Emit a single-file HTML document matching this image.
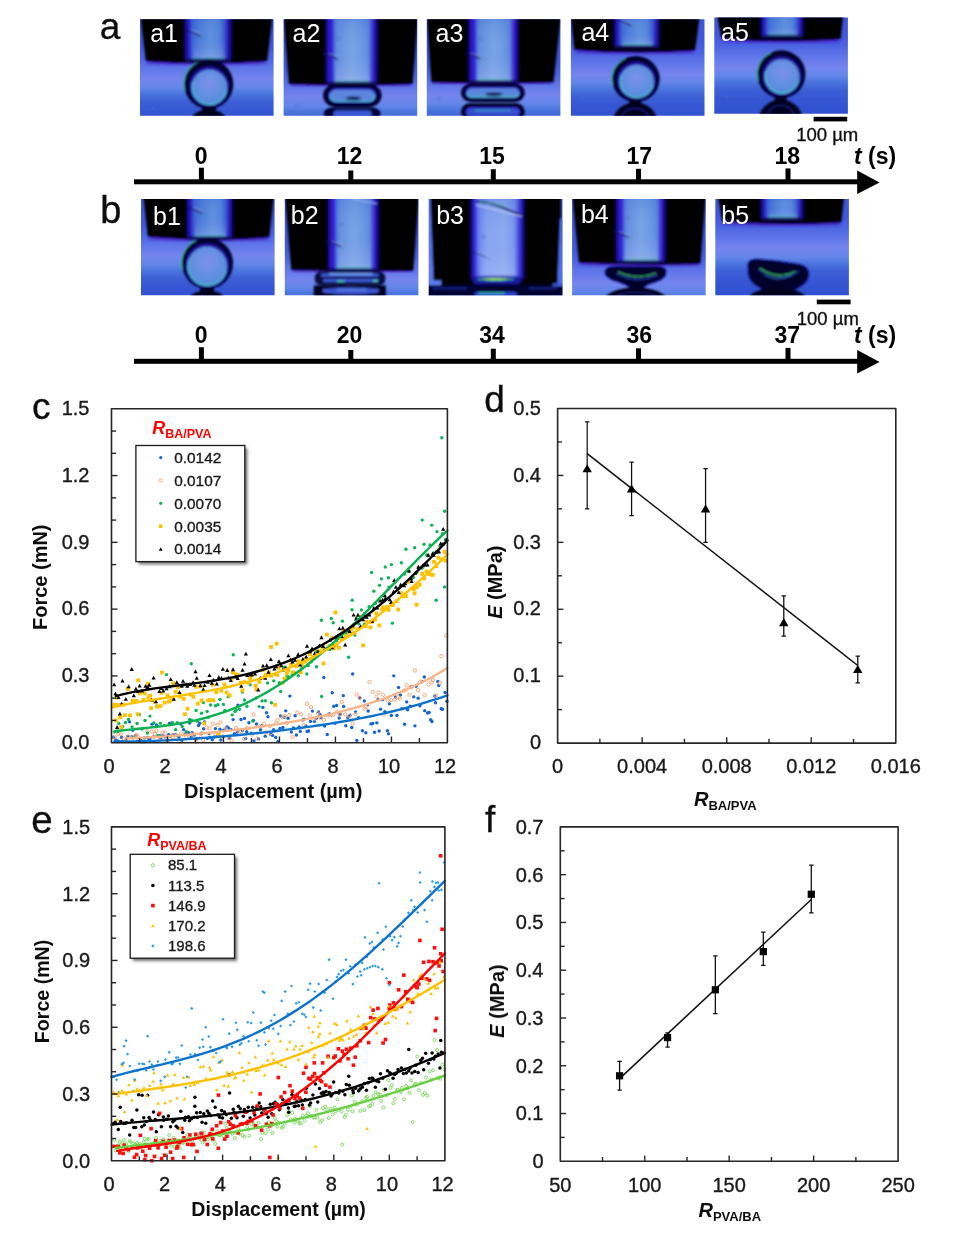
<!DOCTYPE html>
<html><head><meta charset="utf-8"><title>figure</title>
<style>html,body{margin:0;padding:0;background:#fff;}svg{display:block;}text{font-family:"Liberation Sans", sans-serif;}</style></head><body>
<svg width="955" height="1233" viewBox="0 0 955 1233">
<defs><filter id="shadow" x="-20%" y="-20%" width="140%" height="140%"><feGaussianBlur stdDeviation="1.6"/></filter><filter id="soft" x="0" y="0" width="100%" height="100%" filterUnits="userSpaceOnUse"><feGaussianBlur stdDeviation="0.42"/></filter></defs>
<rect width="955" height="1233" fill="#fff"/>
<g filter="url(#soft)">
<text x="99.8" y="38.8" font-size="37" text-anchor="start" font-weight="normal" font-style="normal" fill="#111"  stroke="#111" stroke-width="0.35">a</text>
<text x="100.2" y="222.7" font-size="38" text-anchor="start" font-weight="normal" font-style="normal" fill="#111"  stroke="#111" stroke-width="0.35">b</text>
<text x="32" y="418.5" font-size="37" text-anchor="start" font-weight="normal" font-style="normal" fill="#111"  stroke="#111" stroke-width="0.35">c</text>
<text x="484.2" y="412" font-size="37" text-anchor="start" font-weight="normal" font-style="normal" fill="#111"  stroke="#111" stroke-width="0.35">d</text>
<text x="31.3" y="832.6" font-size="38.5" text-anchor="start" font-weight="normal" font-style="normal" fill="#111"  stroke="#111" stroke-width="0.35">e</text>
<text x="485" y="831.5" font-size="37" text-anchor="start" font-weight="normal" font-style="normal" fill="#111"  stroke="#111" stroke-width="0.35">f</text>
<defs><filter id="b1" x="-10%" y="-10%" width="120%" height="120%"><feGaussianBlur stdDeviation="0.9"/></filter><filter id="b2" x="-20%" y="-20%" width="140%" height="140%"><feGaussianBlur stdDeviation="1.6"/></filter><filter id="b3" x="-30%" y="-30%" width="160%" height="160%"><feGaussianBlur stdDeviation="3"/></filter><linearGradient id="col" x1="0" y1="0" x2="1" y2="0"><stop offset="0" stop-color="#000"/><stop offset="0.035" stop-color="#0a0550"/><stop offset="0.08" stop-color="#2a14c4"/><stop offset="0.15" stop-color="#3626d4"/><stop offset="0.19" stop-color="#4c70dc"/><stop offset="0.24" stop-color="#6490de"/><stop offset="0.50" stop-color="#78a4e6"/><stop offset="0.66" stop-color="#6e9ce4"/><stop offset="0.80" stop-color="#5e8cde"/><stop offset="0.855" stop-color="#4a4cd6"/><stop offset="0.91" stop-color="#3016c6"/><stop offset="0.965" stop-color="#0c0658"/><stop offset="1" stop-color="#000"/></linearGradient><linearGradient id="colD" x1="0" y1="0" x2="1" y2="0"><stop offset="0" stop-color="#000"/><stop offset="0.04" stop-color="#0a0550"/><stop offset="0.08" stop-color="#2412b8"/><stop offset="0.13" stop-color="#2c28c8"/><stop offset="0.18" stop-color="#3c60d4"/><stop offset="0.30" stop-color="#4a7ad8"/><stop offset="0.55" stop-color="#5e90e0"/><stop offset="0.72" stop-color="#5486dc"/><stop offset="0.82" stop-color="#3c5cd2"/><stop offset="0.90" stop-color="#2a16bc"/><stop offset="0.96" stop-color="#0c0658"/><stop offset="1" stop-color="#000"/></linearGradient><linearGradient id="colB" x1="0" y1="0" x2="1" y2="0"><stop offset="0" stop-color="#000"/><stop offset="0.04" stop-color="#140a80"/><stop offset="0.10" stop-color="#3a2ae0"/><stop offset="0.17" stop-color="#6a84ee"/><stop offset="0.30" stop-color="#86a4f0"/><stop offset="0.62" stop-color="#8eacf2"/><stop offset="0.80" stop-color="#7a98ee"/><stop offset="0.88" stop-color="#4a48e2"/><stop offset="0.95" stop-color="#1a10a0"/><stop offset="1" stop-color="#000"/></linearGradient><linearGradient id="colV" x1="0" y1="0" x2="0" y2="1"><stop offset="0" stop-color="#2050c0" stop-opacity="0.22"/><stop offset="0.5" stop-color="#8090e0" stop-opacity="0"/><stop offset="1" stop-color="#c8d0ff" stop-opacity="0.3"/></linearGradient><radialGradient id="beadin" cx="0.5" cy="0.42" r="0.58" fx="0.5" fy="0.36"><stop offset="0" stop-color="#7c90ea"/><stop offset="0.45" stop-color="#6a90e4"/><stop offset="0.80" stop-color="#5a8ede"/><stop offset="1" stop-color="#4a8cdc"/></radialGradient></defs>
<defs><linearGradient id="bg1" gradientUnits="userSpaceOnUse" x1="0" y1="0" x2="0" y2="120"><stop offset="0" stop-color="#3f56dc"/><stop offset="0.23" stop-color="#4258dc"/><stop offset="0.32" stop-color="#4c64e2"/><stop offset="0.42" stop-color="#6278ea"/><stop offset="0.5" stop-color="#7484ee"/><stop offset="0.57" stop-color="#6486ea"/><stop offset="0.62" stop-color="#4a76de"/><stop offset="0.69" stop-color="#3c5ed6"/><stop offset="0.79" stop-color="#3454d2"/><stop offset="1" stop-color="#2e4cce"/></linearGradient></defs><clipPath id="pc1"><rect x="0" y="0" width="133.6" height="96.4"/></clipPath><g transform="translate(140,19.3)"><g clip-path="url(#pc1)"><rect x="-4" y="-4" width="141.6" height="104.4" fill="url(#bg1)"/><g filter="url(#b1)"><path d="M7.3,42.2 Q66.5,47 125.7,42.2" fill="none" stroke="#4212c0" stroke-width="3.4" filter="url(#b2)"/><path d="M0.5,-3 L5.8,41.6 Q66.5,46.4 127.2,41.6 L132.6,-3 Z" fill="#000"/><rect x="43" y="-2" width="50" height="42.5" fill="url(#colD)"/><rect x="53" y="-2" width="31.5" height="42.5" fill="url(#colV)"/><rect x="53" y="38.1" width="31" height="1.8" fill="#3cc4aa" opacity="0.8" filter="url(#b1)"/><rect x="45" y="39.6" width="46" height="3.2" fill="#0c0860" filter="url(#b1)"/><path d="M46,11.2 q7,1 14,5.2" stroke="#14146a" stroke-width="1.6" fill="none" opacity="0.85" stroke-linecap="round"/><path d="M51,11 q5,1 10,4" stroke="#b0c8f6" stroke-width="0.9" fill="none" opacity="0.6"/><circle cx="63" cy="18.2" r="0.9" fill="#2a9aa0" opacity="0.7"/><ellipse cx="68.75" cy="64.9" rx="24.6" ry="24.6" fill="#04042c"/><path d="M44.27,71.05 A24.6,24.6 0 0 1 57.68,43.01" fill="none" stroke="#34d08a" stroke-width="0.9" opacity="0.9"/><ellipse cx="69.17" cy="67.3" rx="19.79" ry="19.99" fill="#2a16b4" filter="url(#b1)"/><ellipse cx="69.45" cy="68.1" rx="17.59" ry="17.59" fill="url(#beadin)"/><path d="M53.48,62.32 A16.99,16.99 0 1 0 86.1,71.5" fill="none" stroke="#4cd8c4" stroke-width="1.2" opacity="0.85"/><ellipse cx="69.45" cy="68.1" rx="16.99" ry="16.99" fill="none" stroke="#58b8d8" stroke-width="0.7" opacity="0.5"/><ellipse cx="68.8" cy="100.12" rx="17" ry="9.92" fill="#02021a"/><rect x="61.8" y="87.2" width="14" height="6" fill="#02021a"/><circle cx="12.8" cy="89" r="1.1" fill="#6ab0d8" stroke="#3a48c0" stroke-width="0.7" opacity="0.75"/></g></g></g><text x="150.2" y="41.6" font-size="25" fill="#fff" font-family="&quot;Liberation Sans&quot;, sans-serif">a1</text>
<defs><linearGradient id="bg2" gradientUnits="userSpaceOnUse" x1="0" y1="18" x2="0" y2="138"><stop offset="0" stop-color="#3f56dc"/><stop offset="0.23" stop-color="#4258dc"/><stop offset="0.32" stop-color="#4c64e2"/><stop offset="0.42" stop-color="#6278ea"/><stop offset="0.5" stop-color="#7484ee"/><stop offset="0.57" stop-color="#6486ea"/><stop offset="0.62" stop-color="#4a76de"/><stop offset="0.69" stop-color="#3c5ed6"/><stop offset="0.79" stop-color="#3454d2"/><stop offset="1" stop-color="#2e4cce"/></linearGradient></defs><clipPath id="pc2"><rect x="0" y="0" width="133.6" height="96.4"/></clipPath><g transform="translate(283.6,19.3)"><g clip-path="url(#pc2)"><rect x="-4" y="-4" width="141.6" height="104.4" fill="url(#bg2)"/><g filter="url(#b1)"><path d="M6.8,65.4 Q67.15,67.4 127.5,65.4" fill="none" stroke="#4212c0" stroke-width="3.4" filter="url(#b2)"/><path d="M0,-3 L5.3,64.8 Q67.15,66.8 129,64.8 L134.4,-3 Z" fill="#000"/><rect x="40.5" y="-2" width="55" height="65.5" fill="url(#col)"/><rect x="51.5" y="-2" width="34.65" height="65.5" fill="url(#colV)"/><rect x="51.5" y="61.1" width="34.1" height="1.8" fill="#3cc4aa" opacity="0.8" filter="url(#b1)"/><rect x="42.7" y="62.6" width="50.6" height="3.2" fill="#0c0860" filter="url(#b1)"/><path d="M40,34.5 q7,1 14,5.2" stroke="#14146a" stroke-width="1.6" fill="none" opacity="0.85" stroke-linecap="round"/><path d="M45,34.3 q5,1 10,4" stroke="#b0c8f6" stroke-width="0.9" fill="none" opacity="0.6"/><circle cx="57" cy="41.5" r="0.9" fill="#2a9aa0" opacity="0.7"/><circle cx="55" cy="19.5" r="1.5" fill="#6ab0d8" stroke="#3a48c0" stroke-width="0.7" opacity="0.75"/><rect x="39.5" y="64.8" width="58.5" height="22.8" rx="11.97" ry="11.4" fill="#05052e"/><rect x="44.5" y="68.8" width="48.5" height="14.8" rx="8.4" ry="7.4" fill="#2a1cb8"/><rect x="46" y="70.33" width="45.5" height="12.07" rx="6.85" ry="6.2" fill="#5a86de"/><path d="M46.6,76.2 Q46.6,81.9 52.85,81.9 L84.65,81.9 Q90.9,81.9 90.9,76.2" fill="none" stroke="#4ad0b8" stroke-width="1.1" opacity="0.9"/><ellipse cx="69.75" cy="79.1" rx="7.61" ry="1.6" fill="#06062a" filter="url(#b1)"/><rect x="40" y="88.3" width="57" height="12" rx="9" fill="#06063a"/><rect x="50" y="91.2" width="38" height="8" rx="3" fill="#3a58d4"/><circle cx="13.5" cy="86.5" r="1.1" fill="#6ab0d8" stroke="#3a48c0" stroke-width="0.7" opacity="0.75"/></g></g></g><text x="292.6" y="41.6" font-size="25" fill="#fff" font-family="&quot;Liberation Sans&quot;, sans-serif">a2</text>
<defs><linearGradient id="bg3" gradientUnits="userSpaceOnUse" x1="0" y1="16" x2="0" y2="136"><stop offset="0" stop-color="#3f56dc"/><stop offset="0.23" stop-color="#4258dc"/><stop offset="0.32" stop-color="#4c64e2"/><stop offset="0.42" stop-color="#6278ea"/><stop offset="0.5" stop-color="#7484ee"/><stop offset="0.57" stop-color="#6486ea"/><stop offset="0.62" stop-color="#4a76de"/><stop offset="0.69" stop-color="#3c5ed6"/><stop offset="0.79" stop-color="#3454d2"/><stop offset="1" stop-color="#2e4cce"/></linearGradient></defs><clipPath id="pc3"><rect x="0" y="0" width="133.6" height="96.4"/></clipPath><g transform="translate(426.8,19.3)"><g clip-path="url(#pc3)"><rect x="-4" y="-4" width="141.6" height="104.4" fill="url(#bg3)"/><g filter="url(#b1)"><path d="M6.1,63.6 Q65.7,65.2 125.3,63.6" fill="none" stroke="#4212c0" stroke-width="3.4" filter="url(#b2)"/><path d="M0,-3 L4.6,63 Q65.7,64.6 126.8,63 L134,-3 Z" fill="#000"/><rect x="40" y="-2" width="53" height="64" fill="url(#col)"/><rect x="50.6" y="-2" width="33.39" height="64" fill="url(#colV)"/><rect x="50.6" y="59.6" width="32.86" height="1.8" fill="#3cc4aa" opacity="0.8" filter="url(#b1)"/><rect x="42.12" y="61.1" width="48.76" height="3.2" fill="#0c0860" filter="url(#b1)"/><path d="M39,34 q7,1 14,5.2" stroke="#14146a" stroke-width="1.6" fill="none" opacity="0.85" stroke-linecap="round"/><path d="M44,33.8 q5,1 10,4" stroke="#b0c8f6" stroke-width="0.9" fill="none" opacity="0.6"/><circle cx="56" cy="41" r="0.9" fill="#2a9aa0" opacity="0.7"/><circle cx="54" cy="19" r="1.5" fill="#6ab0d8" stroke="#3a48c0" stroke-width="0.7" opacity="0.75"/><rect x="34.2" y="64.2" width="63.8" height="18.4" rx="9.66" ry="9.2" fill="#05052e"/><rect x="38.4" y="67.56" width="55.4" height="11.68" rx="6.68" ry="5.84" fill="#2a1cb8"/><rect x="39.9" y="69.05" width="52.4" height="8.99" rx="5.21" ry="4.64" fill="#5a86de"/><path d="M40.5,73.4 Q40.5,77.54 45.11,77.54 L87.09,77.54 Q91.7,77.54 91.7,73.4" fill="none" stroke="#4ad0b8" stroke-width="1.1" opacity="0.9"/><ellipse cx="67.1" cy="74.9" rx="8.29" ry="1.6" fill="#06062a" filter="url(#b1)"/><rect x="34.2" y="84" width="63.8" height="17" rx="8.93" ry="8.5" fill="#03031e"/><rect x="38.4" y="87.36" width="55.4" height="10.28" rx="5.98" ry="5.14" fill="#2a1cb8"/><rect x="39.9" y="88.84" width="52.4" height="7.6" rx="4.51" ry="3.94" fill="#3650d0"/><rect x="48" y="90.5" width="36" height="1.4" fill="#3ab0b0" opacity="0.8"/><circle cx="12" cy="79" r="1.1" fill="#6ab0d8" stroke="#3a48c0" stroke-width="0.7" opacity="0.75"/></g></g></g><text x="435.6" y="41.6" font-size="25" fill="#fff" font-family="&quot;Liberation Sans&quot;, sans-serif">a3</text>
<defs><linearGradient id="bg4" gradientUnits="userSpaceOnUse" x1="0" y1="-5" x2="0" y2="115"><stop offset="0" stop-color="#3f56dc"/><stop offset="0.23" stop-color="#4258dc"/><stop offset="0.32" stop-color="#4c64e2"/><stop offset="0.42" stop-color="#6278ea"/><stop offset="0.5" stop-color="#7484ee"/><stop offset="0.57" stop-color="#6486ea"/><stop offset="0.62" stop-color="#4a76de"/><stop offset="0.69" stop-color="#3c5ed6"/><stop offset="0.79" stop-color="#3454d2"/><stop offset="1" stop-color="#2e4cce"/></linearGradient></defs><clipPath id="pc4"><rect x="0" y="0" width="133.6" height="96.4"/></clipPath><g transform="translate(570.9,19.3)"><g clip-path="url(#pc4)"><rect x="-4" y="-4" width="141.6" height="104.4" fill="url(#bg4)"/><g filter="url(#b1)"><path d="M5,31 Q63.85,35.9 122.7,31.6" fill="none" stroke="#4212c0" stroke-width="3.4" filter="url(#b2)"/><path d="M0,-3 L3.5,30.4 Q63.85,35.3 124.2,31 L128.8,-3 Z" fill="#000"/><rect x="41.5" y="-2" width="48.5" height="29" fill="url(#colD)"/><rect x="51.2" y="-2" width="30.55" height="29" fill="url(#colV)"/><rect x="51.2" y="24.6" width="30.07" height="1.8" fill="#3cc4aa" opacity="0.8" filter="url(#b1)"/><rect x="43.44" y="26.1" width="44.62" height="3.2" fill="#0c0860" filter="url(#b1)"/><path d="M46,1 q7,1 14,5.2" stroke="#14146a" stroke-width="1.6" fill="none" opacity="0.85" stroke-linecap="round"/><path d="M51,0.8 q5,1 10,4" stroke="#b0c8f6" stroke-width="0.9" fill="none" opacity="0.6"/><circle cx="63" cy="8" r="0.9" fill="#2a9aa0" opacity="0.7"/><ellipse cx="65" cy="59.7" rx="23.8" ry="22.9" fill="#04042c"/><path d="M41.32,65.42 A23.8,22.9 0 0 1 54.29,39.32" fill="none" stroke="#34d08a" stroke-width="0.9" opacity="0.9"/><ellipse cx="65.48" cy="61.5" rx="19.22" ry="18.77" fill="#2a16b4" filter="url(#b1)"/><ellipse cx="65.8" cy="62.1" rx="17.02" ry="16.37" fill="url(#beadin)"/><path d="M50.37,56.73 A16.42,15.8 0 1 0 81.89,65.26" fill="none" stroke="#4cd8c4" stroke-width="1.2" opacity="0.85"/><ellipse cx="65.8" cy="62.1" rx="16.42" ry="15.8" fill="none" stroke="#58b8d8" stroke-width="0.7" opacity="0.5"/><ellipse cx="64.2" cy="104.44" rx="22.5" ry="21.44" fill="#02021a"/><rect x="58.2" y="80" width="12" height="6" fill="#02021a"/><ellipse cx="64.2" cy="98" rx="13" ry="9" fill="none" stroke="#1c2c9c" stroke-width="1.4" opacity="0.7"/><circle cx="10.5" cy="79" r="1.1" fill="#6ab0d8" stroke="#3a48c0" stroke-width="0.7" opacity="0.75"/></g></g></g><text x="581.4" y="41" font-size="25" fill="#fff" font-family="&quot;Liberation Sans&quot;, sans-serif">a4</text>
<defs><linearGradient id="bg5" gradientUnits="userSpaceOnUse" x1="0" y1="-10" x2="0" y2="110"><stop offset="0" stop-color="#3f56dc"/><stop offset="0.23" stop-color="#4258dc"/><stop offset="0.32" stop-color="#4c64e2"/><stop offset="0.42" stop-color="#6278ea"/><stop offset="0.5" stop-color="#7484ee"/><stop offset="0.57" stop-color="#6486ea"/><stop offset="0.62" stop-color="#4a76de"/><stop offset="0.69" stop-color="#3c5ed6"/><stop offset="0.79" stop-color="#3454d2"/><stop offset="1" stop-color="#2e4cce"/></linearGradient></defs><clipPath id="pc5"><rect x="0" y="0" width="133.6" height="96.4"/></clipPath><g transform="translate(714.3,17.4)"><g clip-path="url(#pc5)"><rect x="-4" y="-4" width="141.6" height="104.4" fill="url(#bg5)"/><g filter="url(#b1)"><path d="M8.6,21.6 Q66.7,26.45 124.8,22.3" fill="none" stroke="#4212c0" stroke-width="3.4" filter="url(#b2)"/><path d="M2.6,-3 L7.1,21 Q66.7,25.85 126.3,21.7 L129,-3 Z" fill="#000"/><rect x="45" y="-2" width="45.5" height="20.6" fill="url(#colD)"/><rect x="54.1" y="-2" width="28.66" height="20.6" fill="url(#colV)"/><rect x="54.1" y="16.2" width="28.21" height="1.8" fill="#3cc4aa" opacity="0.8" filter="url(#b1)"/><rect x="46.82" y="17.7" width="41.86" height="3.2" fill="#0c0860" filter="url(#b1)"/><ellipse cx="67.1" cy="56.9" rx="24" ry="24" fill="#04042c"/><path d="M43.22,62.9 A24,24 0 0 1 56.3,35.54" fill="none" stroke="#34d08a" stroke-width="0.9" opacity="0.9"/><ellipse cx="67.46" cy="58.7" rx="19.36" ry="19.56" fill="#2a16b4" filter="url(#b1)"/><ellipse cx="67.7" cy="59.3" rx="17.16" ry="17.16" fill="url(#beadin)"/><path d="M52.13,53.67 A16.56,16.56 0 1 0 83.93,62.61" fill="none" stroke="#4cd8c4" stroke-width="1.2" opacity="0.85"/><ellipse cx="67.7" cy="59.3" rx="16.56" ry="16.56" fill="none" stroke="#58b8d8" stroke-width="0.7" opacity="0.5"/><ellipse cx="66.4" cy="105.04" rx="22.5" ry="23.04" fill="#02021a"/><rect x="60.4" y="79" width="12" height="6" fill="#02021a"/><ellipse cx="66.4" cy="98" rx="13" ry="10" fill="none" stroke="#1c2c9c" stroke-width="1.4" opacity="0.7"/><circle cx="12.5" cy="79.5" r="1.1" fill="#6ab0d8" stroke="#3a48c0" stroke-width="0.7" opacity="0.75"/></g></g></g><text x="721" y="41" font-size="25" fill="#fff" font-family="&quot;Liberation Sans&quot;, sans-serif">a5</text>
<defs><linearGradient id="bg6" gradientUnits="userSpaceOnUse" x1="0" y1="-3" x2="0" y2="117"><stop offset="0" stop-color="#3f56dc"/><stop offset="0.23" stop-color="#4258dc"/><stop offset="0.32" stop-color="#4c64e2"/><stop offset="0.42" stop-color="#6278ea"/><stop offset="0.5" stop-color="#7484ee"/><stop offset="0.57" stop-color="#6486ea"/><stop offset="0.62" stop-color="#4a76de"/><stop offset="0.69" stop-color="#3c5ed6"/><stop offset="0.79" stop-color="#3454d2"/><stop offset="1" stop-color="#2e4cce"/></linearGradient></defs><clipPath id="pc6"><rect x="0" y="0" width="133.6" height="96.4"/></clipPath><g transform="translate(141,198.9)"><g clip-path="url(#pc6)"><rect x="-4" y="-4" width="141.6" height="104.4" fill="url(#bg6)"/><g filter="url(#b1)"><path d="M8.3,38.3 Q67.55,43.75 126.8,39" fill="none" stroke="#4212c0" stroke-width="3.4" filter="url(#b2)"/><path d="M2.3,-3 L6.8,37.7 Q67.55,43.15 128.3,38.4 L132.9,-3 Z" fill="#000"/><rect x="44" y="-2" width="49.5" height="40.5" fill="url(#colD)"/><rect x="53.9" y="-2" width="31.18" height="40.5" fill="url(#colV)"/><rect x="53.9" y="36.1" width="30.69" height="1.8" fill="#3cc4aa" opacity="0.8" filter="url(#b1)"/><rect x="45.98" y="37.6" width="45.54" height="3.2" fill="#0c0860" filter="url(#b1)"/><path d="M47,9 q7,1 14,5.2" stroke="#14146a" stroke-width="1.6" fill="none" opacity="0.85" stroke-linecap="round"/><path d="M52,8.8 q5,1 10,4" stroke="#b0c8f6" stroke-width="0.9" fill="none" opacity="0.6"/><circle cx="64" cy="16" r="0.9" fill="#2a9aa0" opacity="0.7"/><ellipse cx="66.5" cy="64.4" rx="25.6" ry="25.6" fill="#04042c"/><path d="M41.03,70.8 A25.6,25.6 0 0 1 54.98,41.62" fill="none" stroke="#34d08a" stroke-width="0.9" opacity="0.9"/><ellipse cx="66.32" cy="66.65" rx="21.8" ry="22" fill="#2a16b4" filter="url(#b1)"/><ellipse cx="66.2" cy="67.4" rx="19.6" ry="19.6" fill="url(#beadin)"/><path d="M48.34,60.94 A19,19 0 1 0 84.82,71.2" fill="none" stroke="#4cd8c4" stroke-width="1.2" opacity="0.85"/><ellipse cx="66.2" cy="67.4" rx="19" ry="19" fill="none" stroke="#58b8d8" stroke-width="0.7" opacity="0.5"/><ellipse cx="66" cy="99.28" rx="17" ry="7.68" fill="#02021a"/><rect x="59" y="88.6" width="14" height="6" fill="#02021a"/></g></g></g><text x="153" y="225.2" font-size="25" fill="#fff" font-family="&quot;Liberation Sans&quot;, sans-serif">b1</text>
<defs><linearGradient id="bg7" gradientUnits="userSpaceOnUse" x1="0" y1="20" x2="0" y2="140"><stop offset="0" stop-color="#3f56dc"/><stop offset="0.23" stop-color="#4258dc"/><stop offset="0.32" stop-color="#4c64e2"/><stop offset="0.42" stop-color="#6278ea"/><stop offset="0.5" stop-color="#7484ee"/><stop offset="0.57" stop-color="#6486ea"/><stop offset="0.62" stop-color="#4a76de"/><stop offset="0.69" stop-color="#3c5ed6"/><stop offset="0.79" stop-color="#3454d2"/><stop offset="1" stop-color="#2e4cce"/></linearGradient></defs><clipPath id="pc7"><rect x="0" y="0" width="133.6" height="96.4"/></clipPath><g transform="translate(284.8,198.9)"><g clip-path="url(#pc7)"><rect x="-4" y="-4" width="141.6" height="104.4" fill="url(#bg7)"/><g filter="url(#b1)"><path d="M7.9,71.6 Q67.5,73.2 127.1,72.4" fill="none" stroke="#4212c0" stroke-width="3.4" filter="url(#b2)"/><path d="M0.3,-3 L6.4,71 Q67.5,72.6 128.6,71.8 L134,-3 Z" fill="#000"/><rect x="41.5" y="-2" width="54" height="72.5" fill="url(#col)"/><rect x="52.3" y="-2" width="34.02" height="72.5" fill="url(#colV)"/><rect x="52.3" y="68.1" width="33.48" height="1.8" fill="#3cc4aa" opacity="0.8" filter="url(#b1)"/><rect x="43.66" y="69.6" width="49.68" height="3.2" fill="#0c0860" filter="url(#b1)"/><path d="M42,42.5 q7,1 14,5.2" stroke="#14146a" stroke-width="1.6" fill="none" opacity="0.85" stroke-linecap="round"/><path d="M47,42.3 q5,1 10,4" stroke="#b0c8f6" stroke-width="0.9" fill="none" opacity="0.6"/><circle cx="59" cy="49.5" r="0.9" fill="#2a9aa0" opacity="0.7"/><circle cx="56.5" cy="26" r="1.5" fill="#6ab0d8" stroke="#3a48c0" stroke-width="0.7" opacity="0.75"/><path d="M68,0 L92,5" stroke="#a0b8f2" stroke-width="1.3" opacity="0.8"/><rect x="30" y="72.6" width="70.5" height="13.8" rx="6" fill="#08083c"/><rect x="36" y="74.5" width="58" height="3.4" rx="1.7" fill="#3a58d8"/><rect x="44" y="74.2" width="44" height="2.2" rx="1" fill="#6a96e4"/><rect x="38" y="80.2" width="56" height="3.0" rx="1.5" fill="#3a58d6"/><rect x="52" y="81.6" width="8" height="1.6" rx="0.8" fill="#4ad0b0"/><rect x="88" y="81.2" width="5" height="1.6" rx="0.8" fill="#4ad0b0"/><path d="M29,86.5 h72 v12 h-72 z" fill="#04041e"/><path d="M38,90 Q66,87 94,90 L94,93.5 Q66,97.5 38,93.5 Z" fill="#3a54d4"/><rect x="52" y="90" width="30" height="2" fill="#5a84e0" opacity="0.8"/></g></g></g><text x="290.8" y="223.9" font-size="25" fill="#fff" font-family="&quot;Liberation Sans&quot;, sans-serif">b2</text>
<defs><linearGradient id="bg8" gradientUnits="userSpaceOnUse" x1="0" y1="10" x2="0" y2="130"><stop offset="0" stop-color="#3f56dc"/><stop offset="0.23" stop-color="#4258dc"/><stop offset="0.32" stop-color="#4c64e2"/><stop offset="0.42" stop-color="#6278ea"/><stop offset="0.5" stop-color="#7484ee"/><stop offset="0.57" stop-color="#6486ea"/><stop offset="0.62" stop-color="#4a76de"/><stop offset="0.69" stop-color="#3c5ed6"/><stop offset="0.79" stop-color="#3454d2"/><stop offset="1" stop-color="#2e4cce"/></linearGradient></defs><clipPath id="pc8"><rect x="0" y="0" width="133.6" height="96.4"/></clipPath><g transform="translate(428.8,198.9)"><g clip-path="url(#pc8)"><rect x="-4" y="-4" width="141.6" height="104.4" fill="url(#bg8)"/><g filter="url(#b1)"><rect x="1.5" y="-3" width="130.6" height="90" fill="#000"/><path d="M-1,-3 L1.2,-3 L4.8,84 L-1,84 Z" fill="#5a7af0"/><path d="M131.5,20 L134.5,20 L134.5,88 L128.5,88 Z" fill="#5070ec"/><rect x="-2" y="86" width="140" height="14" fill="#040430"/><rect x="0" y="81.5" width="12.5" height="4.8" fill="#5a7cf0"/><rect x="124" y="84.5" width="12" height="3" fill="#3a5ce0"/><rect x="4" y="88.5" width="34" height="2" fill="#1c2ca0" opacity="0.8"/><rect x="100" y="88.5" width="28" height="2" fill="#1c2ca0" opacity="0.7"/><rect x="40.5" y="-2" width="56" height="82" fill="url(#colB)"/><rect x="51.7" y="-2" width="35.28" height="82" fill="url(#colV)"/><rect x="51.7" y="77.6" width="34.72" height="1.8" fill="#3cc4aa" opacity="0.8" filter="url(#b1)"/><rect x="42.74" y="79.1" width="51.52" height="3.2" fill="#0c0860" filter="url(#b1)"/><path d="M48,2.5 Q60,3 72,8 T92,16" stroke="#0c1060" stroke-width="2" fill="none" opacity="0.9"/><path d="M50,3.5 Q62,4 76,7.5" stroke="#3cc070" stroke-width="0.9" fill="none" opacity="0.9"/><path d="M47,6 L93,17.5" stroke="#c8d6fa" stroke-width="1.3" opacity="0.8"/><path d="M43,53 q7,1 14,5.2" stroke="#14146a" stroke-width="1.6" fill="none" opacity="0.4" stroke-linecap="round"/><path d="M48,52.8 q5,1 10,4" stroke="#b0c8f6" stroke-width="0.9" fill="none" opacity="0.6"/><circle cx="60" cy="60" r="0.9" fill="#2a9aa0" opacity="0.7"/><circle cx="55" cy="37.5" r="1.5" fill="#6ab0d8" stroke="#3a48c0" stroke-width="0.7" opacity="0.75"/><rect x="44" y="77.5" width="48" height="8" rx="4" fill="#1c18a8" filter="url(#b1)"/><path d="M49,80.2 Q66,77.8 85,80.2 Q66,82.6 49,80.2 Z" fill="#9ade40"/><path d="M49,80.6 Q66,83.2 85,80.6" stroke="#30c8a0" stroke-width="0.9" fill="none"/><rect x="46" y="92.8" width="42" height="6" rx="2" fill="#2a40c8"/><rect x="50" y="93.5" width="26" height="1.6" fill="#38b8a0"/></g></g></g><text x="436.2" y="223.9" font-size="25" fill="#fff" font-family="&quot;Liberation Sans&quot;, sans-serif">b3</text>
<defs><linearGradient id="bg9" gradientUnits="userSpaceOnUse" x1="0" y1="24" x2="0" y2="144"><stop offset="0" stop-color="#3f56dc"/><stop offset="0.23" stop-color="#4258dc"/><stop offset="0.32" stop-color="#4c64e2"/><stop offset="0.42" stop-color="#6278ea"/><stop offset="0.5" stop-color="#7484ee"/><stop offset="0.57" stop-color="#6486ea"/><stop offset="0.62" stop-color="#4a76de"/><stop offset="0.69" stop-color="#3c5ed6"/><stop offset="0.79" stop-color="#3454d2"/><stop offset="1" stop-color="#2e4cce"/></linearGradient></defs><clipPath id="pc9"><rect x="0" y="0" width="133.6" height="96.4"/></clipPath><g transform="translate(572.1,198.9)"><g clip-path="url(#pc9)"><rect x="-4" y="-4" width="141.6" height="104.4" fill="url(#bg9)"/><g filter="url(#b1)"><path d="M8.3,64.1 Q67.55,67.5 126.8,65.3" fill="none" stroke="#4212c0" stroke-width="3.4" filter="url(#b2)"/><path d="M0.3,-3 L6.8,63.5 Q67.55,66.9 128.3,64.7 L133.6,-3 Z" fill="#000"/><rect x="42" y="-2" width="53" height="64.5" fill="url(#col)"/><rect x="52.6" y="-2" width="33.39" height="64.5" fill="url(#colV)"/><rect x="52.6" y="60.1" width="32.86" height="1.8" fill="#3cc4aa" opacity="0.8" filter="url(#b1)"/><rect x="44.12" y="61.6" width="48.76" height="3.2" fill="#0c0860" filter="url(#b1)"/><path d="M42,33 q7,1 14,5.2" stroke="#14146a" stroke-width="1.6" fill="none" opacity="0.85" stroke-linecap="round"/><path d="M47,32.8 q5,1 10,4" stroke="#b0c8f6" stroke-width="0.9" fill="none" opacity="0.6"/><circle cx="59" cy="40" r="0.9" fill="#2a9aa0" opacity="0.7"/><circle cx="56" cy="19" r="1.5" fill="#6ab0d8" stroke="#3a48c0" stroke-width="0.7" opacity="0.75"/><path d="M33,72.5 Q33.5,67.6 44,67.6 L84,67.6 Q94.5,67.6 94,73.5 Q93.5,80 83,83 Q75,85 71,89 L71,92 L58,92 L58,89 Q54,85 45,82.5 Q32.5,79 33,72.5 Z" fill="#04042a" stroke="#14148a" stroke-width="1"/><path d="M46.3,73.0 Q66,82.0 83.5,74.4" stroke="#3cc070" stroke-width="1.1" fill="none" stroke-linecap="round"/><path d="M44,74.8 Q66,86 86,75.8" stroke="#2a48d0" stroke-width="1.2" fill="none" opacity="0.8"/><ellipse cx="63.5" cy="101.08" rx="31" ry="12.48" fill="#02021a"/><ellipse cx="64" cy="98.5" rx="20" ry="5" fill="none" stroke="#1c2c9c" stroke-width="1.2" opacity="0.7"/></g></g></g><text x="580.9" y="222.7" font-size="25" fill="#fff" font-family="&quot;Liberation Sans&quot;, sans-serif">b4</text>
<defs><linearGradient id="bg10" gradientUnits="userSpaceOnUse" x1="0" y1="-10" x2="0" y2="110"><stop offset="0" stop-color="#3f56dc"/><stop offset="0.23" stop-color="#4258dc"/><stop offset="0.32" stop-color="#4c64e2"/><stop offset="0.42" stop-color="#6278ea"/><stop offset="0.5" stop-color="#7484ee"/><stop offset="0.57" stop-color="#6486ea"/><stop offset="0.62" stop-color="#4a76de"/><stop offset="0.69" stop-color="#3c5ed6"/><stop offset="0.79" stop-color="#3454d2"/><stop offset="1" stop-color="#2e4cce"/></linearGradient></defs><clipPath id="pc10"><rect x="0" y="0" width="133.6" height="96.4"/></clipPath><g transform="translate(715.3,198.9)"><g clip-path="url(#pc10)"><rect x="-4" y="-4" width="141.6" height="104.4" fill="url(#bg10)"/><g filter="url(#b1)"><path d="M8.3,22.9 Q66.4,27.75 124.5,24" fill="none" stroke="#4212c0" stroke-width="3.4" filter="url(#b2)"/><path d="M2.6,-3 L6.8,22.3 Q66.4,27.15 126,23.4 L129,-3 Z" fill="#000"/><rect x="44" y="-2" width="45.5" height="21.6" fill="url(#colD)"/><rect x="53.1" y="-2" width="28.66" height="21.6" fill="url(#colV)"/><rect x="53.1" y="17.2" width="28.21" height="1.8" fill="#3cc4aa" opacity="0.8" filter="url(#b1)"/><rect x="45.82" y="18.7" width="41.86" height="3.2" fill="#0c0860" filter="url(#b1)"/><path d="M32.5,66 Q33.5,60.2 42,60.4 Q62,61.8 84,65.5 Q94,67.5 93.4,76 Q92.4,84 84,88 L78,92 L48,92 L44,88 Q35,84.5 33.2,75 Z" fill="#04042a" stroke="#14148a" stroke-width="1"/><path d="M44.8,69.5 Q62,81.5 79.7,72.6" stroke="#3cc470" stroke-width="1.2" fill="none" stroke-linecap="round"/><path d="M50,75.5 Q63,83 76,76" stroke="#2a9890" stroke-width="1.8" fill="none" opacity="0.6" stroke-linecap="round"/><path d="M42,70 Q62,88 84,72" stroke="#2a44d0" stroke-width="1.2" fill="none" opacity="0.7"/><ellipse cx="62" cy="100.96" rx="29" ry="12.16" fill="#02021a"/></g></g></g><text x="721.3" y="224.1" font-size="25" fill="#fff" font-family="&quot;Liberation Sans&quot;, sans-serif">b5</text>
<rect x="813.6" y="116.8" width="33.6" height="4.6" fill="#000"/>
<text x="796.2" y="141.4" font-size="18.5" text-anchor="start" font-weight="normal" font-style="normal" fill="#111"  stroke="#111" stroke-width="0.35">100 µm</text>
<rect x="816.8" y="299.6" width="33.8" height="4.7" fill="#000"/>
<text x="796.8" y="324.8" font-size="18.5" text-anchor="start" font-weight="normal" font-style="normal" fill="#111"  stroke="#111" stroke-width="0.35">100 µm</text>
<rect x="134" y="179.3" width="725" height="5" fill="#000"/>
<polygon points="857.2,170.6 879.6,182.4 857.2,194" fill="#000"/>
<rect x="198.9" y="167.7" width="5" height="14.1" fill="#000"/>
<text x="201.2" y="163.6" font-size="23" text-anchor="middle" font-weight="bold" font-style="normal" fill="#000" >0</text>
<rect x="348.3" y="170.5" width="5" height="11.3" fill="#000"/>
<text x="349.5" y="163.6" font-size="23" text-anchor="middle" font-weight="bold" font-style="normal" fill="#000" >12</text>
<rect x="490.8" y="169.2" width="5" height="12.6" fill="#000"/>
<text x="492" y="163.6" font-size="23" text-anchor="middle" font-weight="bold" font-style="normal" fill="#000" >15</text>
<rect x="636" y="168.8" width="5" height="13" fill="#000"/>
<text x="639.2" y="163.6" font-size="23" text-anchor="middle" font-weight="bold" font-style="normal" fill="#000" >17</text>
<rect x="785.5" y="168.4" width="5" height="13.4" fill="#000"/>
<text x="787.2" y="163.6" font-size="23" text-anchor="middle" font-weight="bold" font-style="normal" fill="#000" >18</text>
<text x="854" y="163.6" font-size="23" font-weight="bold" fill="#000"><tspan font-style="italic">t</tspan> (s)</text>
<rect x="134" y="358.8" width="725" height="5" fill="#000"/>
<polygon points="857.2,350.1 879.6,361.9 857.2,373.5" fill="#000"/>
<rect x="198.9" y="347.2" width="5" height="14.1" fill="#000"/>
<text x="201.2" y="343.1" font-size="23" text-anchor="middle" font-weight="bold" font-style="normal" fill="#000" >0</text>
<rect x="348.3" y="350" width="5" height="11.3" fill="#000"/>
<text x="349.5" y="343.1" font-size="23" text-anchor="middle" font-weight="bold" font-style="normal" fill="#000" >20</text>
<rect x="490.8" y="348.7" width="5" height="12.6" fill="#000"/>
<text x="492" y="343.1" font-size="23" text-anchor="middle" font-weight="bold" font-style="normal" fill="#000" >34</text>
<rect x="636" y="348.3" width="5" height="13" fill="#000"/>
<text x="639.2" y="343.1" font-size="23" text-anchor="middle" font-weight="bold" font-style="normal" fill="#000" >36</text>
<rect x="785.5" y="347.9" width="5" height="13.4" fill="#000"/>
<text x="787.2" y="343.1" font-size="23" text-anchor="middle" font-weight="bold" font-style="normal" fill="#000" >37</text>
<text x="854" y="343.1" font-size="23" font-weight="bold" fill="#000"><tspan font-style="italic">t</tspan> (s)</text>
<clipPath id="clipc"><rect x="109.5" y="408.8" width="339.9" height="335.9"/></clipPath>
<g clip-path="url(#clipc)">
<g><circle cx="113.62" cy="737.26" r="1.7" fill="#1464d2"/><circle cx="115.46" cy="739.94" r="1.7" fill="#1464d2"/><circle cx="117.42" cy="740.93" r="1.7" fill="#1464d2"/><circle cx="118.32" cy="741.18" r="1.7" fill="#1464d2"/><circle cx="121.5" cy="737.32" r="1.7" fill="#1464d2"/><circle cx="121.95" cy="741.36" r="1.7" fill="#1464d2"/><circle cx="123.76" cy="741.6" r="1.7" fill="#1464d2"/><circle cx="125.92" cy="739.9" r="1.7" fill="#1464d2"/><circle cx="127.81" cy="736.4" r="1.7" fill="#1464d2"/><circle cx="129.47" cy="721.73" r="1.7" fill="#1464d2"/><circle cx="131.84" cy="736.63" r="1.7" fill="#1464d2"/><circle cx="132.72" cy="730.2" r="1.7" fill="#1464d2"/><circle cx="135.37" cy="736.06" r="1.7" fill="#1464d2"/><circle cx="137.3" cy="741.28" r="1.7" fill="#1464d2"/><circle cx="138.99" cy="741.59" r="1.7" fill="#1464d2"/><circle cx="140.86" cy="739.9" r="1.7" fill="#1464d2"/><circle cx="142.3" cy="741.69" r="1.7" fill="#1464d2"/><circle cx="144.36" cy="737.95" r="1.7" fill="#1464d2"/><circle cx="144.78" cy="741.13" r="1.7" fill="#1464d2"/><circle cx="147.61" cy="737.5" r="1.7" fill="#1464d2"/><circle cx="149" cy="739.73" r="1.7" fill="#1464d2"/><circle cx="150.08" cy="738.55" r="1.7" fill="#1464d2"/><circle cx="151.97" cy="724.13" r="1.7" fill="#1464d2"/><circle cx="153.87" cy="736.73" r="1.7" fill="#1464d2"/><circle cx="156.51" cy="724.98" r="1.7" fill="#1464d2"/><circle cx="157.25" cy="726.29" r="1.7" fill="#1464d2"/><circle cx="159.9" cy="735.77" r="1.7" fill="#1464d2"/><circle cx="160.58" cy="738.14" r="1.7" fill="#1464d2"/><circle cx="162.78" cy="735.61" r="1.7" fill="#1464d2"/><circle cx="164.87" cy="736.82" r="1.7" fill="#1464d2"/><circle cx="167.15" cy="740.25" r="1.7" fill="#1464d2"/><circle cx="168.65" cy="734.68" r="1.7" fill="#1464d2"/><circle cx="169.55" cy="723.37" r="1.7" fill="#1464d2"/><circle cx="171.66" cy="722.92" r="1.7" fill="#1464d2"/><circle cx="173.14" cy="734.61" r="1.7" fill="#1464d2"/><circle cx="174.93" cy="734.61" r="1.7" fill="#1464d2"/><circle cx="176.56" cy="735.18" r="1.7" fill="#1464d2"/><circle cx="178.93" cy="736.95" r="1.7" fill="#1464d2"/><circle cx="180.77" cy="723.92" r="1.7" fill="#1464d2"/><circle cx="181.59" cy="740.62" r="1.7" fill="#1464d2"/><circle cx="183.6" cy="729.66" r="1.7" fill="#1464d2"/><circle cx="185.99" cy="733.37" r="1.7" fill="#1464d2"/><circle cx="188.4" cy="732.66" r="1.7" fill="#1464d2"/><circle cx="189.7" cy="722.94" r="1.7" fill="#1464d2"/><circle cx="191.47" cy="736.55" r="1.7" fill="#1464d2"/><circle cx="192.16" cy="732.37" r="1.7" fill="#1464d2"/><circle cx="194.39" cy="734.94" r="1.7" fill="#1464d2"/><circle cx="196.81" cy="738.47" r="1.7" fill="#1464d2"/><circle cx="198.57" cy="725.47" r="1.7" fill="#1464d2"/><circle cx="199.72" cy="723.27" r="1.7" fill="#1464d2"/><circle cx="201.59" cy="733.31" r="1.7" fill="#1464d2"/><circle cx="203.68" cy="728.81" r="1.7" fill="#1464d2"/><circle cx="204.57" cy="722.03" r="1.7" fill="#1464d2"/><circle cx="207.36" cy="738.51" r="1.7" fill="#1464d2"/><circle cx="209.13" cy="733.43" r="1.7" fill="#1464d2"/><circle cx="209.86" cy="737.47" r="1.7" fill="#1464d2"/><circle cx="212.25" cy="739.72" r="1.7" fill="#1464d2"/><circle cx="214.36" cy="736.93" r="1.7" fill="#1464d2"/><circle cx="215.42" cy="728.6" r="1.7" fill="#1464d2"/><circle cx="217.09" cy="736.29" r="1.7" fill="#1464d2"/><circle cx="219.97" cy="729.26" r="1.7" fill="#1464d2"/><circle cx="220.81" cy="739.99" r="1.7" fill="#1464d2"/><circle cx="223.33" cy="730.48" r="1.7" fill="#1464d2"/><circle cx="224.74" cy="729.93" r="1.7" fill="#1464d2"/><circle cx="226.9" cy="726.9" r="1.7" fill="#1464d2"/><circle cx="228.46" cy="727.95" r="1.7" fill="#1464d2"/><circle cx="229.81" cy="738.39" r="1.7" fill="#1464d2"/><circle cx="231.19" cy="729.62" r="1.7" fill="#1464d2"/><circle cx="233.12" cy="719.61" r="1.7" fill="#1464d2"/><circle cx="234.49" cy="733.6" r="1.7" fill="#1464d2"/><circle cx="237.26" cy="731.96" r="1.7" fill="#1464d2"/><circle cx="237.93" cy="705.09" r="1.7" fill="#1464d2"/><circle cx="240.97" cy="719.46" r="1.7" fill="#1464d2"/><circle cx="242.42" cy="730.58" r="1.7" fill="#1464d2"/><circle cx="244.46" cy="718.41" r="1.7" fill="#1464d2"/><circle cx="245.69" cy="738.59" r="1.7" fill="#1464d2"/><circle cx="246.72" cy="731.78" r="1.7" fill="#1464d2"/><circle cx="248.89" cy="722.71" r="1.7" fill="#1464d2"/><circle cx="251.19" cy="733.31" r="1.7" fill="#1464d2"/><circle cx="253.42" cy="720.45" r="1.7" fill="#1464d2"/><circle cx="253.95" cy="740.83" r="1.7" fill="#1464d2"/><circle cx="256.49" cy="723.93" r="1.7" fill="#1464d2"/><circle cx="258.66" cy="738.89" r="1.7" fill="#1464d2"/><circle cx="260.52" cy="729.77" r="1.7" fill="#1464d2"/><circle cx="261.93" cy="725.78" r="1.7" fill="#1464d2"/><circle cx="262.88" cy="707.39" r="1.7" fill="#1464d2"/><circle cx="265.16" cy="736.15" r="1.7" fill="#1464d2"/><circle cx="266.57" cy="712.81" r="1.7" fill="#1464d2"/><circle cx="267.96" cy="716.8" r="1.7" fill="#1464d2"/><circle cx="270.36" cy="734.04" r="1.7" fill="#1464d2"/><circle cx="272.61" cy="735.42" r="1.7" fill="#1464d2"/><circle cx="273.64" cy="729.77" r="1.7" fill="#1464d2"/><circle cx="275.69" cy="737.43" r="1.7" fill="#1464d2"/><circle cx="277.96" cy="741.54" r="1.7" fill="#1464d2"/><circle cx="279.89" cy="728.46" r="1.7" fill="#1464d2"/><circle cx="280.61" cy="715.97" r="1.7" fill="#1464d2"/><circle cx="282.92" cy="727.54" r="1.7" fill="#1464d2"/><circle cx="284.16" cy="717.28" r="1.7" fill="#1464d2"/><circle cx="285.76" cy="710.84" r="1.7" fill="#1464d2"/><circle cx="288.1" cy="718.22" r="1.7" fill="#1464d2"/><circle cx="289.91" cy="696.08" r="1.7" fill="#1464d2"/><circle cx="291.35" cy="732.01" r="1.7" fill="#1464d2"/><circle cx="293.37" cy="728.03" r="1.7" fill="#1464d2"/><circle cx="295.09" cy="715.72" r="1.7" fill="#1464d2"/><circle cx="296.42" cy="734.95" r="1.7" fill="#1464d2"/><circle cx="299.05" cy="727.04" r="1.7" fill="#1464d2"/><circle cx="300.27" cy="731.38" r="1.7" fill="#1464d2"/><circle cx="302.74" cy="720.06" r="1.7" fill="#1464d2"/><circle cx="304.27" cy="719.11" r="1.7" fill="#1464d2"/><circle cx="305.89" cy="726.02" r="1.7" fill="#1464d2"/><circle cx="307.12" cy="731.48" r="1.7" fill="#1464d2"/><circle cx="308.51" cy="731.02" r="1.7" fill="#1464d2"/><circle cx="310.48" cy="721.42" r="1.7" fill="#1464d2"/><circle cx="312.43" cy="711.09" r="1.7" fill="#1464d2"/><circle cx="314.44" cy="721.24" r="1.7" fill="#1464d2"/><circle cx="316.37" cy="718.2" r="1.7" fill="#1464d2"/><circle cx="318.47" cy="711.91" r="1.7" fill="#1464d2"/><circle cx="320.06" cy="714.51" r="1.7" fill="#1464d2"/><circle cx="321.14" cy="717.41" r="1.7" fill="#1464d2"/><circle cx="323.81" cy="677.48" r="1.7" fill="#1464d2"/><circle cx="324.54" cy="726.02" r="1.7" fill="#1464d2"/><circle cx="327.24" cy="734.46" r="1.7" fill="#1464d2"/><circle cx="328.94" cy="714.11" r="1.7" fill="#1464d2"/><circle cx="329.47" cy="713.89" r="1.7" fill="#1464d2"/><circle cx="332.29" cy="692.7" r="1.7" fill="#1464d2"/><circle cx="333.77" cy="706.3" r="1.7" fill="#1464d2"/><circle cx="335.03" cy="723.19" r="1.7" fill="#1464d2"/><circle cx="336.65" cy="705.5" r="1.7" fill="#1464d2"/><circle cx="339.15" cy="718.03" r="1.7" fill="#1464d2"/><circle cx="340.3" cy="714.31" r="1.7" fill="#1464d2"/><circle cx="343.24" cy="695.65" r="1.7" fill="#1464d2"/><circle cx="343.63" cy="706.43" r="1.7" fill="#1464d2"/><circle cx="345.81" cy="725.71" r="1.7" fill="#1464d2"/><circle cx="347.87" cy="717.58" r="1.7" fill="#1464d2"/><circle cx="349.92" cy="715.22" r="1.7" fill="#1464d2"/><circle cx="351.74" cy="727.44" r="1.7" fill="#1464d2"/><circle cx="352.64" cy="673.98" r="1.7" fill="#1464d2"/><circle cx="355.51" cy="712.03" r="1.7" fill="#1464d2"/><circle cx="356.85" cy="740.41" r="1.7" fill="#1464d2"/><circle cx="358.56" cy="717.76" r="1.7" fill="#1464d2"/><circle cx="359.78" cy="697.98" r="1.7" fill="#1464d2"/><circle cx="362.42" cy="730.71" r="1.7" fill="#1464d2"/><circle cx="364.32" cy="701.01" r="1.7" fill="#1464d2"/><circle cx="365.87" cy="732.81" r="1.7" fill="#1464d2"/><circle cx="367.56" cy="704.63" r="1.7" fill="#1464d2"/><circle cx="368.19" cy="710.93" r="1.7" fill="#1464d2"/><circle cx="370.95" cy="723.91" r="1.7" fill="#1464d2"/><circle cx="372.75" cy="723.46" r="1.7" fill="#1464d2"/><circle cx="374.5" cy="732.26" r="1.7" fill="#1464d2"/><circle cx="376.8" cy="722.85" r="1.7" fill="#1464d2"/><circle cx="378.09" cy="699.8" r="1.7" fill="#1464d2"/><circle cx="379.15" cy="730.95" r="1.7" fill="#1464d2"/><circle cx="380.58" cy="709.15" r="1.7" fill="#1464d2"/><circle cx="382.66" cy="699.67" r="1.7" fill="#1464d2"/><circle cx="384.89" cy="711.58" r="1.7" fill="#1464d2"/><circle cx="387.36" cy="730.8" r="1.7" fill="#1464d2"/><circle cx="388.49" cy="733.84" r="1.7" fill="#1464d2"/><circle cx="389.37" cy="703.83" r="1.7" fill="#1464d2"/><circle cx="391.33" cy="715.57" r="1.7" fill="#1464d2"/><circle cx="393.79" cy="675.85" r="1.7" fill="#1464d2"/><circle cx="395.42" cy="697.05" r="1.7" fill="#1464d2"/><circle cx="396.92" cy="715.42" r="1.7" fill="#1464d2"/><circle cx="398.55" cy="687.41" r="1.7" fill="#1464d2"/><circle cx="400.33" cy="694.98" r="1.7" fill="#1464d2"/><circle cx="401.87" cy="708.6" r="1.7" fill="#1464d2"/><circle cx="404.57" cy="724.26" r="1.7" fill="#1464d2"/><circle cx="406.71" cy="701.9" r="1.7" fill="#1464d2"/><circle cx="407.59" cy="709.72" r="1.7" fill="#1464d2"/><circle cx="410.21" cy="706.08" r="1.7" fill="#1464d2"/><circle cx="411.57" cy="686.76" r="1.7" fill="#1464d2"/><circle cx="413.74" cy="696.87" r="1.7" fill="#1464d2"/><circle cx="414.94" cy="725.85" r="1.7" fill="#1464d2"/><circle cx="416.03" cy="686.26" r="1.7" fill="#1464d2"/><circle cx="418.17" cy="698.17" r="1.7" fill="#1464d2"/><circle cx="419.95" cy="705.78" r="1.7" fill="#1464d2"/><circle cx="422.22" cy="681.64" r="1.7" fill="#1464d2"/><circle cx="424.33" cy="676.95" r="1.7" fill="#1464d2"/><circle cx="424.69" cy="710.67" r="1.7" fill="#1464d2"/><circle cx="427.52" cy="713.03" r="1.7" fill="#1464d2"/><circle cx="429.12" cy="712.57" r="1.7" fill="#1464d2"/><circle cx="430.73" cy="719.75" r="1.7" fill="#1464d2"/><circle cx="431.95" cy="721.44" r="1.7" fill="#1464d2"/><circle cx="434.77" cy="696.1" r="1.7" fill="#1464d2"/><circle cx="435.51" cy="702.68" r="1.7" fill="#1464d2"/><circle cx="437.82" cy="681.55" r="1.7" fill="#1464d2"/><circle cx="438.73" cy="685.48" r="1.7" fill="#1464d2"/><circle cx="441.23" cy="708.73" r="1.7" fill="#1464d2"/><circle cx="442.45" cy="709.24" r="1.7" fill="#1464d2"/><circle cx="445.06" cy="692.55" r="1.7" fill="#1464d2"/><circle cx="446.92" cy="701.28" r="1.7" fill="#1464d2"/></g>
<g><circle cx="115" cy="737.37" r="1.7" fill="none" stroke="#f4a070" stroke-width="0.9"/><circle cx="118.16" cy="733.71" r="1.7" fill="none" stroke="#f4a070" stroke-width="0.9"/><circle cx="120.77" cy="734.24" r="1.7" fill="none" stroke="#f4a070" stroke-width="0.9"/><circle cx="124.06" cy="738.59" r="1.7" fill="none" stroke="#f4a070" stroke-width="0.9"/><circle cx="126.23" cy="739.73" r="1.7" fill="none" stroke="#f4a070" stroke-width="0.9"/><circle cx="128.32" cy="736.59" r="1.7" fill="none" stroke="#f4a070" stroke-width="0.9"/><circle cx="132.69" cy="737.48" r="1.7" fill="none" stroke="#f4a070" stroke-width="0.9"/><circle cx="136.31" cy="734.83" r="1.7" fill="none" stroke="#f4a070" stroke-width="0.9"/><circle cx="137.45" cy="736.27" r="1.7" fill="none" stroke="#f4a070" stroke-width="0.9"/><circle cx="142.25" cy="739.14" r="1.7" fill="none" stroke="#f4a070" stroke-width="0.9"/><circle cx="144.29" cy="741.6" r="1.7" fill="none" stroke="#f4a070" stroke-width="0.9"/><circle cx="147.35" cy="731.27" r="1.7" fill="none" stroke="#f4a070" stroke-width="0.9"/><circle cx="151.9" cy="731.48" r="1.7" fill="none" stroke="#f4a070" stroke-width="0.9"/><circle cx="154.93" cy="734.03" r="1.7" fill="none" stroke="#f4a070" stroke-width="0.9"/><circle cx="156.34" cy="730.87" r="1.7" fill="none" stroke="#f4a070" stroke-width="0.9"/><circle cx="159.19" cy="740.23" r="1.7" fill="none" stroke="#f4a070" stroke-width="0.9"/><circle cx="162.64" cy="732.44" r="1.7" fill="none" stroke="#f4a070" stroke-width="0.9"/><circle cx="165.13" cy="733.21" r="1.7" fill="none" stroke="#f4a070" stroke-width="0.9"/><circle cx="169.93" cy="739.45" r="1.7" fill="none" stroke="#f4a070" stroke-width="0.9"/><circle cx="173.09" cy="737.28" r="1.7" fill="none" stroke="#f4a070" stroke-width="0.9"/><circle cx="173.78" cy="735.22" r="1.7" fill="none" stroke="#f4a070" stroke-width="0.9"/><circle cx="179.4" cy="741.76" r="1.7" fill="none" stroke="#f4a070" stroke-width="0.9"/><circle cx="181.3" cy="733.49" r="1.7" fill="none" stroke="#f4a070" stroke-width="0.9"/><circle cx="184.86" cy="733.66" r="1.7" fill="none" stroke="#f4a070" stroke-width="0.9"/><circle cx="186.11" cy="737.16" r="1.7" fill="none" stroke="#f4a070" stroke-width="0.9"/><circle cx="190.7" cy="737.1" r="1.7" fill="none" stroke="#f4a070" stroke-width="0.9"/><circle cx="192.57" cy="733.55" r="1.7" fill="none" stroke="#f4a070" stroke-width="0.9"/><circle cx="196.08" cy="741.81" r="1.7" fill="none" stroke="#f4a070" stroke-width="0.9"/><circle cx="200.7" cy="737.16" r="1.7" fill="none" stroke="#f4a070" stroke-width="0.9"/><circle cx="203.06" cy="740.18" r="1.7" fill="none" stroke="#f4a070" stroke-width="0.9"/><circle cx="206.63" cy="727.64" r="1.7" fill="none" stroke="#f4a070" stroke-width="0.9"/><circle cx="209.5" cy="728.29" r="1.7" fill="none" stroke="#f4a070" stroke-width="0.9"/><circle cx="212.83" cy="723.83" r="1.7" fill="none" stroke="#f4a070" stroke-width="0.9"/><circle cx="215.45" cy="733.74" r="1.7" fill="none" stroke="#f4a070" stroke-width="0.9"/><circle cx="217.44" cy="724.94" r="1.7" fill="none" stroke="#f4a070" stroke-width="0.9"/><circle cx="220.36" cy="722.39" r="1.7" fill="none" stroke="#f4a070" stroke-width="0.9"/><circle cx="222.93" cy="736.58" r="1.7" fill="none" stroke="#f4a070" stroke-width="0.9"/><circle cx="225.58" cy="728.32" r="1.7" fill="none" stroke="#f4a070" stroke-width="0.9"/><circle cx="228.77" cy="738.17" r="1.7" fill="none" stroke="#f4a070" stroke-width="0.9"/><circle cx="231.67" cy="740.49" r="1.7" fill="none" stroke="#f4a070" stroke-width="0.9"/><circle cx="236.13" cy="728.12" r="1.7" fill="none" stroke="#f4a070" stroke-width="0.9"/><circle cx="238.08" cy="730.68" r="1.7" fill="none" stroke="#f4a070" stroke-width="0.9"/><circle cx="241.26" cy="731.27" r="1.7" fill="none" stroke="#f4a070" stroke-width="0.9"/><circle cx="244.17" cy="738.86" r="1.7" fill="none" stroke="#f4a070" stroke-width="0.9"/><circle cx="247.17" cy="728.15" r="1.7" fill="none" stroke="#f4a070" stroke-width="0.9"/><circle cx="251.98" cy="734.57" r="1.7" fill="none" stroke="#f4a070" stroke-width="0.9"/><circle cx="253.49" cy="714.43" r="1.7" fill="none" stroke="#f4a070" stroke-width="0.9"/><circle cx="257.32" cy="738.55" r="1.7" fill="none" stroke="#f4a070" stroke-width="0.9"/><circle cx="260.18" cy="726.27" r="1.7" fill="none" stroke="#f4a070" stroke-width="0.9"/><circle cx="264.1" cy="723.64" r="1.7" fill="none" stroke="#f4a070" stroke-width="0.9"/><circle cx="266.39" cy="732.35" r="1.7" fill="none" stroke="#f4a070" stroke-width="0.9"/><circle cx="269.79" cy="726.01" r="1.7" fill="none" stroke="#f4a070" stroke-width="0.9"/><circle cx="271.06" cy="733.01" r="1.7" fill="none" stroke="#f4a070" stroke-width="0.9"/><circle cx="276.02" cy="723.03" r="1.7" fill="none" stroke="#f4a070" stroke-width="0.9"/><circle cx="277.54" cy="720.08" r="1.7" fill="none" stroke="#f4a070" stroke-width="0.9"/><circle cx="282.53" cy="717.12" r="1.7" fill="none" stroke="#f4a070" stroke-width="0.9"/><circle cx="284.93" cy="716.24" r="1.7" fill="none" stroke="#f4a070" stroke-width="0.9"/><circle cx="286.64" cy="723" r="1.7" fill="none" stroke="#f4a070" stroke-width="0.9"/><circle cx="289.28" cy="714.97" r="1.7" fill="none" stroke="#f4a070" stroke-width="0.9"/><circle cx="292.54" cy="737" r="1.7" fill="none" stroke="#f4a070" stroke-width="0.9"/><circle cx="297.32" cy="712.54" r="1.7" fill="none" stroke="#f4a070" stroke-width="0.9"/><circle cx="301.01" cy="714.31" r="1.7" fill="none" stroke="#f4a070" stroke-width="0.9"/><circle cx="303.78" cy="724.95" r="1.7" fill="none" stroke="#f4a070" stroke-width="0.9"/><circle cx="306.99" cy="703.88" r="1.7" fill="none" stroke="#f4a070" stroke-width="0.9"/><circle cx="309.78" cy="715.55" r="1.7" fill="none" stroke="#f4a070" stroke-width="0.9"/><circle cx="310.99" cy="707.14" r="1.7" fill="none" stroke="#f4a070" stroke-width="0.9"/><circle cx="314.45" cy="718.96" r="1.7" fill="none" stroke="#f4a070" stroke-width="0.9"/><circle cx="317.92" cy="713.41" r="1.7" fill="none" stroke="#f4a070" stroke-width="0.9"/><circle cx="320.67" cy="718.01" r="1.7" fill="none" stroke="#f4a070" stroke-width="0.9"/><circle cx="323.99" cy="719.72" r="1.7" fill="none" stroke="#f4a070" stroke-width="0.9"/><circle cx="328.03" cy="715.52" r="1.7" fill="none" stroke="#f4a070" stroke-width="0.9"/><circle cx="330.75" cy="715.29" r="1.7" fill="none" stroke="#f4a070" stroke-width="0.9"/><circle cx="333.39" cy="714.78" r="1.7" fill="none" stroke="#f4a070" stroke-width="0.9"/><circle cx="337.07" cy="712.16" r="1.7" fill="none" stroke="#f4a070" stroke-width="0.9"/><circle cx="339.61" cy="714.32" r="1.7" fill="none" stroke="#f4a070" stroke-width="0.9"/><circle cx="341.78" cy="702.01" r="1.7" fill="none" stroke="#f4a070" stroke-width="0.9"/><circle cx="345.08" cy="714.37" r="1.7" fill="none" stroke="#f4a070" stroke-width="0.9"/><circle cx="349.05" cy="716.2" r="1.7" fill="none" stroke="#f4a070" stroke-width="0.9"/><circle cx="352.68" cy="723.57" r="1.7" fill="none" stroke="#f4a070" stroke-width="0.9"/><circle cx="355.39" cy="714.03" r="1.7" fill="none" stroke="#f4a070" stroke-width="0.9"/><circle cx="356.56" cy="694.52" r="1.7" fill="none" stroke="#f4a070" stroke-width="0.9"/><circle cx="359.71" cy="697.72" r="1.7" fill="none" stroke="#f4a070" stroke-width="0.9"/><circle cx="364.54" cy="708.8" r="1.7" fill="none" stroke="#f4a070" stroke-width="0.9"/><circle cx="365.73" cy="707.14" r="1.7" fill="none" stroke="#f4a070" stroke-width="0.9"/><circle cx="369.45" cy="682.03" r="1.7" fill="none" stroke="#f4a070" stroke-width="0.9"/><circle cx="372.78" cy="691.77" r="1.7" fill="none" stroke="#f4a070" stroke-width="0.9"/><circle cx="376.52" cy="696.53" r="1.7" fill="none" stroke="#f4a070" stroke-width="0.9"/><circle cx="378.59" cy="692.57" r="1.7" fill="none" stroke="#f4a070" stroke-width="0.9"/><circle cx="383.19" cy="694.83" r="1.7" fill="none" stroke="#f4a070" stroke-width="0.9"/><circle cx="383.59" cy="714.23" r="1.7" fill="none" stroke="#f4a070" stroke-width="0.9"/><circle cx="387.52" cy="700.26" r="1.7" fill="none" stroke="#f4a070" stroke-width="0.9"/><circle cx="391.02" cy="700.16" r="1.7" fill="none" stroke="#f4a070" stroke-width="0.9"/><circle cx="394.92" cy="699.38" r="1.7" fill="none" stroke="#f4a070" stroke-width="0.9"/><circle cx="398.18" cy="697.31" r="1.7" fill="none" stroke="#f4a070" stroke-width="0.9"/><circle cx="399.71" cy="698.67" r="1.7" fill="none" stroke="#f4a070" stroke-width="0.9"/><circle cx="404.49" cy="690.4" r="1.7" fill="none" stroke="#f4a070" stroke-width="0.9"/><circle cx="406.79" cy="685.48" r="1.7" fill="none" stroke="#f4a070" stroke-width="0.9"/><circle cx="409.58" cy="694.72" r="1.7" fill="none" stroke="#f4a070" stroke-width="0.9"/><circle cx="411.14" cy="686.91" r="1.7" fill="none" stroke="#f4a070" stroke-width="0.9"/><circle cx="414.85" cy="670.39" r="1.7" fill="none" stroke="#f4a070" stroke-width="0.9"/><circle cx="417.98" cy="690.1" r="1.7" fill="none" stroke="#f4a070" stroke-width="0.9"/><circle cx="420.4" cy="681.62" r="1.7" fill="none" stroke="#f4a070" stroke-width="0.9"/><circle cx="424.56" cy="695.12" r="1.7" fill="none" stroke="#f4a070" stroke-width="0.9"/><circle cx="428.6" cy="684.56" r="1.7" fill="none" stroke="#f4a070" stroke-width="0.9"/><circle cx="431.39" cy="682.3" r="1.7" fill="none" stroke="#f4a070" stroke-width="0.9"/><circle cx="432.99" cy="680.15" r="1.7" fill="none" stroke="#f4a070" stroke-width="0.9"/><circle cx="435.9" cy="695.41" r="1.7" fill="none" stroke="#f4a070" stroke-width="0.9"/><circle cx="439.78" cy="682.95" r="1.7" fill="none" stroke="#f4a070" stroke-width="0.9"/><circle cx="441.41" cy="656.22" r="1.7" fill="none" stroke="#f4a070" stroke-width="0.9"/><circle cx="446.16" cy="635.63" r="1.7" fill="none" stroke="#f4a070" stroke-width="0.9"/></g>
<g><circle cx="114.58" cy="731.69" r="1.7" fill="#10b458"/><circle cx="117.7" cy="731.53" r="1.7" fill="#10b458"/><circle cx="118.83" cy="723.4" r="1.7" fill="#10b458"/><circle cx="122.69" cy="726.44" r="1.7" fill="#10b458"/><circle cx="125.47" cy="722.51" r="1.7" fill="#10b458"/><circle cx="128.45" cy="719.49" r="1.7" fill="#10b458"/><circle cx="132.03" cy="726.89" r="1.7" fill="#10b458"/><circle cx="133.59" cy="737.81" r="1.7" fill="#10b458"/><circle cx="137.1" cy="723.53" r="1.7" fill="#10b458"/><circle cx="139.21" cy="714.71" r="1.7" fill="#10b458"/><circle cx="141.8" cy="728.93" r="1.7" fill="#10b458"/><circle cx="144.98" cy="720.56" r="1.7" fill="#10b458"/><circle cx="147.43" cy="733.04" r="1.7" fill="#10b458"/><circle cx="149.94" cy="716.1" r="1.7" fill="#10b458"/><circle cx="153.76" cy="723.02" r="1.7" fill="#10b458"/><circle cx="156.6" cy="705.88" r="1.7" fill="#10b458"/><circle cx="157.81" cy="735.4" r="1.7" fill="#10b458"/><circle cx="160.42" cy="723.35" r="1.7" fill="#10b458"/><circle cx="164.39" cy="725.41" r="1.7" fill="#10b458"/><circle cx="166.45" cy="674.6" r="1.7" fill="#10b458"/><circle cx="170.32" cy="736.17" r="1.7" fill="#10b458"/><circle cx="172.49" cy="722.75" r="1.7" fill="#10b458"/><circle cx="175.65" cy="729.67" r="1.7" fill="#10b458"/><circle cx="177.26" cy="722.82" r="1.7" fill="#10b458"/><circle cx="182.19" cy="726.55" r="1.7" fill="#10b458"/><circle cx="183.4" cy="685.28" r="1.7" fill="#10b458"/><circle cx="186.37" cy="731.81" r="1.7" fill="#10b458"/><circle cx="189.63" cy="719.56" r="1.7" fill="#10b458"/><circle cx="191.72" cy="720.56" r="1.7" fill="#10b458"/><circle cx="196.08" cy="710.46" r="1.7" fill="#10b458"/><circle cx="197.27" cy="721.33" r="1.7" fill="#10b458"/><circle cx="201.56" cy="713.21" r="1.7" fill="#10b458"/><circle cx="203.29" cy="702.49" r="1.7" fill="#10b458"/><circle cx="207.09" cy="711.38" r="1.7" fill="#10b458"/><circle cx="208.16" cy="717.27" r="1.7" fill="#10b458"/><circle cx="210.59" cy="704.97" r="1.7" fill="#10b458"/><circle cx="215.51" cy="705.8" r="1.7" fill="#10b458"/><circle cx="217.83" cy="704.76" r="1.7" fill="#10b458"/><circle cx="219.94" cy="699.43" r="1.7" fill="#10b458"/><circle cx="223.39" cy="704.39" r="1.7" fill="#10b458"/><circle cx="224.85" cy="710.5" r="1.7" fill="#10b458"/><circle cx="228.12" cy="696.64" r="1.7" fill="#10b458"/><circle cx="232.19" cy="714.83" r="1.7" fill="#10b458"/><circle cx="235.09" cy="711.56" r="1.7" fill="#10b458"/><circle cx="236.24" cy="710.04" r="1.7" fill="#10b458"/><circle cx="239.44" cy="709.27" r="1.7" fill="#10b458"/><circle cx="242.46" cy="691.96" r="1.7" fill="#10b458"/><circle cx="244.54" cy="700" r="1.7" fill="#10b458"/><circle cx="246.92" cy="706.29" r="1.7" fill="#10b458"/><circle cx="250.19" cy="684.73" r="1.7" fill="#10b458"/><circle cx="252.74" cy="720.96" r="1.7" fill="#10b458"/><circle cx="256.22" cy="698.02" r="1.7" fill="#10b458"/><circle cx="259.1" cy="706.59" r="1.7" fill="#10b458"/><circle cx="262.03" cy="700.9" r="1.7" fill="#10b458"/><circle cx="265.39" cy="700.8" r="1.7" fill="#10b458"/><circle cx="267.48" cy="682.98" r="1.7" fill="#10b458"/><circle cx="271.39" cy="702.74" r="1.7" fill="#10b458"/><circle cx="273.74" cy="680.83" r="1.7" fill="#10b458"/><circle cx="275.68" cy="674.48" r="1.7" fill="#10b458"/><circle cx="279.34" cy="682.66" r="1.7" fill="#10b458"/><circle cx="280.7" cy="691.38" r="1.7" fill="#10b458"/><circle cx="284.19" cy="667.3" r="1.7" fill="#10b458"/><circle cx="287.16" cy="676.27" r="1.7" fill="#10b458"/><circle cx="288.96" cy="677.07" r="1.7" fill="#10b458"/><circle cx="292.39" cy="674.17" r="1.7" fill="#10b458"/><circle cx="294.75" cy="672.9" r="1.7" fill="#10b458"/><circle cx="298.3" cy="675.72" r="1.7" fill="#10b458"/><circle cx="301.65" cy="668.63" r="1.7" fill="#10b458"/><circle cx="302.56" cy="662.12" r="1.7" fill="#10b458"/><circle cx="306.8" cy="673.94" r="1.7" fill="#10b458"/><circle cx="308.25" cy="665.45" r="1.7" fill="#10b458"/><circle cx="311.24" cy="661.86" r="1.7" fill="#10b458"/><circle cx="315.68" cy="651.25" r="1.7" fill="#10b458"/><circle cx="316.54" cy="666.68" r="1.7" fill="#10b458"/><circle cx="321.61" cy="696.56" r="1.7" fill="#10b458"/><circle cx="324.44" cy="649.41" r="1.7" fill="#10b458"/><circle cx="325.89" cy="649.58" r="1.7" fill="#10b458"/><circle cx="329.77" cy="649.45" r="1.7" fill="#10b458"/><circle cx="331.31" cy="618.55" r="1.7" fill="#10b458"/><circle cx="333.2" cy="622.74" r="1.7" fill="#10b458"/><circle cx="336.48" cy="640.6" r="1.7" fill="#10b458"/><circle cx="340.07" cy="636.12" r="1.7" fill="#10b458"/><circle cx="342.39" cy="621.15" r="1.7" fill="#10b458"/><circle cx="346.72" cy="633.32" r="1.7" fill="#10b458"/><circle cx="348.68" cy="657.3" r="1.7" fill="#10b458"/><circle cx="352.01" cy="609.69" r="1.7" fill="#10b458"/><circle cx="354.85" cy="635.02" r="1.7" fill="#10b458"/><circle cx="356.37" cy="618.51" r="1.7" fill="#10b458"/><circle cx="358.74" cy="623.71" r="1.7" fill="#10b458"/><circle cx="361.4" cy="609.92" r="1.7" fill="#10b458"/><circle cx="364.31" cy="624.32" r="1.7" fill="#10b458"/><circle cx="369.05" cy="606.69" r="1.7" fill="#10b458"/><circle cx="371.51" cy="572.52" r="1.7" fill="#10b458"/><circle cx="373.87" cy="591.15" r="1.7" fill="#10b458"/><circle cx="375.38" cy="603.55" r="1.7" fill="#10b458"/><circle cx="379.51" cy="585.34" r="1.7" fill="#10b458"/><circle cx="381.41" cy="578.87" r="1.7" fill="#10b458"/><circle cx="385.21" cy="567.05" r="1.7" fill="#10b458"/><circle cx="388.35" cy="577.71" r="1.7" fill="#10b458"/><circle cx="389.07" cy="587.09" r="1.7" fill="#10b458"/><circle cx="392.47" cy="623.14" r="1.7" fill="#10b458"/><circle cx="395.43" cy="581.77" r="1.7" fill="#10b458"/><circle cx="398.72" cy="588.32" r="1.7" fill="#10b458"/><circle cx="401.38" cy="562.73" r="1.7" fill="#10b458"/><circle cx="404.57" cy="574.09" r="1.7" fill="#10b458"/><circle cx="405.96" cy="549.25" r="1.7" fill="#10b458"/><circle cx="409.08" cy="571.3" r="1.7" fill="#10b458"/><circle cx="413.33" cy="577.46" r="1.7" fill="#10b458"/><circle cx="414.68" cy="547.72" r="1.7" fill="#10b458"/><circle cx="416.8" cy="572.5" r="1.7" fill="#10b458"/><circle cx="421.97" cy="568.27" r="1.7" fill="#10b458"/><circle cx="423.99" cy="544.34" r="1.7" fill="#10b458"/><circle cx="426.77" cy="555.02" r="1.7" fill="#10b458"/><circle cx="430.07" cy="545" r="1.7" fill="#10b458"/><circle cx="431.75" cy="525.15" r="1.7" fill="#10b458"/><circle cx="433.61" cy="553.02" r="1.7" fill="#10b458"/><circle cx="436.95" cy="531.67" r="1.7" fill="#10b458"/><circle cx="440.05" cy="546" r="1.7" fill="#10b458"/><circle cx="442.43" cy="533.74" r="1.7" fill="#10b458"/><circle cx="445.47" cy="539.67" r="1.7" fill="#10b458"/><circle cx="441.8" cy="437.74" r="1.7" fill="#10b458"/><circle cx="444.6" cy="511.2" r="1.7" fill="#10b458"/><circle cx="422.21" cy="520.1" r="1.7" fill="#10b458"/><circle cx="391.42" cy="564.62" r="1.7" fill="#10b458"/><circle cx="444.6" cy="586.88" r="1.7" fill="#10b458"/><circle cx="436.2" cy="600.24" r="1.7" fill="#10b458"/><circle cx="191.28" cy="663.68" r="1.7" fill="#10b458"/><circle cx="233.26" cy="654.77" r="1.7" fill="#10b458"/><circle cx="352.23" cy="600.24" r="1.7" fill="#10b458"/><circle cx="321.44" cy="620.27" r="1.7" fill="#10b458"/><circle cx="427.81" cy="555.72" r="1.7" fill="#10b458"/></g>
<g><rect x="112.51" y="702.63" width="3.8" height="3.8" fill="#ffc000"/><rect x="114.89" y="695.75" width="3.8" height="3.8" fill="#ffc000"/><rect x="115.91" y="702.98" width="3.8" height="3.8" fill="#ffc000"/><rect x="118.28" y="715.41" width="3.8" height="3.8" fill="#ffc000"/><rect x="121.26" y="702.78" width="3.8" height="3.8" fill="#ffc000"/><rect x="123" y="713.32" width="3.8" height="3.8" fill="#ffc000"/><rect x="125.9" y="687.12" width="3.8" height="3.8" fill="#ffc000"/><rect x="128.12" y="713.53" width="3.8" height="3.8" fill="#ffc000"/><rect x="130.89" y="698.93" width="3.8" height="3.8" fill="#ffc000"/><rect x="134.53" y="698.95" width="3.8" height="3.8" fill="#ffc000"/><rect x="135.78" y="712.31" width="3.8" height="3.8" fill="#ffc000"/><rect x="137.88" y="691.53" width="3.8" height="3.8" fill="#ffc000"/><rect x="141.63" y="698.08" width="3.8" height="3.8" fill="#ffc000"/><rect x="142.72" y="691.54" width="3.8" height="3.8" fill="#ffc000"/><rect x="146.55" y="695.29" width="3.8" height="3.8" fill="#ffc000"/><rect x="148.3" y="693.8" width="3.8" height="3.8" fill="#ffc000"/><rect x="149.23" y="706.23" width="3.8" height="3.8" fill="#ffc000"/><rect x="152.68" y="699.85" width="3.8" height="3.8" fill="#ffc000"/><rect x="155.19" y="704.8" width="3.8" height="3.8" fill="#ffc000"/><rect x="158.48" y="704.2" width="3.8" height="3.8" fill="#ffc000"/><rect x="159.53" y="691.07" width="3.8" height="3.8" fill="#ffc000"/><rect x="162.67" y="700.74" width="3.8" height="3.8" fill="#ffc000"/><rect x="165.64" y="693.41" width="3.8" height="3.8" fill="#ffc000"/><rect x="167.01" y="699.71" width="3.8" height="3.8" fill="#ffc000"/><rect x="169.14" y="698.1" width="3.8" height="3.8" fill="#ffc000"/><rect x="171.24" y="681.51" width="3.8" height="3.8" fill="#ffc000"/><rect x="173.82" y="690.08" width="3.8" height="3.8" fill="#ffc000"/><rect x="175.65" y="685.33" width="3.8" height="3.8" fill="#ffc000"/><rect x="178.12" y="694.82" width="3.8" height="3.8" fill="#ffc000"/><rect x="181.95" y="696.89" width="3.8" height="3.8" fill="#ffc000"/><rect x="183.03" y="712.31" width="3.8" height="3.8" fill="#ffc000"/><rect x="185.61" y="706.8" width="3.8" height="3.8" fill="#ffc000"/><rect x="189" y="692.67" width="3.8" height="3.8" fill="#ffc000"/><rect x="191.39" y="694.93" width="3.8" height="3.8" fill="#ffc000"/><rect x="194.05" y="684.87" width="3.8" height="3.8" fill="#ffc000"/><rect x="195.84" y="701.71" width="3.8" height="3.8" fill="#ffc000"/><rect x="198.8" y="684.49" width="3.8" height="3.8" fill="#ffc000"/><rect x="199.67" y="698.55" width="3.8" height="3.8" fill="#ffc000"/><rect x="202.19" y="721.52" width="3.8" height="3.8" fill="#ffc000"/><rect x="206.27" y="698.48" width="3.8" height="3.8" fill="#ffc000"/><rect x="208.05" y="698.26" width="3.8" height="3.8" fill="#ffc000"/><rect x="210.97" y="682.88" width="3.8" height="3.8" fill="#ffc000"/><rect x="211.45" y="698.34" width="3.8" height="3.8" fill="#ffc000"/><rect x="214.35" y="690.36" width="3.8" height="3.8" fill="#ffc000"/><rect x="216.84" y="732.19" width="3.8" height="3.8" fill="#ffc000"/><rect x="219.32" y="688.79" width="3.8" height="3.8" fill="#ffc000"/><rect x="222.63" y="682.52" width="3.8" height="3.8" fill="#ffc000"/><rect x="224.62" y="690.57" width="3.8" height="3.8" fill="#ffc000"/><rect x="227.79" y="693.5" width="3.8" height="3.8" fill="#ffc000"/><rect x="229.8" y="676.81" width="3.8" height="3.8" fill="#ffc000"/><rect x="230.84" y="670.36" width="3.8" height="3.8" fill="#ffc000"/><rect x="233.9" y="672.43" width="3.8" height="3.8" fill="#ffc000"/><rect x="235.94" y="673.22" width="3.8" height="3.8" fill="#ffc000"/><rect x="238.98" y="680.79" width="3.8" height="3.8" fill="#ffc000"/><rect x="240.51" y="688.51" width="3.8" height="3.8" fill="#ffc000"/><rect x="242.52" y="680.24" width="3.8" height="3.8" fill="#ffc000"/><rect x="246.72" y="680.95" width="3.8" height="3.8" fill="#ffc000"/><rect x="248.23" y="676.72" width="3.8" height="3.8" fill="#ffc000"/><rect x="250.01" y="673.36" width="3.8" height="3.8" fill="#ffc000"/><rect x="253.7" y="683.99" width="3.8" height="3.8" fill="#ffc000"/><rect x="254.48" y="687.6" width="3.8" height="3.8" fill="#ffc000"/><rect x="257.34" y="680.02" width="3.8" height="3.8" fill="#ffc000"/><rect x="260.99" y="667.93" width="3.8" height="3.8" fill="#ffc000"/><rect x="263.08" y="675.2" width="3.8" height="3.8" fill="#ffc000"/><rect x="263.97" y="672.9" width="3.8" height="3.8" fill="#ffc000"/><rect x="267.08" y="670.51" width="3.8" height="3.8" fill="#ffc000"/><rect x="269.36" y="673.81" width="3.8" height="3.8" fill="#ffc000"/><rect x="273.14" y="702.77" width="3.8" height="3.8" fill="#ffc000"/><rect x="275.17" y="672.86" width="3.8" height="3.8" fill="#ffc000"/><rect x="276.72" y="665.89" width="3.8" height="3.8" fill="#ffc000"/><rect x="280.37" y="680.91" width="3.8" height="3.8" fill="#ffc000"/><rect x="282.68" y="676.57" width="3.8" height="3.8" fill="#ffc000"/><rect x="284.98" y="671.61" width="3.8" height="3.8" fill="#ffc000"/><rect x="286.25" y="668.66" width="3.8" height="3.8" fill="#ffc000"/><rect x="289.22" y="662.77" width="3.8" height="3.8" fill="#ffc000"/><rect x="290.96" y="670.39" width="3.8" height="3.8" fill="#ffc000"/><rect x="294.53" y="664.18" width="3.8" height="3.8" fill="#ffc000"/><rect x="296.57" y="659.3" width="3.8" height="3.8" fill="#ffc000"/><rect x="298.96" y="670.51" width="3.8" height="3.8" fill="#ffc000"/><rect x="299.98" y="663.29" width="3.8" height="3.8" fill="#ffc000"/><rect x="302.9" y="659.89" width="3.8" height="3.8" fill="#ffc000"/><rect x="305.4" y="657.49" width="3.8" height="3.8" fill="#ffc000"/><rect x="308.08" y="652.34" width="3.8" height="3.8" fill="#ffc000"/><rect x="310" y="656.91" width="3.8" height="3.8" fill="#ffc000"/><rect x="311.93" y="647.77" width="3.8" height="3.8" fill="#ffc000"/><rect x="314.56" y="653.82" width="3.8" height="3.8" fill="#ffc000"/><rect x="318" y="649.23" width="3.8" height="3.8" fill="#ffc000"/><rect x="320.91" y="645.33" width="3.8" height="3.8" fill="#ffc000"/><rect x="321.65" y="661.51" width="3.8" height="3.8" fill="#ffc000"/><rect x="325.01" y="632.71" width="3.8" height="3.8" fill="#ffc000"/><rect x="327.42" y="644.24" width="3.8" height="3.8" fill="#ffc000"/><rect x="330.27" y="636.21" width="3.8" height="3.8" fill="#ffc000"/><rect x="331.9" y="646.5" width="3.8" height="3.8" fill="#ffc000"/><rect x="334.69" y="643.3" width="3.8" height="3.8" fill="#ffc000"/><rect x="337.02" y="645.96" width="3.8" height="3.8" fill="#ffc000"/><rect x="339.27" y="636.3" width="3.8" height="3.8" fill="#ffc000"/><rect x="341.48" y="629.42" width="3.8" height="3.8" fill="#ffc000"/><rect x="344.04" y="634.53" width="3.8" height="3.8" fill="#ffc000"/><rect x="347.15" y="630.3" width="3.8" height="3.8" fill="#ffc000"/><rect x="349.13" y="627.41" width="3.8" height="3.8" fill="#ffc000"/><rect x="351.51" y="625.29" width="3.8" height="3.8" fill="#ffc000"/><rect x="352.59" y="631.06" width="3.8" height="3.8" fill="#ffc000"/><rect x="355.76" y="627.37" width="3.8" height="3.8" fill="#ffc000"/><rect x="359.11" y="614.89" width="3.8" height="3.8" fill="#ffc000"/><rect x="361.2" y="643.46" width="3.8" height="3.8" fill="#ffc000"/><rect x="363.75" y="624.27" width="3.8" height="3.8" fill="#ffc000"/><rect x="364.8" y="619.89" width="3.8" height="3.8" fill="#ffc000"/><rect x="368.51" y="625.44" width="3.8" height="3.8" fill="#ffc000"/><rect x="369.64" y="620.02" width="3.8" height="3.8" fill="#ffc000"/><rect x="373.12" y="617.79" width="3.8" height="3.8" fill="#ffc000"/><rect x="374.34" y="611.62" width="3.8" height="3.8" fill="#ffc000"/><rect x="377.39" y="623.45" width="3.8" height="3.8" fill="#ffc000"/><rect x="380.31" y="607.38" width="3.8" height="3.8" fill="#ffc000"/><rect x="381.07" y="605.51" width="3.8" height="3.8" fill="#ffc000"/><rect x="385.24" y="605.21" width="3.8" height="3.8" fill="#ffc000"/><rect x="386.6" y="607.95" width="3.8" height="3.8" fill="#ffc000"/><rect x="389.48" y="601.45" width="3.8" height="3.8" fill="#ffc000"/><rect x="390.99" y="603.21" width="3.8" height="3.8" fill="#ffc000"/><rect x="394.82" y="599.31" width="3.8" height="3.8" fill="#ffc000"/><rect x="396.25" y="607.57" width="3.8" height="3.8" fill="#ffc000"/><rect x="399.07" y="591.21" width="3.8" height="3.8" fill="#ffc000"/><rect x="401.4" y="594.4" width="3.8" height="3.8" fill="#ffc000"/><rect x="403.98" y="594.21" width="3.8" height="3.8" fill="#ffc000"/><rect x="405.16" y="580.45" width="3.8" height="3.8" fill="#ffc000"/><rect x="408.04" y="579" width="3.8" height="3.8" fill="#ffc000"/><rect x="411.8" y="587.24" width="3.8" height="3.8" fill="#ffc000"/><rect x="412.72" y="591.38" width="3.8" height="3.8" fill="#ffc000"/><rect x="414.75" y="585.25" width="3.8" height="3.8" fill="#ffc000"/><rect x="417.71" y="582.86" width="3.8" height="3.8" fill="#ffc000"/><rect x="420.31" y="571.97" width="3.8" height="3.8" fill="#ffc000"/><rect x="422.11" y="576.49" width="3.8" height="3.8" fill="#ffc000"/><rect x="424.61" y="569.51" width="3.8" height="3.8" fill="#ffc000"/><rect x="427.84" y="572.45" width="3.8" height="3.8" fill="#ffc000"/><rect x="430.78" y="573.02" width="3.8" height="3.8" fill="#ffc000"/><rect x="432.13" y="559.96" width="3.8" height="3.8" fill="#ffc000"/><rect x="434.45" y="564.21" width="3.8" height="3.8" fill="#ffc000"/><rect x="436.57" y="555.82" width="3.8" height="3.8" fill="#ffc000"/><rect x="439.78" y="557.83" width="3.8" height="3.8" fill="#ffc000"/><rect x="442.65" y="550.12" width="3.8" height="3.8" fill="#ffc000"/><rect x="444.02" y="558.81" width="3.8" height="3.8" fill="#ffc000"/><rect x="274.75" y="641.74" width="3.8" height="3.8" fill="#ffc000"/><rect x="269.15" y="645.08" width="3.8" height="3.8" fill="#ffc000"/><rect x="333.53" y="610.58" width="3.8" height="3.8" fill="#ffc000"/><rect x="159.98" y="670.68" width="3.8" height="3.8" fill="#ffc000"/><rect x="136.19" y="678.47" width="3.8" height="3.8" fill="#ffc000"/><rect x="145.99" y="681.81" width="3.8" height="3.8" fill="#ffc000"/><rect x="113.8" y="718.54" width="3.8" height="3.8" fill="#ffc000"/><rect x="119.4" y="725.22" width="3.8" height="3.8" fill="#ffc000"/><rect x="414.71" y="602.79" width="3.8" height="3.8" fill="#ffc000"/></g>
<g><polygon points="112.07,686.19 116.27,686.19 114.17,682.41" fill="#000"/><polygon points="113.4,695.24 117.6,695.24 115.5,691.46" fill="#000"/><polygon points="116.38,699.12 120.58,699.12 118.48,695.34" fill="#000"/><polygon points="119.41,705.46 123.61,705.46 121.51,701.68" fill="#000"/><polygon points="120.41,682.58 124.61,682.58 122.51,678.8" fill="#000"/><polygon points="123.75,700.85 127.95,700.85 125.85,697.07" fill="#000"/><polygon points="126.58,688.32 130.78,688.32 128.68,684.54" fill="#000"/><polygon points="129.61,670.89 133.81,670.89 131.71,667.11" fill="#000"/><polygon points="131.7,697.17 135.9,697.17 133.8,693.39" fill="#000"/><polygon points="133.81,690.56 138.01,690.56 135.91,686.78" fill="#000"/><polygon points="135.56,693.04 139.76,693.04 137.66,689.26" fill="#000"/><polygon points="137.55,687.59 141.75,687.59 139.65,683.81" fill="#000"/><polygon points="139.78,692.58 143.98,692.58 141.88,688.8" fill="#000"/><polygon points="143.46,687.83 147.66,687.83 145.56,684.05" fill="#000"/><polygon points="145.59,689.1 149.79,689.1 147.69,685.32" fill="#000"/><polygon points="147.18,686.65 151.38,686.65 149.28,682.87" fill="#000"/><polygon points="149.29,701.58 153.49,701.58 151.39,697.8" fill="#000"/><polygon points="151.45,679.43 155.65,679.43 153.55,675.65" fill="#000"/><polygon points="153.86,703.36 158.06,703.36 155.96,699.58" fill="#000"/><polygon points="157.35,692.97 161.55,692.97 159.45,689.19" fill="#000"/><polygon points="159.23,690.06 163.43,690.06 161.33,686.28" fill="#000"/><polygon points="161.24,692.45 165.44,692.45 163.34,688.67" fill="#000"/><polygon points="164.47,690.18 168.67,690.18 166.57,686.4" fill="#000"/><polygon points="167.43,688.13 171.63,688.13 169.53,684.35" fill="#000"/><polygon points="168.61,680.95 172.81,680.95 170.71,677.17" fill="#000"/><polygon points="171.73,700.75 175.93,700.75 173.83,696.97" fill="#000"/><polygon points="174.75,683.98 178.95,683.98 176.85,680.2" fill="#000"/><polygon points="177.4,693.91 181.6,693.91 179.5,690.13" fill="#000"/><polygon points="179.56,687.85 183.76,687.85 181.66,684.07" fill="#000"/><polygon points="180.98,682.69 185.18,682.69 183.08,678.91" fill="#000"/><polygon points="184.06,685.95 188.26,685.95 186.16,682.17" fill="#000"/><polygon points="185.2,687.65 189.4,687.65 187.3,683.87" fill="#000"/><polygon points="187.9,686.04 192.1,686.04 190,682.26" fill="#000"/><polygon points="191.03,684.15 195.23,684.15 193.13,680.37" fill="#000"/><polygon points="192.2,686.83 196.4,686.83 194.3,683.05" fill="#000"/><polygon points="194.66,679.73 198.86,679.73 196.76,675.95" fill="#000"/><polygon points="198.22,687.22 202.42,687.22 200.32,683.44" fill="#000"/><polygon points="201.24,690.91 205.44,690.91 203.34,687.13" fill="#000"/><polygon points="202.44,686.94 206.64,686.94 204.54,683.16" fill="#000"/><polygon points="205.57,683.66 209.77,683.66 207.67,679.88" fill="#000"/><polygon points="207.4,676.96 211.6,676.96 209.5,673.18" fill="#000"/><polygon points="209.69,684.66 213.89,684.66 211.79,680.88" fill="#000"/><polygon points="211.28,681.87 215.48,681.87 213.38,678.09" fill="#000"/><polygon points="214.72,685.54 218.92,685.54 216.82,681.76" fill="#000"/><polygon points="216.73,678.99 220.93,678.99 218.83,675.21" fill="#000"/><polygon points="219.36,679.88 223.56,679.88 221.46,676.1" fill="#000"/><polygon points="220.73,670.69 224.93,670.69 222.83,666.91" fill="#000"/><polygon points="225.17,671.9 229.37,671.9 227.27,668.12" fill="#000"/><polygon points="226.27,679.55 230.47,679.55 228.37,675.77" fill="#000"/><polygon points="228.67,682.09 232.87,682.09 230.77,678.31" fill="#000"/><polygon points="230.94,671.14 235.14,671.14 233.04,667.36" fill="#000"/><polygon points="233.76,678.38 237.96,678.38 235.86,674.6" fill="#000"/><polygon points="235.58,680.02 239.78,680.02 237.68,676.24" fill="#000"/><polygon points="239.14,687.77 243.34,687.77 241.24,683.99" fill="#000"/><polygon points="240.44,671.69 244.64,671.69 242.54,667.91" fill="#000"/><polygon points="242.39,665.47 246.59,665.47 244.49,661.69" fill="#000"/><polygon points="245.28,676.94 249.48,676.94 247.38,673.16" fill="#000"/><polygon points="248.68,676.23 252.88,676.23 250.78,672.45" fill="#000"/><polygon points="249.48,676.33 253.68,676.33 251.58,672.55" fill="#000"/><polygon points="252.95,675.55 257.15,675.55 255.05,671.77" fill="#000"/><polygon points="256.17,691.59 260.37,691.59 258.27,687.81" fill="#000"/><polygon points="258.13,679.87 262.33,679.87 260.23,676.09" fill="#000"/><polygon points="260.91,667.46 265.11,667.46 263.01,663.68" fill="#000"/><polygon points="263.01,679.67 267.21,679.67 265.11,675.89" fill="#000"/><polygon points="264.68,667.08 268.88,667.08 266.78,663.3" fill="#000"/><polygon points="266.36,673.78 270.56,673.78 268.46,670" fill="#000"/><polygon points="268.74,661.04 272.94,661.04 270.84,657.26" fill="#000"/><polygon points="272.31,670.53 276.51,670.53 274.41,666.75" fill="#000"/><polygon points="273.94,668.2 278.14,668.2 276.04,664.42" fill="#000"/><polygon points="276.87,663.09 281.07,663.09 278.97,659.31" fill="#000"/><polygon points="279.2,667.25 283.4,667.25 281.3,663.47" fill="#000"/><polygon points="280.7,671.48 284.9,671.48 282.8,667.7" fill="#000"/><polygon points="283.76,669.48 287.96,669.48 285.86,665.7" fill="#000"/><polygon points="286.28,657.31 290.48,657.31 288.38,653.53" fill="#000"/><polygon points="288.44,661.47 292.64,661.47 290.54,657.69" fill="#000"/><polygon points="290.35,663.53 294.55,663.53 292.45,659.75" fill="#000"/><polygon points="292.82,661.83 297.02,661.83 294.92,658.05" fill="#000"/><polygon points="296.05,656.15 300.25,656.15 298.15,652.37" fill="#000"/><polygon points="298,666.53 302.2,666.53 300.1,662.75" fill="#000"/><polygon points="300.81,660.87 305.01,660.87 302.91,657.09" fill="#000"/><polygon points="304.05,658.61 308.25,658.61 306.15,654.83" fill="#000"/><polygon points="304.89,647.75 309.09,647.75 306.99,643.97" fill="#000"/><polygon points="307.96,653.14 312.16,653.14 310.06,649.36" fill="#000"/><polygon points="309.92,650.28 314.12,650.28 312.02,646.5" fill="#000"/><polygon points="312.43,655.41 316.63,655.41 314.53,651.63" fill="#000"/><polygon points="315.85,653.15 320.05,653.15 317.95,649.37" fill="#000"/><polygon points="317.33,647.24 321.53,647.24 319.43,643.46" fill="#000"/><polygon points="319.33,639.14 323.53,639.14 321.43,635.36" fill="#000"/><polygon points="321.13,648.05 325.33,648.05 323.23,644.27" fill="#000"/><polygon points="324.16,650.16 328.36,650.16 326.26,646.38" fill="#000"/><polygon points="327.88,641.42 332.08,641.42 329.98,637.64" fill="#000"/><polygon points="329.91,649.34 334.11,649.34 332.01,645.56" fill="#000"/><polygon points="331.04,646.49 335.24,646.49 333.14,642.71" fill="#000"/><polygon points="334.65,639.45 338.85,639.45 336.75,635.67" fill="#000"/><polygon points="337.33,630.24 341.53,630.24 339.43,626.46" fill="#000"/><polygon points="339.83,637.94 344.03,637.94 341.93,634.16" fill="#000"/><polygon points="340.8,629.63 345,629.63 342.9,625.85" fill="#000"/><polygon points="343.1,646.49 347.3,646.49 345.2,642.71" fill="#000"/><polygon points="345.58,631.75 349.78,631.75 347.68,627.97" fill="#000"/><polygon points="347.62,633.05 351.82,633.05 349.72,629.27" fill="#000"/><polygon points="350.33,627.37 354.53,627.37 352.43,623.59" fill="#000"/><polygon points="354,620.55 358.2,620.55 356.1,616.77" fill="#000"/><polygon points="355.82,616.65 360.02,616.65 357.92,612.87" fill="#000"/><polygon points="358.47,627.91 362.67,627.91 360.57,624.13" fill="#000"/><polygon points="360.95,621.33 365.15,621.33 363.05,617.55" fill="#000"/><polygon points="361.79,615.72 365.99,615.72 363.89,611.94" fill="#000"/><polygon points="364.57,618.79 368.77,618.79 366.67,615.01" fill="#000"/><polygon points="367.25,616.47 371.45,616.47 369.35,612.69" fill="#000"/><polygon points="370.06,622.64 374.26,622.64 372.16,618.86" fill="#000"/><polygon points="371.73,609.81 375.93,609.81 373.83,606.03" fill="#000"/><polygon points="375.03,609.6 379.23,609.6 377.13,605.82" fill="#000"/><polygon points="377.95,602.53 382.15,602.53 380.05,598.75" fill="#000"/><polygon points="380.53,601.45 384.73,601.45 382.63,597.67" fill="#000"/><polygon points="382.66,597.34 386.86,597.34 384.76,593.56" fill="#000"/><polygon points="383.24,600.02 387.44,600.02 385.34,596.24" fill="#000"/><polygon points="387.68,601.33 391.88,601.33 389.78,597.55" fill="#000"/><polygon points="389.08,603.99 393.28,603.99 391.18,600.21" fill="#000"/><polygon points="391.48,593.2 395.68,593.2 393.58,589.42" fill="#000"/><polygon points="393.81,588.8 398.01,588.8 395.91,585.02" fill="#000"/><polygon points="396.64,594.1 400.84,594.1 398.74,590.32" fill="#000"/><polygon points="398.56,586.58 402.76,586.58 400.66,582.8" fill="#000"/><polygon points="401.99,587.31 406.19,587.31 404.09,583.53" fill="#000"/><polygon points="403.01,585.3 407.21,585.3 405.11,581.52" fill="#000"/><polygon points="406.7,572.56 410.9,572.56 408.8,568.78" fill="#000"/><polygon points="408.92,580.3 413.12,580.3 411.02,576.52" fill="#000"/><polygon points="409.5,583.12 413.7,583.12 411.6,579.34" fill="#000"/><polygon points="413.17,574.63 417.37,574.63 415.27,570.85" fill="#000"/><polygon points="416.25,568.41 420.45,568.41 418.35,564.63" fill="#000"/><polygon points="416.7,569.37 420.9,569.37 418.8,565.59" fill="#000"/><polygon points="420.89,567.14 425.09,567.14 422.99,563.36" fill="#000"/><polygon points="423.19,566.56 427.39,566.56 425.29,562.78" fill="#000"/><polygon points="425.43,566.48 429.63,566.48 427.53,562.7" fill="#000"/><polygon points="426.19,556.77 430.39,556.77 428.29,552.99" fill="#000"/><polygon points="430.37,555.43 434.57,555.43 432.47,551.65" fill="#000"/><polygon points="431.69,556.75 435.89,556.75 433.79,552.97" fill="#000"/><polygon points="433.92,553.68 438.12,553.68 436.02,549.9" fill="#000"/><polygon points="436.87,553.44 441.07,553.44 438.97,549.66" fill="#000"/><polygon points="438.64,545.25 442.84,545.25 440.74,541.47" fill="#000"/><polygon points="440.9,545.47 445.1,545.47 443,541.69" fill="#000"/><polygon points="444.6,541.08 448.8,541.08 446.7,537.3" fill="#000"/><polygon points="441.1,530.79 445.3,530.79 443.2,527.01" fill="#000"/><polygon points="243.76,655.45 247.96,655.45 245.86,651.67" fill="#000"/><polygon points="193.38,673.25 197.57,673.25 195.47,669.47" fill="#000"/><polygon points="117.8,715.55 122,715.55 119.9,711.77" fill="#000"/><polygon points="115,728.9 119.2,728.9 117.1,725.12" fill="#000"/><polygon points="351.53,616.49 355.73,616.49 353.63,612.71" fill="#000"/><polygon points="392.12,581.99 396.32,581.99 394.22,578.21" fill="#000"/></g>
<path d="M114.3,741.76 L119.94,741.73 L125.59,741.66 L131.24,741.57 L136.88,741.44 L142.53,741.28 L148.17,741.09 L153.82,740.87 L159.47,740.63 L165.11,740.37 L170.76,740.08 L176.4,739.76 L182.05,739.43 L187.69,739.07 L193.34,738.69 L198.99,738.3 L204.63,737.88 L210.28,737.44 L215.92,736.99 L221.57,736.52 L227.21,736.03 L232.86,735.52 L238.51,734.99 L244.15,734.45 L249.8,733.89 L255.44,733.3 L261.09,732.71 L266.74,732.09 L272.38,731.45 L278.03,730.79 L283.67,730.11 L289.32,729.41 L294.96,728.69 L300.61,727.94 L306.26,727.17 L311.9,726.37 L317.55,725.55 L323.19,724.7 L328.84,723.82 L334.48,722.91 L340.13,721.97 L345.78,720.99 L351.42,719.98 L357.07,718.93 L362.71,717.85 L368.36,716.72 L374,715.55 L379.65,714.33 L385.3,713.06 L390.94,711.75 L396.59,710.39 L402.23,708.97 L407.88,707.49 L413.53,705.95 L419.17,704.35 L424.82,702.69 L430.46,700.96 L436.11,699.15 L441.75,697.28 L447.4,695.32" fill="none" stroke="#0a72cc" stroke-width="2.4" stroke-linecap="round"/>
<path d="M128.29,738.2 L133.7,738.02 L139.11,737.82 L144.52,737.58 L149.93,737.31 L155.34,737.01 L160.75,736.69 L166.15,736.34 L171.56,735.97 L176.97,735.57 L182.38,735.15 L187.79,734.71 L193.2,734.24 L198.61,733.76 L204.01,733.25 L209.42,732.73 L214.83,732.18 L220.24,731.61 L225.65,731.02 L231.06,730.41 L236.47,729.78 L241.87,729.12 L247.28,728.44 L252.69,727.74 L258.1,727.02 L263.51,726.26 L268.92,725.48 L274.33,724.67 L279.73,723.83 L285.14,722.96 L290.55,722.05 L295.96,721.11 L301.37,720.13 L306.78,719.11 L312.19,718.05 L317.59,716.94 L323,715.78 L328.41,714.57 L333.82,713.32 L339.23,712 L344.64,710.62 L350.05,709.19 L355.45,707.68 L360.86,706.11 L366.27,704.46 L371.68,702.73 L377.09,700.93 L382.5,699.04 L387.91,697.06 L393.31,694.98 L398.72,692.81 L404.13,690.54 L409.54,688.15 L414.95,685.66 L420.36,683.05 L425.77,680.31 L431.17,677.45 L436.58,674.45 L441.99,671.32 L447.4,668.04" fill="none" stroke="#f8b48a" stroke-width="2.4" stroke-linecap="round"/>
<path d="M115.7,731.05 L121.32,730.46 L126.94,729.9 L132.56,729.35 L138.19,728.81 L143.81,728.25 L149.43,727.66 L155.05,727.03 L160.68,726.35 L166.3,725.61 L171.92,724.79 L177.54,723.89 L183.16,722.89 L188.79,721.79 L194.41,720.58 L200.03,719.25 L205.65,717.79 L211.27,716.2 L216.9,714.47 L222.52,712.59 L228.14,710.56 L233.76,708.38 L239.38,706.04 L245.01,703.54 L250.63,700.87 L256.25,698.04 L261.87,695.04 L267.49,691.88 L273.12,688.55 L278.74,685.05 L284.36,681.38 L289.98,677.56 L295.6,673.57 L301.23,669.42 L306.85,665.12 L312.47,660.67 L318.09,656.08 L323.71,651.34 L329.34,646.47 L334.96,641.47 L340.58,636.36 L346.2,631.13 L351.83,625.8 L357.45,620.37 L363.07,614.86 L368.69,609.28 L374.31,603.63 L379.94,597.93 L385.56,592.19 L391.18,586.42 L396.8,580.64 L402.42,574.86 L408.05,569.1 L413.67,563.36 L419.29,557.67 L424.91,552.04 L430.53,546.5 L436.16,541.05 L441.78,535.71 L447.4,530.51" fill="none" stroke="#08b050" stroke-width="2.4" stroke-linecap="round"/>
<path d="M111.5,707.59 L117.19,706.28 L122.89,705.06 L128.58,703.93 L134.27,702.86 L139.97,701.85 L145.66,700.9 L151.35,699.98 L157.05,699.09 L162.74,698.22 L168.43,697.36 L174.13,696.5 L179.82,695.64 L185.51,694.76 L191.21,693.85 L196.9,692.92 L202.59,691.94 L208.28,690.92 L213.98,689.84 L219.67,688.7 L225.36,687.5 L231.06,686.23 L236.75,684.87 L242.44,683.44 L248.14,681.91 L253.83,680.29 L259.52,678.57 L265.22,676.75 L270.91,674.82 L276.6,672.78 L282.3,670.63 L287.99,668.37 L293.68,665.98 L299.38,663.47 L305.07,660.83 L310.76,658.07 L316.46,655.19 L322.15,652.17 L327.84,649.02 L333.54,645.75 L339.23,642.34 L344.92,638.8 L350.62,635.13 L356.31,631.33 L362,627.4 L367.69,623.34 L373.39,619.15 L379.08,614.84 L384.77,610.4 L390.47,605.84 L396.16,601.17 L401.85,596.37 L407.55,591.47 L413.24,586.45 L418.93,581.33 L424.63,576.11 L430.32,570.79 L436.01,565.38 L441.71,559.87 L447.4,554.29" fill="none" stroke="#ffc000" stroke-width="2.4" stroke-linecap="round"/>
<path d="M115.7,696.05 L121.32,694.63 L126.94,693.34 L132.56,692.18 L138.19,691.12 L143.81,690.14 L149.43,689.25 L155.05,688.42 L160.68,687.64 L166.3,686.9 L171.92,686.19 L177.54,685.49 L183.16,684.79 L188.79,684.09 L194.41,683.38 L200.03,682.63 L205.65,681.85 L211.27,681.02 L216.9,680.14 L222.52,679.19 L228.14,678.17 L233.76,677.08 L239.38,675.9 L245.01,674.62 L250.63,673.24 L256.25,671.76 L261.87,670.17 L267.49,668.46 L273.12,666.63 L278.74,664.67 L284.36,662.58 L289.98,660.36 L295.6,658 L301.23,655.49 L306.85,652.85 L312.47,650.06 L318.09,647.12 L323.71,644.03 L329.34,640.79 L334.96,637.4 L340.58,633.87 L346.2,630.18 L351.83,626.33 L357.45,622.34 L363.07,618.21 L368.69,613.92 L374.31,609.49 L379.94,604.92 L385.56,600.21 L391.18,595.36 L396.8,590.38 L402.42,585.27 L408.05,580.04 L413.67,574.69 L419.29,569.23 L424.91,563.65 L430.53,557.97 L436.16,552.2 L441.78,546.34 L447.4,540.39" fill="none" stroke="#000" stroke-width="2.4" stroke-linecap="round"/>
</g>
<rect x="111.5" y="408.8" width="335.9" height="333.9" fill="none" stroke="#262626" stroke-width="1.6" stroke-linejoin="round"/>
<line x1="111.5" y1="720.44" x2="116.1" y2="720.44" stroke="#262626" stroke-width="1.4"/><line x1="111.5" y1="698.18" x2="116.1" y2="698.18" stroke="#262626" stroke-width="1.4"/><line x1="111.5" y1="675.92" x2="117.5" y2="675.92" stroke="#262626" stroke-width="1.4"/><line x1="111.5" y1="653.66" x2="116.1" y2="653.66" stroke="#262626" stroke-width="1.4"/><line x1="111.5" y1="631.4" x2="116.1" y2="631.4" stroke="#262626" stroke-width="1.4"/><line x1="111.5" y1="609.14" x2="117.5" y2="609.14" stroke="#262626" stroke-width="1.4"/><line x1="111.5" y1="586.88" x2="116.1" y2="586.88" stroke="#262626" stroke-width="1.4"/><line x1="111.5" y1="564.62" x2="116.1" y2="564.62" stroke="#262626" stroke-width="1.4"/><line x1="111.5" y1="542.36" x2="117.5" y2="542.36" stroke="#262626" stroke-width="1.4"/><line x1="111.5" y1="520.1" x2="116.1" y2="520.1" stroke="#262626" stroke-width="1.4"/><line x1="111.5" y1="497.84" x2="116.1" y2="497.84" stroke="#262626" stroke-width="1.4"/><line x1="111.5" y1="475.58" x2="117.5" y2="475.58" stroke="#262626" stroke-width="1.4"/><line x1="111.5" y1="453.32" x2="116.1" y2="453.32" stroke="#262626" stroke-width="1.4"/><line x1="111.5" y1="431.06" x2="116.1" y2="431.06" stroke="#262626" stroke-width="1.4"/>
<line x1="139.49" y1="742.7" x2="139.49" y2="738.1" stroke="#262626" stroke-width="1.4"/><line x1="167.48" y1="742.7" x2="167.48" y2="736.5" stroke="#262626" stroke-width="1.4"/><line x1="195.47" y1="742.7" x2="195.47" y2="738.1" stroke="#262626" stroke-width="1.4"/><line x1="223.47" y1="742.7" x2="223.47" y2="736.5" stroke="#262626" stroke-width="1.4"/><line x1="251.46" y1="742.7" x2="251.46" y2="738.1" stroke="#262626" stroke-width="1.4"/><line x1="279.45" y1="742.7" x2="279.45" y2="736.5" stroke="#262626" stroke-width="1.4"/><line x1="307.44" y1="742.7" x2="307.44" y2="738.1" stroke="#262626" stroke-width="1.4"/><line x1="335.43" y1="742.7" x2="335.43" y2="736.5" stroke="#262626" stroke-width="1.4"/><line x1="363.42" y1="742.7" x2="363.42" y2="738.1" stroke="#262626" stroke-width="1.4"/><line x1="391.42" y1="742.7" x2="391.42" y2="736.5" stroke="#262626" stroke-width="1.4"/><line x1="419.41" y1="742.7" x2="419.41" y2="738.1" stroke="#262626" stroke-width="1.4"/>
<text x="89.5" y="749" font-size="20" text-anchor="end" font-weight="normal" font-style="normal" fill="#1a1a1a"  stroke="#1a1a1a" stroke-width="0.35">0.0</text>
<text x="89.5" y="682.22" font-size="20" text-anchor="end" font-weight="normal" font-style="normal" fill="#1a1a1a"  stroke="#1a1a1a" stroke-width="0.35">0.3</text>
<text x="89.5" y="615.44" font-size="20" text-anchor="end" font-weight="normal" font-style="normal" fill="#1a1a1a"  stroke="#1a1a1a" stroke-width="0.35">0.6</text>
<text x="89.5" y="548.66" font-size="20" text-anchor="end" font-weight="normal" font-style="normal" fill="#1a1a1a"  stroke="#1a1a1a" stroke-width="0.35">0.9</text>
<text x="89.5" y="481.88" font-size="20" text-anchor="end" font-weight="normal" font-style="normal" fill="#1a1a1a"  stroke="#1a1a1a" stroke-width="0.35">1.2</text>
<text x="89.5" y="415.1" font-size="20" text-anchor="end" font-weight="normal" font-style="normal" fill="#1a1a1a"  stroke="#1a1a1a" stroke-width="0.35">1.5</text>
<text x="109.1" y="772.5" font-size="20" text-anchor="middle" font-weight="normal" font-style="normal" fill="#1a1a1a"  stroke="#1a1a1a" stroke-width="0.35">0</text>
<text x="165.08" y="772.5" font-size="20" text-anchor="middle" font-weight="normal" font-style="normal" fill="#1a1a1a"  stroke="#1a1a1a" stroke-width="0.35">2</text>
<text x="221.07" y="772.5" font-size="20" text-anchor="middle" font-weight="normal" font-style="normal" fill="#1a1a1a"  stroke="#1a1a1a" stroke-width="0.35">4</text>
<text x="277.05" y="772.5" font-size="20" text-anchor="middle" font-weight="normal" font-style="normal" fill="#1a1a1a"  stroke="#1a1a1a" stroke-width="0.35">6</text>
<text x="333.03" y="772.5" font-size="20" text-anchor="middle" font-weight="normal" font-style="normal" fill="#1a1a1a"  stroke="#1a1a1a" stroke-width="0.35">8</text>
<text x="389.02" y="772.5" font-size="20" text-anchor="middle" font-weight="normal" font-style="normal" fill="#1a1a1a"  stroke="#1a1a1a" stroke-width="0.35">10</text>
<text x="445" y="772.5" font-size="20" text-anchor="middle" font-weight="normal" font-style="normal" fill="#1a1a1a"  stroke="#1a1a1a" stroke-width="0.35">12</text>
<text x="273.2" y="797.5" font-size="20" text-anchor="middle" font-weight="bold" font-style="normal" fill="#111" >Displacement (µm)</text>
<text transform="translate(47.3,577.25) rotate(-90)" font-size="20" font-weight="bold" text-anchor="middle" fill="#111">Force (mN)</text>
<text x="152.2" y="433.6" font-size="18" font-weight="bold" fill="#ff0000"><tspan font-style="italic">R</tspan><tspan font-size="12.5" dy="4">BA/PVA</tspan></text>
<rect x="138.5" y="448.3" width="108.9" height="116.1" fill="#000" opacity="0.55" filter="url(#shadow)"/>
<rect x="135.9" y="445.5" width="108.9" height="116.1" fill="#fff" stroke="#1a1a1a" stroke-width="1.3"/>
<circle cx="160.7" cy="457.56" r="1.6" fill="#1464d2"/>
<text x="174.2" y="462.8" font-size="15.4" text-anchor="start" font-weight="normal" font-style="normal" fill="#1a1a1a"  stroke="#1a1a1a" stroke-width="0.35">0.0142</text>
<circle cx="160.7" cy="480.46" r="1.6" fill="none" stroke="#f4a070" stroke-width="0.9"/>
<text x="174.2" y="485.7" font-size="15.4" text-anchor="start" font-weight="normal" font-style="normal" fill="#1a1a1a"  stroke="#1a1a1a" stroke-width="0.35">0.0107</text>
<circle cx="160.7" cy="503.36" r="1.6" fill="#10b458"/>
<text x="174.2" y="508.6" font-size="15.4" text-anchor="start" font-weight="normal" font-style="normal" fill="#1a1a1a"  stroke="#1a1a1a" stroke-width="0.35">0.0070</text>
<rect x="158.9" y="524.46" width="3.6" height="3.6" fill="#ffc000"/>
<text x="174.2" y="531.5" font-size="15.4" text-anchor="start" font-weight="normal" font-style="normal" fill="#1a1a1a"  stroke="#1a1a1a" stroke-width="0.35">0.0035</text>
<polygon points="158.8,550.78 162.6,550.78 160.7,547.36" fill="#000"/>
<text x="174.2" y="554.4" font-size="15.4" text-anchor="start" font-weight="normal" font-style="normal" fill="#1a1a1a"  stroke="#1a1a1a" stroke-width="0.35">0.0014</text>
<clipPath id="clipe"><rect x="109.5" y="826.9" width="337.4" height="335.9"/></clipPath>
<g clip-path="url(#clipe)">
<g><circle cx="114.34" cy="1139.95" r="1.5" fill="none" stroke="#7ad65a" stroke-width="0.9"/><circle cx="115.57" cy="1150.58" r="1.5" fill="none" stroke="#7ad65a" stroke-width="0.9"/><circle cx="117.22" cy="1145.88" r="1.5" fill="none" stroke="#7ad65a" stroke-width="0.9"/><circle cx="118.48" cy="1145.6" r="1.5" fill="none" stroke="#7ad65a" stroke-width="0.9"/><circle cx="119.92" cy="1141.87" r="1.5" fill="none" stroke="#7ad65a" stroke-width="0.9"/><circle cx="122.43" cy="1143.78" r="1.5" fill="none" stroke="#7ad65a" stroke-width="0.9"/><circle cx="123.94" cy="1140.19" r="1.5" fill="none" stroke="#7ad65a" stroke-width="0.9"/><circle cx="126.16" cy="1144.1" r="1.5" fill="none" stroke="#7ad65a" stroke-width="0.9"/><circle cx="128.4" cy="1150.94" r="1.5" fill="none" stroke="#7ad65a" stroke-width="0.9"/><circle cx="129.52" cy="1140.94" r="1.5" fill="none" stroke="#7ad65a" stroke-width="0.9"/><circle cx="130.86" cy="1142.06" r="1.5" fill="none" stroke="#7ad65a" stroke-width="0.9"/><circle cx="133.04" cy="1143.42" r="1.5" fill="none" stroke="#7ad65a" stroke-width="0.9"/><circle cx="134.87" cy="1144.55" r="1.5" fill="none" stroke="#7ad65a" stroke-width="0.9"/><circle cx="136.89" cy="1143" r="1.5" fill="none" stroke="#7ad65a" stroke-width="0.9"/><circle cx="137.53" cy="1144.36" r="1.5" fill="none" stroke="#7ad65a" stroke-width="0.9"/><circle cx="140" cy="1144.34" r="1.5" fill="none" stroke="#7ad65a" stroke-width="0.9"/><circle cx="141.37" cy="1147.26" r="1.5" fill="none" stroke="#7ad65a" stroke-width="0.9"/><circle cx="143.82" cy="1142.01" r="1.5" fill="none" stroke="#7ad65a" stroke-width="0.9"/><circle cx="144.75" cy="1138.62" r="1.5" fill="none" stroke="#7ad65a" stroke-width="0.9"/><circle cx="147.39" cy="1139.47" r="1.5" fill="none" stroke="#7ad65a" stroke-width="0.9"/><circle cx="148.7" cy="1138.96" r="1.5" fill="none" stroke="#7ad65a" stroke-width="0.9"/><circle cx="149.85" cy="1146.68" r="1.5" fill="none" stroke="#7ad65a" stroke-width="0.9"/><circle cx="151.42" cy="1144.48" r="1.5" fill="none" stroke="#7ad65a" stroke-width="0.9"/><circle cx="154.16" cy="1142.86" r="1.5" fill="none" stroke="#7ad65a" stroke-width="0.9"/><circle cx="156.09" cy="1137.95" r="1.5" fill="none" stroke="#7ad65a" stroke-width="0.9"/><circle cx="157.75" cy="1144.62" r="1.5" fill="none" stroke="#7ad65a" stroke-width="0.9"/><circle cx="159.85" cy="1144.7" r="1.5" fill="none" stroke="#7ad65a" stroke-width="0.9"/><circle cx="160.8" cy="1140.5" r="1.5" fill="none" stroke="#7ad65a" stroke-width="0.9"/><circle cx="163.29" cy="1139.27" r="1.5" fill="none" stroke="#7ad65a" stroke-width="0.9"/><circle cx="164.4" cy="1143.01" r="1.5" fill="none" stroke="#7ad65a" stroke-width="0.9"/><circle cx="166.17" cy="1140.54" r="1.5" fill="none" stroke="#7ad65a" stroke-width="0.9"/><circle cx="168.48" cy="1144.7" r="1.5" fill="none" stroke="#7ad65a" stroke-width="0.9"/><circle cx="169.35" cy="1135.05" r="1.5" fill="none" stroke="#7ad65a" stroke-width="0.9"/><circle cx="171.64" cy="1146.3" r="1.5" fill="none" stroke="#7ad65a" stroke-width="0.9"/><circle cx="173.39" cy="1137.82" r="1.5" fill="none" stroke="#7ad65a" stroke-width="0.9"/><circle cx="174.51" cy="1146.42" r="1.5" fill="none" stroke="#7ad65a" stroke-width="0.9"/><circle cx="177.01" cy="1145.8" r="1.5" fill="none" stroke="#7ad65a" stroke-width="0.9"/><circle cx="177.71" cy="1142.36" r="1.5" fill="none" stroke="#7ad65a" stroke-width="0.9"/><circle cx="179.81" cy="1148.13" r="1.5" fill="none" stroke="#7ad65a" stroke-width="0.9"/><circle cx="182.54" cy="1142.87" r="1.5" fill="none" stroke="#7ad65a" stroke-width="0.9"/><circle cx="183.67" cy="1142.79" r="1.5" fill="none" stroke="#7ad65a" stroke-width="0.9"/><circle cx="185.27" cy="1140.21" r="1.5" fill="none" stroke="#7ad65a" stroke-width="0.9"/><circle cx="187.41" cy="1134.55" r="1.5" fill="none" stroke="#7ad65a" stroke-width="0.9"/><circle cx="188.25" cy="1138.81" r="1.5" fill="none" stroke="#7ad65a" stroke-width="0.9"/><circle cx="190.1" cy="1139.87" r="1.5" fill="none" stroke="#7ad65a" stroke-width="0.9"/><circle cx="192.19" cy="1140.98" r="1.5" fill="none" stroke="#7ad65a" stroke-width="0.9"/><circle cx="194.37" cy="1145.15" r="1.5" fill="none" stroke="#7ad65a" stroke-width="0.9"/><circle cx="195.89" cy="1136.96" r="1.5" fill="none" stroke="#7ad65a" stroke-width="0.9"/><circle cx="197.23" cy="1136.06" r="1.5" fill="none" stroke="#7ad65a" stroke-width="0.9"/><circle cx="199.87" cy="1138.47" r="1.5" fill="none" stroke="#7ad65a" stroke-width="0.9"/><circle cx="201.48" cy="1140.03" r="1.5" fill="none" stroke="#7ad65a" stroke-width="0.9"/><circle cx="202.51" cy="1142.62" r="1.5" fill="none" stroke="#7ad65a" stroke-width="0.9"/><circle cx="204.23" cy="1132.44" r="1.5" fill="none" stroke="#7ad65a" stroke-width="0.9"/><circle cx="206.16" cy="1137.44" r="1.5" fill="none" stroke="#7ad65a" stroke-width="0.9"/><circle cx="208" cy="1139.54" r="1.5" fill="none" stroke="#7ad65a" stroke-width="0.9"/><circle cx="209.14" cy="1137.12" r="1.5" fill="none" stroke="#7ad65a" stroke-width="0.9"/><circle cx="211.16" cy="1132.19" r="1.5" fill="none" stroke="#7ad65a" stroke-width="0.9"/><circle cx="213.22" cy="1139.84" r="1.5" fill="none" stroke="#7ad65a" stroke-width="0.9"/><circle cx="215.13" cy="1143.92" r="1.5" fill="none" stroke="#7ad65a" stroke-width="0.9"/><circle cx="217.33" cy="1131.22" r="1.5" fill="none" stroke="#7ad65a" stroke-width="0.9"/><circle cx="219.28" cy="1135.28" r="1.5" fill="none" stroke="#7ad65a" stroke-width="0.9"/><circle cx="219.92" cy="1135.3" r="1.5" fill="none" stroke="#7ad65a" stroke-width="0.9"/><circle cx="221.46" cy="1132.87" r="1.5" fill="none" stroke="#7ad65a" stroke-width="0.9"/><circle cx="223.6" cy="1135.45" r="1.5" fill="none" stroke="#7ad65a" stroke-width="0.9"/><circle cx="225.19" cy="1123.74" r="1.5" fill="none" stroke="#7ad65a" stroke-width="0.9"/><circle cx="226.74" cy="1127.94" r="1.5" fill="none" stroke="#7ad65a" stroke-width="0.9"/><circle cx="229.65" cy="1132.23" r="1.5" fill="none" stroke="#7ad65a" stroke-width="0.9"/><circle cx="230.19" cy="1131.65" r="1.5" fill="none" stroke="#7ad65a" stroke-width="0.9"/><circle cx="232.45" cy="1133.8" r="1.5" fill="none" stroke="#7ad65a" stroke-width="0.9"/><circle cx="234.75" cy="1138.04" r="1.5" fill="none" stroke="#7ad65a" stroke-width="0.9"/><circle cx="236.14" cy="1132.77" r="1.5" fill="none" stroke="#7ad65a" stroke-width="0.9"/><circle cx="238.3" cy="1128.76" r="1.5" fill="none" stroke="#7ad65a" stroke-width="0.9"/><circle cx="239.37" cy="1133.81" r="1.5" fill="none" stroke="#7ad65a" stroke-width="0.9"/><circle cx="241.8" cy="1124.12" r="1.5" fill="none" stroke="#7ad65a" stroke-width="0.9"/><circle cx="242.77" cy="1135.22" r="1.5" fill="none" stroke="#7ad65a" stroke-width="0.9"/><circle cx="244.44" cy="1136.88" r="1.5" fill="none" stroke="#7ad65a" stroke-width="0.9"/><circle cx="247.24" cy="1126.89" r="1.5" fill="none" stroke="#7ad65a" stroke-width="0.9"/><circle cx="248.66" cy="1129.59" r="1.5" fill="none" stroke="#7ad65a" stroke-width="0.9"/><circle cx="249.25" cy="1135.67" r="1.5" fill="none" stroke="#7ad65a" stroke-width="0.9"/><circle cx="251.78" cy="1123.67" r="1.5" fill="none" stroke="#7ad65a" stroke-width="0.9"/><circle cx="253.32" cy="1124.25" r="1.5" fill="none" stroke="#7ad65a" stroke-width="0.9"/><circle cx="255.72" cy="1126.36" r="1.5" fill="none" stroke="#7ad65a" stroke-width="0.9"/><circle cx="256.83" cy="1127.65" r="1.5" fill="none" stroke="#7ad65a" stroke-width="0.9"/><circle cx="258.63" cy="1122.91" r="1.5" fill="none" stroke="#7ad65a" stroke-width="0.9"/><circle cx="260.97" cy="1139.08" r="1.5" fill="none" stroke="#7ad65a" stroke-width="0.9"/><circle cx="262.4" cy="1132.93" r="1.5" fill="none" stroke="#7ad65a" stroke-width="0.9"/><circle cx="264.12" cy="1113.47" r="1.5" fill="none" stroke="#7ad65a" stroke-width="0.9"/><circle cx="265.59" cy="1133.27" r="1.5" fill="none" stroke="#7ad65a" stroke-width="0.9"/><circle cx="267.98" cy="1129.59" r="1.5" fill="none" stroke="#7ad65a" stroke-width="0.9"/><circle cx="268.46" cy="1122.22" r="1.5" fill="none" stroke="#7ad65a" stroke-width="0.9"/><circle cx="271.69" cy="1125.32" r="1.5" fill="none" stroke="#7ad65a" stroke-width="0.9"/><circle cx="272.33" cy="1133" r="1.5" fill="none" stroke="#7ad65a" stroke-width="0.9"/><circle cx="274.6" cy="1117.71" r="1.5" fill="none" stroke="#7ad65a" stroke-width="0.9"/><circle cx="276.25" cy="1121.12" r="1.5" fill="none" stroke="#7ad65a" stroke-width="0.9"/><circle cx="277.25" cy="1126.62" r="1.5" fill="none" stroke="#7ad65a" stroke-width="0.9"/><circle cx="279.38" cy="1122.72" r="1.5" fill="none" stroke="#7ad65a" stroke-width="0.9"/><circle cx="281.82" cy="1127.89" r="1.5" fill="none" stroke="#7ad65a" stroke-width="0.9"/><circle cx="282.94" cy="1126.57" r="1.5" fill="none" stroke="#7ad65a" stroke-width="0.9"/><circle cx="284.56" cy="1123.46" r="1.5" fill="none" stroke="#7ad65a" stroke-width="0.9"/><circle cx="287.13" cy="1115.38" r="1.5" fill="none" stroke="#7ad65a" stroke-width="0.9"/><circle cx="289.15" cy="1111.6" r="1.5" fill="none" stroke="#7ad65a" stroke-width="0.9"/><circle cx="290.8" cy="1119.4" r="1.5" fill="none" stroke="#7ad65a" stroke-width="0.9"/><circle cx="292.21" cy="1112.77" r="1.5" fill="none" stroke="#7ad65a" stroke-width="0.9"/><circle cx="294.32" cy="1122.59" r="1.5" fill="none" stroke="#7ad65a" stroke-width="0.9"/><circle cx="294.8" cy="1118.8" r="1.5" fill="none" stroke="#7ad65a" stroke-width="0.9"/><circle cx="297.62" cy="1121.17" r="1.5" fill="none" stroke="#7ad65a" stroke-width="0.9"/><circle cx="299.62" cy="1123.19" r="1.5" fill="none" stroke="#7ad65a" stroke-width="0.9"/><circle cx="300.76" cy="1123.34" r="1.5" fill="none" stroke="#7ad65a" stroke-width="0.9"/><circle cx="302.63" cy="1115.43" r="1.5" fill="none" stroke="#7ad65a" stroke-width="0.9"/><circle cx="304.51" cy="1120.18" r="1.5" fill="none" stroke="#7ad65a" stroke-width="0.9"/><circle cx="306.4" cy="1115.39" r="1.5" fill="none" stroke="#7ad65a" stroke-width="0.9"/><circle cx="307.9" cy="1113.29" r="1.5" fill="none" stroke="#7ad65a" stroke-width="0.9"/><circle cx="310.14" cy="1106.05" r="1.5" fill="none" stroke="#7ad65a" stroke-width="0.9"/><circle cx="311.24" cy="1115.97" r="1.5" fill="none" stroke="#7ad65a" stroke-width="0.9"/><circle cx="313.35" cy="1117.48" r="1.5" fill="none" stroke="#7ad65a" stroke-width="0.9"/><circle cx="314.4" cy="1117.53" r="1.5" fill="none" stroke="#7ad65a" stroke-width="0.9"/><circle cx="316.4" cy="1109.9" r="1.5" fill="none" stroke="#7ad65a" stroke-width="0.9"/><circle cx="317.47" cy="1117.76" r="1.5" fill="none" stroke="#7ad65a" stroke-width="0.9"/><circle cx="320.14" cy="1121.96" r="1.5" fill="none" stroke="#7ad65a" stroke-width="0.9"/><circle cx="322.1" cy="1120.24" r="1.5" fill="none" stroke="#7ad65a" stroke-width="0.9"/><circle cx="322.8" cy="1108.29" r="1.5" fill="none" stroke="#7ad65a" stroke-width="0.9"/><circle cx="325.29" cy="1106.64" r="1.5" fill="none" stroke="#7ad65a" stroke-width="0.9"/><circle cx="326.87" cy="1109.51" r="1.5" fill="none" stroke="#7ad65a" stroke-width="0.9"/><circle cx="328.76" cy="1118.07" r="1.5" fill="none" stroke="#7ad65a" stroke-width="0.9"/><circle cx="330.83" cy="1108.62" r="1.5" fill="none" stroke="#7ad65a" stroke-width="0.9"/><circle cx="332.61" cy="1114.41" r="1.5" fill="none" stroke="#7ad65a" stroke-width="0.9"/><circle cx="334.56" cy="1107.43" r="1.5" fill="none" stroke="#7ad65a" stroke-width="0.9"/><circle cx="335.37" cy="1111.36" r="1.5" fill="none" stroke="#7ad65a" stroke-width="0.9"/><circle cx="337.35" cy="1099.4" r="1.5" fill="none" stroke="#7ad65a" stroke-width="0.9"/><circle cx="338.7" cy="1109.96" r="1.5" fill="none" stroke="#7ad65a" stroke-width="0.9"/><circle cx="341.45" cy="1111.53" r="1.5" fill="none" stroke="#7ad65a" stroke-width="0.9"/><circle cx="342.19" cy="1144.58" r="1.5" fill="none" stroke="#7ad65a" stroke-width="0.9"/><circle cx="344.77" cy="1117.18" r="1.5" fill="none" stroke="#7ad65a" stroke-width="0.9"/><circle cx="345.54" cy="1114.82" r="1.5" fill="none" stroke="#7ad65a" stroke-width="0.9"/><circle cx="347.75" cy="1109.63" r="1.5" fill="none" stroke="#7ad65a" stroke-width="0.9"/><circle cx="350.25" cy="1106.7" r="1.5" fill="none" stroke="#7ad65a" stroke-width="0.9"/><circle cx="351.76" cy="1095.66" r="1.5" fill="none" stroke="#7ad65a" stroke-width="0.9"/><circle cx="352.43" cy="1111.25" r="1.5" fill="none" stroke="#7ad65a" stroke-width="0.9"/><circle cx="354.67" cy="1101.53" r="1.5" fill="none" stroke="#7ad65a" stroke-width="0.9"/><circle cx="356.37" cy="1104.42" r="1.5" fill="none" stroke="#7ad65a" stroke-width="0.9"/><circle cx="359.01" cy="1090.58" r="1.5" fill="none" stroke="#7ad65a" stroke-width="0.9"/><circle cx="360.37" cy="1110.96" r="1.5" fill="none" stroke="#7ad65a" stroke-width="0.9"/><circle cx="362.18" cy="1101.2" r="1.5" fill="none" stroke="#7ad65a" stroke-width="0.9"/><circle cx="364.26" cy="1110.12" r="1.5" fill="none" stroke="#7ad65a" stroke-width="0.9"/><circle cx="365.97" cy="1098.08" r="1.5" fill="none" stroke="#7ad65a" stroke-width="0.9"/><circle cx="367.09" cy="1096.9" r="1.5" fill="none" stroke="#7ad65a" stroke-width="0.9"/><circle cx="369.01" cy="1106.45" r="1.5" fill="none" stroke="#7ad65a" stroke-width="0.9"/><circle cx="370.39" cy="1105.77" r="1.5" fill="none" stroke="#7ad65a" stroke-width="0.9"/><circle cx="372.45" cy="1103.84" r="1.5" fill="none" stroke="#7ad65a" stroke-width="0.9"/><circle cx="373.27" cy="1095.86" r="1.5" fill="none" stroke="#7ad65a" stroke-width="0.9"/><circle cx="375.48" cy="1092.23" r="1.5" fill="none" stroke="#7ad65a" stroke-width="0.9"/><circle cx="378.21" cy="1094.09" r="1.5" fill="none" stroke="#7ad65a" stroke-width="0.9"/><circle cx="379.54" cy="1094.32" r="1.5" fill="none" stroke="#7ad65a" stroke-width="0.9"/><circle cx="381.2" cy="1100.69" r="1.5" fill="none" stroke="#7ad65a" stroke-width="0.9"/><circle cx="383.54" cy="1107.4" r="1.5" fill="none" stroke="#7ad65a" stroke-width="0.9"/><circle cx="383.89" cy="1089.95" r="1.5" fill="none" stroke="#7ad65a" stroke-width="0.9"/><circle cx="386.58" cy="1095.5" r="1.5" fill="none" stroke="#7ad65a" stroke-width="0.9"/><circle cx="388.32" cy="1080.2" r="1.5" fill="none" stroke="#7ad65a" stroke-width="0.9"/><circle cx="390.53" cy="1087.69" r="1.5" fill="none" stroke="#7ad65a" stroke-width="0.9"/><circle cx="391.88" cy="1085.18" r="1.5" fill="none" stroke="#7ad65a" stroke-width="0.9"/><circle cx="393.33" cy="1103.22" r="1.5" fill="none" stroke="#7ad65a" stroke-width="0.9"/><circle cx="394.81" cy="1098.79" r="1.5" fill="none" stroke="#7ad65a" stroke-width="0.9"/><circle cx="397.22" cy="1089.92" r="1.5" fill="none" stroke="#7ad65a" stroke-width="0.9"/><circle cx="397.9" cy="1089.87" r="1.5" fill="none" stroke="#7ad65a" stroke-width="0.9"/><circle cx="400.83" cy="1092.22" r="1.5" fill="none" stroke="#7ad65a" stroke-width="0.9"/><circle cx="401.74" cy="1087.83" r="1.5" fill="none" stroke="#7ad65a" stroke-width="0.9"/><circle cx="404.14" cy="1099.29" r="1.5" fill="none" stroke="#7ad65a" stroke-width="0.9"/><circle cx="406.05" cy="1085.9" r="1.5" fill="none" stroke="#7ad65a" stroke-width="0.9"/><circle cx="407.87" cy="1088.25" r="1.5" fill="none" stroke="#7ad65a" stroke-width="0.9"/><circle cx="409.42" cy="1092.83" r="1.5" fill="none" stroke="#7ad65a" stroke-width="0.9"/><circle cx="411.1" cy="1080.46" r="1.5" fill="none" stroke="#7ad65a" stroke-width="0.9"/><circle cx="412.71" cy="1122.11" r="1.5" fill="none" stroke="#7ad65a" stroke-width="0.9"/><circle cx="414.88" cy="1084.34" r="1.5" fill="none" stroke="#7ad65a" stroke-width="0.9"/><circle cx="415.88" cy="1083.76" r="1.5" fill="none" stroke="#7ad65a" stroke-width="0.9"/><circle cx="417.24" cy="1056.43" r="1.5" fill="none" stroke="#7ad65a" stroke-width="0.9"/><circle cx="418.86" cy="1090.35" r="1.5" fill="none" stroke="#7ad65a" stroke-width="0.9"/><circle cx="421.36" cy="1082.99" r="1.5" fill="none" stroke="#7ad65a" stroke-width="0.9"/><circle cx="423.01" cy="1094.84" r="1.5" fill="none" stroke="#7ad65a" stroke-width="0.9"/><circle cx="424.89" cy="1092.99" r="1.5" fill="none" stroke="#7ad65a" stroke-width="0.9"/><circle cx="426" cy="1077.45" r="1.5" fill="none" stroke="#7ad65a" stroke-width="0.9"/><circle cx="427.43" cy="1095.52" r="1.5" fill="none" stroke="#7ad65a" stroke-width="0.9"/><circle cx="429.46" cy="1071.56" r="1.5" fill="none" stroke="#7ad65a" stroke-width="0.9"/><circle cx="431.27" cy="1079.64" r="1.5" fill="none" stroke="#7ad65a" stroke-width="0.9"/><circle cx="432.98" cy="1070.3" r="1.5" fill="none" stroke="#7ad65a" stroke-width="0.9"/><circle cx="434.69" cy="1039.93" r="1.5" fill="none" stroke="#7ad65a" stroke-width="0.9"/><circle cx="437.01" cy="1050.12" r="1.5" fill="none" stroke="#7ad65a" stroke-width="0.9"/><circle cx="438.49" cy="1077.86" r="1.5" fill="none" stroke="#7ad65a" stroke-width="0.9"/><circle cx="440.17" cy="1078.68" r="1.5" fill="none" stroke="#7ad65a" stroke-width="0.9"/><circle cx="442.39" cy="1064.68" r="1.5" fill="none" stroke="#7ad65a" stroke-width="0.9"/><circle cx="444.37" cy="1069.25" r="1.5" fill="none" stroke="#7ad65a" stroke-width="0.9"/></g>
<g><circle cx="113.05" cy="1123.71" r="1.75" fill="#000"/><circle cx="115.09" cy="1122.28" r="1.75" fill="#000"/><circle cx="118.29" cy="1129.51" r="1.75" fill="#000"/><circle cx="120.17" cy="1107.29" r="1.75" fill="#000"/><circle cx="120.71" cy="1121.58" r="1.75" fill="#000"/><circle cx="123.75" cy="1123.22" r="1.75" fill="#000"/><circle cx="125.16" cy="1123.33" r="1.75" fill="#000"/><circle cx="126.62" cy="1122.74" r="1.75" fill="#000"/><circle cx="129.68" cy="1135.04" r="1.75" fill="#000"/><circle cx="131.95" cy="1120.16" r="1.75" fill="#000"/><circle cx="133.82" cy="1127.51" r="1.75" fill="#000"/><circle cx="135.6" cy="1127.48" r="1.75" fill="#000"/><circle cx="136.87" cy="1109.89" r="1.75" fill="#000"/><circle cx="138.67" cy="1094.8" r="1.75" fill="#000"/><circle cx="141.76" cy="1126.77" r="1.75" fill="#000"/><circle cx="143.77" cy="1117.66" r="1.75" fill="#000"/><circle cx="144.3" cy="1124.95" r="1.75" fill="#000"/><circle cx="146.28" cy="1121.57" r="1.75" fill="#000"/><circle cx="149.04" cy="1117.42" r="1.75" fill="#000"/><circle cx="150.16" cy="1119.74" r="1.75" fill="#000"/><circle cx="153.53" cy="1112" r="1.75" fill="#000"/><circle cx="155.18" cy="1119.59" r="1.75" fill="#000"/><circle cx="156.31" cy="1131.83" r="1.75" fill="#000"/><circle cx="158.41" cy="1114.87" r="1.75" fill="#000"/><circle cx="161.35" cy="1126.63" r="1.75" fill="#000"/><circle cx="163.4" cy="1117.05" r="1.75" fill="#000"/><circle cx="163.71" cy="1120.35" r="1.75" fill="#000"/><circle cx="166.56" cy="1119.27" r="1.75" fill="#000"/><circle cx="168.38" cy="1116.06" r="1.75" fill="#000"/><circle cx="170.55" cy="1126.63" r="1.75" fill="#000"/><circle cx="172.89" cy="1121.8" r="1.75" fill="#000"/><circle cx="174.86" cy="1120.05" r="1.75" fill="#000"/><circle cx="176.19" cy="1126.25" r="1.75" fill="#000"/><circle cx="177.93" cy="1128.09" r="1.75" fill="#000"/><circle cx="180.8" cy="1111.26" r="1.75" fill="#000"/><circle cx="182.78" cy="1132.4" r="1.75" fill="#000"/><circle cx="184.75" cy="1120.33" r="1.75" fill="#000"/><circle cx="185.5" cy="1117.36" r="1.75" fill="#000"/><circle cx="188.48" cy="1116.63" r="1.75" fill="#000"/><circle cx="189.45" cy="1120.71" r="1.75" fill="#000"/><circle cx="191.61" cy="1118.63" r="1.75" fill="#000"/><circle cx="194.18" cy="1117.22" r="1.75" fill="#000"/><circle cx="196.57" cy="1112.64" r="1.75" fill="#000"/><circle cx="197.41" cy="1117.56" r="1.75" fill="#000"/><circle cx="200.26" cy="1112.47" r="1.75" fill="#000"/><circle cx="202.04" cy="1122.32" r="1.75" fill="#000"/><circle cx="203.79" cy="1113.7" r="1.75" fill="#000"/><circle cx="205.76" cy="1123.15" r="1.75" fill="#000"/><circle cx="207.35" cy="1111.04" r="1.75" fill="#000"/><circle cx="208.9" cy="1113.33" r="1.75" fill="#000"/><circle cx="210.7" cy="1115.43" r="1.75" fill="#000"/><circle cx="212.65" cy="1101.11" r="1.75" fill="#000"/><circle cx="215.21" cy="1107.26" r="1.75" fill="#000"/><circle cx="218" cy="1114.89" r="1.75" fill="#000"/><circle cx="219.78" cy="1117.33" r="1.75" fill="#000"/><circle cx="221.64" cy="1110.46" r="1.75" fill="#000"/><circle cx="222.52" cy="1118.12" r="1.75" fill="#000"/><circle cx="224.41" cy="1112.1" r="1.75" fill="#000"/><circle cx="226.41" cy="1114.47" r="1.75" fill="#000"/><circle cx="229.22" cy="1074.89" r="1.75" fill="#000"/><circle cx="231.39" cy="1118.2" r="1.75" fill="#000"/><circle cx="233.26" cy="1109.18" r="1.75" fill="#000"/><circle cx="234.01" cy="1112.42" r="1.75" fill="#000"/><circle cx="236.97" cy="1117.85" r="1.75" fill="#000"/><circle cx="238.38" cy="1106.19" r="1.75" fill="#000"/><circle cx="240.25" cy="1108.78" r="1.75" fill="#000"/><circle cx="243.31" cy="1116.3" r="1.75" fill="#000"/><circle cx="244.38" cy="1109.61" r="1.75" fill="#000"/><circle cx="247.25" cy="1111.57" r="1.75" fill="#000"/><circle cx="248.27" cy="1107.17" r="1.75" fill="#000"/><circle cx="250.07" cy="1118.05" r="1.75" fill="#000"/><circle cx="252.71" cy="1107.21" r="1.75" fill="#000"/><circle cx="254.77" cy="1115.01" r="1.75" fill="#000"/><circle cx="256.48" cy="1107.54" r="1.75" fill="#000"/><circle cx="259.17" cy="1102.95" r="1.75" fill="#000"/><circle cx="260.75" cy="1106.67" r="1.75" fill="#000"/><circle cx="261.73" cy="1113.01" r="1.75" fill="#000"/><circle cx="264.04" cy="1109.96" r="1.75" fill="#000"/><circle cx="266.36" cy="1113.84" r="1.75" fill="#000"/><circle cx="268.1" cy="1117.14" r="1.75" fill="#000"/><circle cx="270.29" cy="1104.2" r="1.75" fill="#000"/><circle cx="271.79" cy="1113.85" r="1.75" fill="#000"/><circle cx="273.16" cy="1103.72" r="1.75" fill="#000"/><circle cx="275.08" cy="1102.23" r="1.75" fill="#000"/><circle cx="277.74" cy="1104.74" r="1.75" fill="#000"/><circle cx="279.3" cy="1109.69" r="1.75" fill="#000"/><circle cx="281.71" cy="1104.07" r="1.75" fill="#000"/><circle cx="282.91" cy="1099.84" r="1.75" fill="#000"/><circle cx="285.86" cy="1104.12" r="1.75" fill="#000"/><circle cx="288.42" cy="1108.02" r="1.75" fill="#000"/><circle cx="288.73" cy="1112.25" r="1.75" fill="#000"/><circle cx="292" cy="1094.87" r="1.75" fill="#000"/><circle cx="294.21" cy="1106.52" r="1.75" fill="#000"/><circle cx="295.46" cy="1106.05" r="1.75" fill="#000"/><circle cx="296.8" cy="1101.72" r="1.75" fill="#000"/><circle cx="298.58" cy="1105.68" r="1.75" fill="#000"/><circle cx="301.2" cy="1099.92" r="1.75" fill="#000"/><circle cx="302.36" cy="1104.99" r="1.75" fill="#000"/><circle cx="305.23" cy="1099.51" r="1.75" fill="#000"/><circle cx="306.33" cy="1088.29" r="1.75" fill="#000"/><circle cx="309.35" cy="1104.94" r="1.75" fill="#000"/><circle cx="310.58" cy="1102.89" r="1.75" fill="#000"/><circle cx="312.89" cy="1095.11" r="1.75" fill="#000"/><circle cx="315.4" cy="1084.03" r="1.75" fill="#000"/><circle cx="317.75" cy="1101.94" r="1.75" fill="#000"/><circle cx="319.53" cy="1088.53" r="1.75" fill="#000"/><circle cx="321.44" cy="1093.26" r="1.75" fill="#000"/><circle cx="323.23" cy="1092.27" r="1.75" fill="#000"/><circle cx="324.05" cy="1094.29" r="1.75" fill="#000"/><circle cx="326" cy="1091.55" r="1.75" fill="#000"/><circle cx="329.31" cy="1092.52" r="1.75" fill="#000"/><circle cx="331.01" cy="1096.01" r="1.75" fill="#000"/><circle cx="332.03" cy="1094.32" r="1.75" fill="#000"/><circle cx="333.67" cy="1082.07" r="1.75" fill="#000"/><circle cx="335.94" cy="1092.44" r="1.75" fill="#000"/><circle cx="338.76" cy="1093.1" r="1.75" fill="#000"/><circle cx="339.69" cy="1090.74" r="1.75" fill="#000"/><circle cx="342.83" cy="1091.18" r="1.75" fill="#000"/><circle cx="344.87" cy="1094.65" r="1.75" fill="#000"/><circle cx="346.32" cy="1084.51" r="1.75" fill="#000"/><circle cx="348.75" cy="1076.34" r="1.75" fill="#000"/><circle cx="349.31" cy="1085.18" r="1.75" fill="#000"/><circle cx="352.89" cy="1090.57" r="1.75" fill="#000"/><circle cx="353.38" cy="1092.8" r="1.75" fill="#000"/><circle cx="355.54" cy="1088.2" r="1.75" fill="#000"/><circle cx="358.68" cy="1090.81" r="1.75" fill="#000"/><circle cx="360.29" cy="1088.71" r="1.75" fill="#000"/><circle cx="362.3" cy="1087.32" r="1.75" fill="#000"/><circle cx="364.62" cy="1083.48" r="1.75" fill="#000"/><circle cx="366.41" cy="1090.15" r="1.75" fill="#000"/><circle cx="368.07" cy="1082.66" r="1.75" fill="#000"/><circle cx="369.36" cy="1078.53" r="1.75" fill="#000"/><circle cx="372.12" cy="1078" r="1.75" fill="#000"/><circle cx="373.01" cy="1078.72" r="1.75" fill="#000"/><circle cx="375.36" cy="1087.15" r="1.75" fill="#000"/><circle cx="376.63" cy="1081.06" r="1.75" fill="#000"/><circle cx="378.7" cy="1081.69" r="1.75" fill="#000"/><circle cx="380.48" cy="1073.68" r="1.75" fill="#000"/><circle cx="382.68" cy="1078.15" r="1.75" fill="#000"/><circle cx="385.37" cy="1089.18" r="1.75" fill="#000"/><circle cx="387.5" cy="1070.76" r="1.75" fill="#000"/><circle cx="389.8" cy="1072.64" r="1.75" fill="#000"/><circle cx="390.58" cy="1073.74" r="1.75" fill="#000"/><circle cx="393.06" cy="1078.17" r="1.75" fill="#000"/><circle cx="394.64" cy="1074.49" r="1.75" fill="#000"/><circle cx="396.36" cy="1073.23" r="1.75" fill="#000"/><circle cx="398.06" cy="1069.4" r="1.75" fill="#000"/><circle cx="401.4" cy="1068" r="1.75" fill="#000"/><circle cx="403.36" cy="1073.49" r="1.75" fill="#000"/><circle cx="404.98" cy="1069.19" r="1.75" fill="#000"/><circle cx="406.29" cy="1073.08" r="1.75" fill="#000"/><circle cx="408.7" cy="1070.93" r="1.75" fill="#000"/><circle cx="409.79" cy="1068.19" r="1.75" fill="#000"/><circle cx="411.97" cy="1073.03" r="1.75" fill="#000"/><circle cx="414.78" cy="1071.6" r="1.75" fill="#000"/><circle cx="415.74" cy="1065.2" r="1.75" fill="#000"/><circle cx="418.1" cy="1072.44" r="1.75" fill="#000"/><circle cx="420.75" cy="1060.53" r="1.75" fill="#000"/><circle cx="422.42" cy="1058.19" r="1.75" fill="#000"/><circle cx="423.67" cy="1069.72" r="1.75" fill="#000"/><circle cx="425.68" cy="1053.23" r="1.75" fill="#000"/><circle cx="428.42" cy="1063.2" r="1.75" fill="#000"/><circle cx="430.4" cy="1059.53" r="1.75" fill="#000"/><circle cx="432.1" cy="1053.08" r="1.75" fill="#000"/><circle cx="433.8" cy="1059.1" r="1.75" fill="#000"/><circle cx="435.34" cy="1056.17" r="1.75" fill="#000"/><circle cx="438.14" cy="1053.99" r="1.75" fill="#000"/><circle cx="439.93" cy="1068.05" r="1.75" fill="#000"/><circle cx="441.45" cy="1052.29" r="1.75" fill="#000"/><circle cx="444.11" cy="1053.03" r="1.75" fill="#000"/><circle cx="142.06" cy="1095.13" r="1.75" fill="#000"/><circle cx="147.62" cy="1095.13" r="1.75" fill="#000"/><circle cx="194.85" cy="1097.36" r="1.75" fill="#000"/><circle cx="229.58" cy="1092.91" r="1.75" fill="#000"/><circle cx="194.85" cy="1106.26" r="1.75" fill="#000"/><circle cx="440.73" cy="1040.6" r="1.75" fill="#000"/><circle cx="408.78" cy="1049.5" r="1.75" fill="#000"/></g>
<g><rect x="112.14" y="1144.6" width="3.6" height="3.6" fill="#ff1010"/><rect x="114.99" y="1145.13" width="3.6" height="3.6" fill="#ff1010"/><rect x="116.43" y="1144.78" width="3.6" height="3.6" fill="#ff1010"/><rect x="118.02" y="1151" width="3.6" height="3.6" fill="#ff1010"/><rect x="121.33" y="1151.62" width="3.6" height="3.6" fill="#ff1010"/><rect x="122.37" y="1143.39" width="3.6" height="3.6" fill="#ff1010"/><rect x="124.43" y="1146.62" width="3.6" height="3.6" fill="#ff1010"/><rect x="126.62" y="1147.88" width="3.6" height="3.6" fill="#ff1010"/><rect x="130.42" y="1145.56" width="3.6" height="3.6" fill="#ff1010"/><rect x="132.71" y="1155.49" width="3.6" height="3.6" fill="#ff1010"/><rect x="134.79" y="1152.78" width="3.6" height="3.6" fill="#ff1010"/><rect x="135.78" y="1146.11" width="3.6" height="3.6" fill="#ff1010"/><rect x="138.59" y="1133.51" width="3.6" height="3.6" fill="#ff1010"/><rect x="141.03" y="1149.44" width="3.6" height="3.6" fill="#ff1010"/><rect x="143.84" y="1153.75" width="3.6" height="3.6" fill="#ff1010"/><rect x="144.59" y="1143.25" width="3.6" height="3.6" fill="#ff1010"/><rect x="147.75" y="1146.42" width="3.6" height="3.6" fill="#ff1010"/><rect x="149.3" y="1126.85" width="3.6" height="3.6" fill="#ff1010"/><rect x="152.72" y="1154.62" width="3.6" height="3.6" fill="#ff1010"/><rect x="153.95" y="1138.84" width="3.6" height="3.6" fill="#ff1010"/><rect x="156.29" y="1146.05" width="3.6" height="3.6" fill="#ff1010"/><rect x="157.77" y="1111.61" width="3.6" height="3.6" fill="#ff1010"/><rect x="161.26" y="1139.58" width="3.6" height="3.6" fill="#ff1010"/><rect x="162.92" y="1153.42" width="3.6" height="3.6" fill="#ff1010"/><rect x="164.25" y="1145.47" width="3.6" height="3.6" fill="#ff1010"/><rect x="167.51" y="1138.68" width="3.6" height="3.6" fill="#ff1010"/><rect x="168.84" y="1150.41" width="3.6" height="3.6" fill="#ff1010"/><rect x="172.77" y="1138.2" width="3.6" height="3.6" fill="#ff1010"/><rect x="174.99" y="1146.29" width="3.6" height="3.6" fill="#ff1010"/><rect x="175.91" y="1144.88" width="3.6" height="3.6" fill="#ff1010"/><rect x="177.63" y="1140.8" width="3.6" height="3.6" fill="#ff1010"/><rect x="179.93" y="1126.86" width="3.6" height="3.6" fill="#ff1010"/><rect x="182.24" y="1135.92" width="3.6" height="3.6" fill="#ff1010"/><rect x="185.9" y="1142.5" width="3.6" height="3.6" fill="#ff1010"/><rect x="188.13" y="1133.15" width="3.6" height="3.6" fill="#ff1010"/><rect x="189.5" y="1142.88" width="3.6" height="3.6" fill="#ff1010"/><rect x="191.31" y="1142.7" width="3.6" height="3.6" fill="#ff1010"/><rect x="193.96" y="1132.44" width="3.6" height="3.6" fill="#ff1010"/><rect x="195.2" y="1149.65" width="3.6" height="3.6" fill="#ff1010"/><rect x="199.23" y="1131.81" width="3.6" height="3.6" fill="#ff1010"/><rect x="199.88" y="1131.61" width="3.6" height="3.6" fill="#ff1010"/><rect x="202.84" y="1137.81" width="3.6" height="3.6" fill="#ff1010"/><rect x="205.42" y="1142.69" width="3.6" height="3.6" fill="#ff1010"/><rect x="208.2" y="1132.13" width="3.6" height="3.6" fill="#ff1010"/><rect x="210.39" y="1127.51" width="3.6" height="3.6" fill="#ff1010"/><rect x="210.95" y="1137.13" width="3.6" height="3.6" fill="#ff1010"/><rect x="214.85" y="1123.99" width="3.6" height="3.6" fill="#ff1010"/><rect x="216.51" y="1146.46" width="3.6" height="3.6" fill="#ff1010"/><rect x="218.86" y="1120.72" width="3.6" height="3.6" fill="#ff1010"/><rect x="220.98" y="1129.29" width="3.6" height="3.6" fill="#ff1010"/><rect x="223" y="1137.34" width="3.6" height="3.6" fill="#ff1010"/><rect x="225.15" y="1134.44" width="3.6" height="3.6" fill="#ff1010"/><rect x="226.95" y="1119.89" width="3.6" height="3.6" fill="#ff1010"/><rect x="228.53" y="1122.43" width="3.6" height="3.6" fill="#ff1010"/><rect x="231.36" y="1123.93" width="3.6" height="3.6" fill="#ff1010"/><rect x="233.62" y="1113.84" width="3.6" height="3.6" fill="#ff1010"/><rect x="236.34" y="1131.03" width="3.6" height="3.6" fill="#ff1010"/><rect x="238.86" y="1122.51" width="3.6" height="3.6" fill="#ff1010"/><rect x="240.15" y="1122.24" width="3.6" height="3.6" fill="#ff1010"/><rect x="243.58" y="1110.38" width="3.6" height="3.6" fill="#ff1010"/><rect x="245.07" y="1121.37" width="3.6" height="3.6" fill="#ff1010"/><rect x="246.29" y="1119.67" width="3.6" height="3.6" fill="#ff1010"/><rect x="250" y="1118.98" width="3.6" height="3.6" fill="#ff1010"/><rect x="252.25" y="1110.68" width="3.6" height="3.6" fill="#ff1010"/><rect x="253.7" y="1123.95" width="3.6" height="3.6" fill="#ff1010"/><rect x="255.39" y="1104.2" width="3.6" height="3.6" fill="#ff1010"/><rect x="258.31" y="1092.16" width="3.6" height="3.6" fill="#ff1010"/><rect x="259.76" y="1128.34" width="3.6" height="3.6" fill="#ff1010"/><rect x="263.13" y="1107.76" width="3.6" height="3.6" fill="#ff1010"/><rect x="264.68" y="1122.4" width="3.6" height="3.6" fill="#ff1010"/><rect x="267.72" y="1124.07" width="3.6" height="3.6" fill="#ff1010"/><rect x="270.02" y="1121.73" width="3.6" height="3.6" fill="#ff1010"/><rect x="271.24" y="1113.15" width="3.6" height="3.6" fill="#ff1010"/><rect x="274.42" y="1101.99" width="3.6" height="3.6" fill="#ff1010"/><rect x="276.53" y="1075.71" width="3.6" height="3.6" fill="#ff1010"/><rect x="278.09" y="1106.32" width="3.6" height="3.6" fill="#ff1010"/><rect x="279.31" y="1095.2" width="3.6" height="3.6" fill="#ff1010"/><rect x="282.85" y="1090.71" width="3.6" height="3.6" fill="#ff1010"/><rect x="284.83" y="1099.49" width="3.6" height="3.6" fill="#ff1010"/><rect x="287.2" y="1098.48" width="3.6" height="3.6" fill="#ff1010"/><rect x="288.23" y="1083.89" width="3.6" height="3.6" fill="#ff1010"/><rect x="290.43" y="1089.36" width="3.6" height="3.6" fill="#ff1010"/><rect x="293.2" y="1096.79" width="3.6" height="3.6" fill="#ff1010"/><rect x="295.48" y="1094.02" width="3.6" height="3.6" fill="#ff1010"/><rect x="297.55" y="1096.24" width="3.6" height="3.6" fill="#ff1010"/><rect x="301.02" y="1106.56" width="3.6" height="3.6" fill="#ff1010"/><rect x="301.73" y="1071.45" width="3.6" height="3.6" fill="#ff1010"/><rect x="304.08" y="1090.44" width="3.6" height="3.6" fill="#ff1010"/><rect x="307.04" y="1076.6" width="3.6" height="3.6" fill="#ff1010"/><rect x="308.74" y="1077.32" width="3.6" height="3.6" fill="#ff1010"/><rect x="310.87" y="1074.56" width="3.6" height="3.6" fill="#ff1010"/><rect x="312.73" y="1071.76" width="3.6" height="3.6" fill="#ff1010"/><rect x="315.34" y="1075.79" width="3.6" height="3.6" fill="#ff1010"/><rect x="318.43" y="1078.5" width="3.6" height="3.6" fill="#ff1010"/><rect x="319.87" y="1079.81" width="3.6" height="3.6" fill="#ff1010"/><rect x="322.08" y="1071.05" width="3.6" height="3.6" fill="#ff1010"/><rect x="323.92" y="1083.36" width="3.6" height="3.6" fill="#ff1010"/><rect x="326.31" y="1054.48" width="3.6" height="3.6" fill="#ff1010"/><rect x="328.15" y="1085.27" width="3.6" height="3.6" fill="#ff1010"/><rect x="332.08" y="1055.76" width="3.6" height="3.6" fill="#ff1010"/><rect x="333.42" y="1054.26" width="3.6" height="3.6" fill="#ff1010"/><rect x="336.6" y="1046.99" width="3.6" height="3.6" fill="#ff1010"/><rect x="338.2" y="1058.98" width="3.6" height="3.6" fill="#ff1010"/><rect x="340.61" y="1049.37" width="3.6" height="3.6" fill="#ff1010"/><rect x="342.31" y="1052.61" width="3.6" height="3.6" fill="#ff1010"/><rect x="344.7" y="1047.44" width="3.6" height="3.6" fill="#ff1010"/><rect x="346.29" y="1056.99" width="3.6" height="3.6" fill="#ff1010"/><rect x="348.93" y="1046.3" width="3.6" height="3.6" fill="#ff1010"/><rect x="351.61" y="1063.39" width="3.6" height="3.6" fill="#ff1010"/><rect x="353.37" y="1055.41" width="3.6" height="3.6" fill="#ff1010"/><rect x="354.98" y="1044.01" width="3.6" height="3.6" fill="#ff1010"/><rect x="358.48" y="1039.02" width="3.6" height="3.6" fill="#ff1010"/><rect x="359.58" y="1026.52" width="3.6" height="3.6" fill="#ff1010"/><rect x="362.65" y="1023.54" width="3.6" height="3.6" fill="#ff1010"/><rect x="364.15" y="1026.44" width="3.6" height="3.6" fill="#ff1010"/><rect x="366.83" y="1040.79" width="3.6" height="3.6" fill="#ff1010"/><rect x="368.88" y="1015.84" width="3.6" height="3.6" fill="#ff1010"/><rect x="371.33" y="1008.29" width="3.6" height="3.6" fill="#ff1010"/><rect x="372.77" y="1017.17" width="3.6" height="3.6" fill="#ff1010"/><rect x="376.11" y="1006.63" width="3.6" height="3.6" fill="#ff1010"/><rect x="377.38" y="1018.66" width="3.6" height="3.6" fill="#ff1010"/><rect x="379.19" y="1017.31" width="3.6" height="3.6" fill="#ff1010"/><rect x="381.28" y="1041.22" width="3.6" height="3.6" fill="#ff1010"/><rect x="383.67" y="1037.7" width="3.6" height="3.6" fill="#ff1010"/><rect x="387.47" y="1006.57" width="3.6" height="3.6" fill="#ff1010"/><rect x="387.87" y="1003.22" width="3.6" height="3.6" fill="#ff1010"/><rect x="391.64" y="1001.07" width="3.6" height="3.6" fill="#ff1010"/><rect x="393.2" y="1007.23" width="3.6" height="3.6" fill="#ff1010"/><rect x="394.77" y="1006.9" width="3.6" height="3.6" fill="#ff1010"/><rect x="396.8" y="988.01" width="3.6" height="3.6" fill="#ff1010"/><rect x="399.65" y="1004.8" width="3.6" height="3.6" fill="#ff1010"/><rect x="402" y="973.34" width="3.6" height="3.6" fill="#ff1010"/><rect x="403.86" y="989.94" width="3.6" height="3.6" fill="#ff1010"/><rect x="406.03" y="997.45" width="3.6" height="3.6" fill="#ff1010"/><rect x="408.9" y="998.81" width="3.6" height="3.6" fill="#ff1010"/><rect x="410.93" y="1000.61" width="3.6" height="3.6" fill="#ff1010"/><rect x="414.07" y="984.8" width="3.6" height="3.6" fill="#ff1010"/><rect x="415.34" y="985.9" width="3.6" height="3.6" fill="#ff1010"/><rect x="417.03" y="982.2" width="3.6" height="3.6" fill="#ff1010"/><rect x="420.15" y="976.38" width="3.6" height="3.6" fill="#ff1010"/><rect x="421.78" y="960.49" width="3.6" height="3.6" fill="#ff1010"/><rect x="424.95" y="977.07" width="3.6" height="3.6" fill="#ff1010"/><rect x="427.15" y="959.67" width="3.6" height="3.6" fill="#ff1010"/><rect x="427.7" y="978.56" width="3.6" height="3.6" fill="#ff1010"/><rect x="431.14" y="959.88" width="3.6" height="3.6" fill="#ff1010"/><rect x="432.77" y="945.95" width="3.6" height="3.6" fill="#ff1010"/><rect x="435.61" y="961.07" width="3.6" height="3.6" fill="#ff1010"/><rect x="437.28" y="964.19" width="3.6" height="3.6" fill="#ff1010"/><rect x="439.43" y="958.98" width="3.6" height="3.6" fill="#ff1010"/><rect x="441.29" y="969.68" width="3.6" height="3.6" fill="#ff1010"/><rect x="438.93" y="854.04" width="3.6" height="3.6" fill="#ff1010"/><rect x="440.32" y="927.5" width="3.6" height="3.6" fill="#ff1010"/><rect x="418.09" y="938.63" width="3.6" height="3.6" fill="#ff1010"/><rect x="438.93" y="951.98" width="3.6" height="3.6" fill="#ff1010"/><rect x="387.53" y="980.92" width="3.6" height="3.6" fill="#ff1010"/><rect x="216.67" y="1093.33" width="3.6" height="3.6" fill="#ff1010"/><rect x="312.52" y="1061.06" width="3.6" height="3.6" fill="#ff1010"/><rect x="320.85" y="1061.06" width="3.6" height="3.6" fill="#ff1010"/><rect x="304.18" y="1065.51" width="3.6" height="3.6" fill="#ff1010"/><rect x="268.06" y="1155.66" width="3.6" height="3.6" fill="#ff1010"/><rect x="143.04" y="1157.89" width="3.6" height="3.6" fill="#ff1010"/><rect x="159.71" y="1156.77" width="3.6" height="3.6" fill="#ff1010"/><rect x="170.82" y="1156.77" width="3.6" height="3.6" fill="#ff1010"/><rect x="181.94" y="1155.66" width="3.6" height="3.6" fill="#ff1010"/><rect x="149.99" y="1159" width="3.6" height="3.6" fill="#ff1010"/><rect x="434.76" y="1016.54" width="3.6" height="3.6" fill="#ff1010"/><rect x="433.38" y="1028.78" width="3.6" height="3.6" fill="#ff1010"/></g>
<g><polygon points="111.95,1093.4 115.55,1093.4 113.75,1090.16" fill="#ffc000"/><polygon points="115.46,1121.06 119.06,1121.06 117.26,1117.82" fill="#ffc000"/><polygon points="116.74,1097.22 120.34,1097.22 118.54,1093.98" fill="#ffc000"/><polygon points="120.16,1091.92 123.76,1091.92 121.96,1088.68" fill="#ffc000"/><polygon points="122.7,1113.34 126.3,1113.34 124.5,1110.1" fill="#ffc000"/><polygon points="124.54,1095.41 128.14,1095.41 126.34,1092.17" fill="#ffc000"/><polygon points="127.09,1086.16 130.69,1086.16 128.89,1082.92" fill="#ffc000"/><polygon points="130.08,1101.39 133.68,1101.39 131.88,1098.15" fill="#ffc000"/><polygon points="132.94,1081.71 136.54,1081.71 134.74,1078.47" fill="#ffc000"/><polygon points="135.19,1090.13 138.79,1090.13 136.99,1086.89" fill="#ffc000"/><polygon points="138.15,1092.46 141.75,1092.46 139.95,1089.22" fill="#ffc000"/><polygon points="140.14,1092.3 143.74,1092.3 141.94,1089.06" fill="#ffc000"/><polygon points="142.16,1089.36 145.76,1089.36 143.96,1086.12" fill="#ffc000"/><polygon points="145.04,1097.11 148.64,1097.11 146.84,1093.87" fill="#ffc000"/><polygon points="147.95,1086.97 151.55,1086.97 149.75,1083.73" fill="#ffc000"/><polygon points="151.29,1082.71 154.89,1082.71 153.09,1079.47" fill="#ffc000"/><polygon points="152.15,1074.24 155.75,1074.24 153.95,1071" fill="#ffc000"/><polygon points="156.43,1104.64 160.03,1104.64 158.23,1101.4" fill="#ffc000"/><polygon points="159.09,1085.44 162.69,1085.44 160.89,1082.2" fill="#ffc000"/><polygon points="160.97,1091.57 164.57,1091.57 162.77,1088.33" fill="#ffc000"/><polygon points="163.1,1104.13 166.7,1104.13 164.9,1100.89" fill="#ffc000"/><polygon points="165.68,1076.75 169.28,1076.75 167.48,1073.51" fill="#ffc000"/><polygon points="168.52,1102.35 172.12,1102.35 170.32,1099.11" fill="#ffc000"/><polygon points="171.52,1085.53 175.12,1085.53 173.32,1082.29" fill="#ffc000"/><polygon points="173,1075.91 176.6,1075.91 174.8,1072.67" fill="#ffc000"/><polygon points="175.35,1099.48 178.95,1099.48 177.15,1096.24" fill="#ffc000"/><polygon points="178.47,1129.57 182.07,1129.57 180.27,1126.33" fill="#ffc000"/><polygon points="181.79,1078.92 185.39,1078.92 183.59,1075.68" fill="#ffc000"/><polygon points="182.75,1100.49 186.35,1100.49 184.55,1097.25" fill="#ffc000"/><polygon points="187.02,1078.42 190.62,1078.42 188.82,1075.18" fill="#ffc000"/><polygon points="188.46,1087.1 192.06,1087.1 190.26,1083.86" fill="#ffc000"/><polygon points="192.45,1085.95 196.05,1085.95 194.25,1082.71" fill="#ffc000"/><polygon points="193.56,1083.1 197.16,1083.1 195.36,1079.86" fill="#ffc000"/><polygon points="195.51,1083.8 199.11,1083.8 197.31,1080.56" fill="#ffc000"/><polygon points="198.54,1068.36 202.14,1068.36 200.34,1065.12" fill="#ffc000"/><polygon points="201.71,1067.83 205.31,1067.83 203.51,1064.59" fill="#ffc000"/><polygon points="204.2,1079.89 207.8,1079.89 206,1076.65" fill="#ffc000"/><polygon points="207.76,1068.65 211.36,1068.65 209.56,1065.41" fill="#ffc000"/><polygon points="208.75,1071.6 212.35,1071.6 210.55,1068.36" fill="#ffc000"/><polygon points="211.5,1058.26 215.1,1058.26 213.3,1055.02" fill="#ffc000"/><polygon points="215.13,1091.19 218.73,1091.19 216.93,1087.95" fill="#ffc000"/><polygon points="217.16,1063.96 220.76,1063.96 218.96,1060.72" fill="#ffc000"/><polygon points="220.48,1061.43 224.08,1061.43 222.28,1058.19" fill="#ffc000"/><polygon points="222.42,1086.73 226.02,1086.73 224.22,1083.49" fill="#ffc000"/><polygon points="225.26,1073.65 228.86,1073.65 227.06,1070.41" fill="#ffc000"/><polygon points="226.6,1087.48 230.2,1087.48 228.4,1084.24" fill="#ffc000"/><polygon points="230.57,1073.18 234.17,1073.18 232.37,1069.94" fill="#ffc000"/><polygon points="232.66,1079.57 236.26,1079.57 234.46,1076.33" fill="#ffc000"/><polygon points="233.73,1078.38 237.33,1078.38 235.53,1075.14" fill="#ffc000"/><polygon points="237.56,1054.31 241.16,1054.31 239.36,1051.07" fill="#ffc000"/><polygon points="240.37,1068.8 243.97,1068.8 242.17,1065.56" fill="#ffc000"/><polygon points="242.04,1081.85 245.64,1081.85 243.84,1078.61" fill="#ffc000"/><polygon points="245.4,1075.45 249,1075.45 247.2,1072.21" fill="#ffc000"/><polygon points="247.19,1064.3 250.79,1064.3 248.99,1061.06" fill="#ffc000"/><polygon points="249.88,1093.48 253.48,1093.48 251.68,1090.24" fill="#ffc000"/><polygon points="253.55,1058.56 257.15,1058.56 255.35,1055.32" fill="#ffc000"/><polygon points="254.47,1072.08 258.07,1072.08 256.27,1068.84" fill="#ffc000"/><polygon points="256.93,1071.62 260.53,1071.62 258.73,1068.38" fill="#ffc000"/><polygon points="260.96,1066.48 264.56,1066.48 262.76,1063.24" fill="#ffc000"/><polygon points="262.95,1076.52 266.55,1076.52 264.75,1073.28" fill="#ffc000"/><polygon points="265.95,1061.51 269.55,1061.51 267.75,1058.27" fill="#ffc000"/><polygon points="266.9,1042.29 270.5,1042.29 268.7,1039.05" fill="#ffc000"/><polygon points="270.47,1054.43 274.07,1054.43 272.27,1051.19" fill="#ffc000"/><polygon points="272.04,1061.04 275.64,1061.04 273.84,1057.8" fill="#ffc000"/><polygon points="276.3,1064.51 279.9,1064.51 278.1,1061.27" fill="#ffc000"/><polygon points="278.61,1042.51 282.21,1042.51 280.41,1039.27" fill="#ffc000"/><polygon points="279.69,1066.1 283.29,1066.1 281.49,1062.86" fill="#ffc000"/><polygon points="283.81,1068.06 287.41,1068.06 285.61,1064.82" fill="#ffc000"/><polygon points="285.19,1050.48 288.79,1050.48 286.99,1047.24" fill="#ffc000"/><polygon points="288.08,1043.21 291.68,1043.21 289.88,1039.97" fill="#ffc000"/><polygon points="292.08,1050.85 295.68,1050.85 293.88,1047.61" fill="#ffc000"/><polygon points="293.92,1047.51 297.52,1047.51 295.72,1044.27" fill="#ffc000"/><polygon points="296.79,1061.02 300.39,1061.02 298.59,1057.78" fill="#ffc000"/><polygon points="298.25,1050.38 301.85,1050.38 300.05,1047.14" fill="#ffc000"/><polygon points="300.36,1046.91 303.96,1046.91 302.16,1043.67" fill="#ffc000"/><polygon points="304.15,1065.39 307.75,1065.39 305.95,1062.15" fill="#ffc000"/><polygon points="306.22,1052.97 309.82,1052.97 308.02,1049.73" fill="#ffc000"/><polygon points="309.96,1043.95 313.56,1043.95 311.76,1040.71" fill="#ffc000"/><polygon points="311.75,1058.61 315.35,1058.61 313.55,1055.37" fill="#ffc000"/><polygon points="312.94,1056.36 316.54,1056.36 314.74,1053.12" fill="#ffc000"/><polygon points="316.39,1027.84 319.99,1027.84 318.19,1024.6" fill="#ffc000"/><polygon points="317.99,1035.33 321.59,1035.33 319.79,1032.09" fill="#ffc000"/><polygon points="321.25,1046.68 324.85,1046.68 323.05,1043.44" fill="#ffc000"/><polygon points="324.58,1044.85 328.18,1044.85 326.38,1041.61" fill="#ffc000"/><polygon points="326.4,1058.9 330,1058.9 328.2,1055.66" fill="#ffc000"/><polygon points="328.22,1034.44 331.82,1034.44 330.02,1031.2" fill="#ffc000"/><polygon points="332.81,1024.82 336.41,1024.82 334.61,1021.58" fill="#ffc000"/><polygon points="335.12,1025.94 338.72,1025.94 336.92,1022.7" fill="#ffc000"/><polygon points="337.7,1041.8 341.3,1041.8 339.5,1038.56" fill="#ffc000"/><polygon points="339.37,1039.92 342.97,1039.92 341.17,1036.68" fill="#ffc000"/><polygon points="341.09,1041.23 344.69,1041.23 342.89,1037.99" fill="#ffc000"/><polygon points="345.04,1022.22 348.64,1022.22 346.84,1018.98" fill="#ffc000"/><polygon points="347.21,1039.7 350.81,1039.7 349.01,1036.46" fill="#ffc000"/><polygon points="348.82,1030.66 352.42,1030.66 350.62,1027.42" fill="#ffc000"/><polygon points="351.91,1037.5 355.51,1037.5 353.71,1034.26" fill="#ffc000"/><polygon points="354.65,1035.67 358.25,1035.67 356.45,1032.43" fill="#ffc000"/><polygon points="356.68,1017.49 360.28,1017.49 358.48,1014.25" fill="#ffc000"/><polygon points="359.86,1029.18 363.46,1029.18 361.66,1025.94" fill="#ffc000"/><polygon points="361.79,1029.55 365.39,1029.55 363.59,1026.31" fill="#ffc000"/><polygon points="364.33,1033.99 367.93,1033.99 366.13,1030.75" fill="#ffc000"/><polygon points="368.74,1008.26 372.34,1008.26 370.54,1005.02" fill="#ffc000"/><polygon points="371.05,1015.12 374.65,1015.12 372.85,1011.88" fill="#ffc000"/><polygon points="372.22,1026.77 375.82,1026.77 374.02,1023.53" fill="#ffc000"/><polygon points="374.9,1034.44 378.5,1034.44 376.7,1031.2" fill="#ffc000"/><polygon points="377.44,1021.38 381.04,1021.38 379.24,1018.14" fill="#ffc000"/><polygon points="379.9,1018.36 383.5,1018.36 381.7,1015.12" fill="#ffc000"/><polygon points="383.31,1025.1 386.91,1025.1 385.11,1021.86" fill="#ffc000"/><polygon points="386.39,1023.8 389.99,1023.8 388.19,1020.56" fill="#ffc000"/><polygon points="387.04,1007.43 390.64,1007.43 388.84,1004.19" fill="#ffc000"/><polygon points="391.01,1017.56 394.61,1017.56 392.81,1014.32" fill="#ffc000"/><polygon points="394.11,1019.14 397.71,1019.14 395.91,1015.9" fill="#ffc000"/><polygon points="395.18,1010.69 398.78,1010.69 396.98,1007.45" fill="#ffc000"/><polygon points="397.93,1007.37 401.53,1007.37 399.73,1004.13" fill="#ffc000"/><polygon points="401.3,998.98 404.9,998.98 403.1,995.74" fill="#ffc000"/><polygon points="402.51,996.81 406.11,996.81 404.31,993.57" fill="#ffc000"/><polygon points="405.61,1024.45 409.21,1024.45 407.41,1021.21" fill="#ffc000"/><polygon points="408.39,1013.35 411.99,1013.35 410.19,1010.11" fill="#ffc000"/><polygon points="411.79,981.15 415.39,981.15 413.59,977.91" fill="#ffc000"/><polygon points="413.22,984.89 416.82,984.89 415.02,981.65" fill="#ffc000"/><polygon points="416.01,995.36 419.61,995.36 417.81,992.12" fill="#ffc000"/><polygon points="419.73,976.04 423.33,976.04 421.53,972.8" fill="#ffc000"/><polygon points="420.42,977.32 424.02,977.32 422.22,974.08" fill="#ffc000"/><polygon points="422.95,980.21 426.55,980.21 424.75,976.97" fill="#ffc000"/><polygon points="426.75,984.66 430.35,984.66 428.55,981.42" fill="#ffc000"/><polygon points="429.31,995.11 432.91,995.11 431.11,991.87" fill="#ffc000"/><polygon points="432.31,975.16 435.91,975.16 434.11,971.92" fill="#ffc000"/><polygon points="433.72,989.61 437.32,989.61 435.52,986.37" fill="#ffc000"/><polygon points="435.99,989.18 439.59,989.18 437.79,985.94" fill="#ffc000"/><polygon points="438.27,963.51 441.87,963.51 440.07,960.27" fill="#ffc000"/><polygon points="441.97,978.13 445.57,978.13 443.77,974.89" fill="#ffc000"/><polygon points="313.91,1147.86 317.51,1147.86 315.71,1144.62" fill="#ffc000"/><polygon points="365.31,1130.05 368.91,1130.05 367.11,1126.81" fill="#ffc000"/><polygon points="276.4,1158.99 280,1158.99 278.2,1155.75" fill="#ffc000"/><polygon points="312.52,1017.64 316.12,1017.64 314.32,1014.4" fill="#ffc000"/><polygon points="306.96,1028.77 310.56,1028.77 308.76,1025.53" fill="#ffc000"/><polygon points="318.07,1024.32 321.68,1024.32 319.88,1021.08" fill="#ffc000"/><polygon points="311.13,1033.22 314.73,1033.22 312.93,1029.98" fill="#ffc000"/><polygon points="316.69,1037.67 320.29,1037.67 318.49,1034.43" fill="#ffc000"/><polygon points="120.81,1066.61 124.41,1066.61 122.61,1063.37" fill="#ffc000"/><polygon points="418.09,977.57 421.69,977.57 419.89,974.33" fill="#ffc000"/></g>
<g><polygon points="112.28,1076.87 113.83,1075.32 115.38,1076.87 113.83,1078.42" fill="#2a9ae6"/><polygon points="114.97,1079.82 116.52,1078.27 118.07,1079.82 116.52,1081.37" fill="#2a9ae6"/><polygon points="117.19,1092.21 118.74,1090.66 120.29,1092.21 118.74,1093.76" fill="#2a9ae6"/><polygon points="120.24,1064.22 121.79,1062.67 123.34,1064.22 121.79,1065.77" fill="#2a9ae6"/><polygon points="121.89,1062.92 123.44,1061.37 124.99,1062.92 123.44,1064.47" fill="#2a9ae6"/><polygon points="124.54,1040.65 126.09,1039.1 127.64,1040.65 126.09,1042.2" fill="#2a9ae6"/><polygon points="125.97,1054.03 127.52,1052.48 129.07,1054.03 127.52,1055.58" fill="#2a9ae6"/><polygon points="128.29,1065.97 129.84,1064.42 131.39,1065.97 129.84,1067.52" fill="#2a9ae6"/><polygon points="131.63,1091.15 133.18,1089.6 134.73,1091.15 133.18,1092.7" fill="#2a9ae6"/><polygon points="133.09,1079.58 134.64,1078.03 136.19,1079.58 134.64,1081.13" fill="#2a9ae6"/><polygon points="135.94,1070.87 137.49,1069.32 139.04,1070.87 137.49,1072.42" fill="#2a9ae6"/><polygon points="137.69,1063.68 139.24,1062.13 140.79,1063.68 139.24,1065.23" fill="#2a9ae6"/><polygon points="140.9,1063.68 142.45,1062.13 144,1063.68 142.45,1065.23" fill="#2a9ae6"/><polygon points="142.55,1064.13 144.1,1062.58 145.65,1064.13 144.1,1065.68" fill="#2a9ae6"/><polygon points="144.58,1070.37 146.13,1068.82 147.68,1070.37 146.13,1071.92" fill="#2a9ae6"/><polygon points="147.95,1061.46 149.5,1059.91 151.05,1061.46 149.5,1063.01" fill="#2a9ae6"/><polygon points="150.21,1064.52 151.76,1062.97 153.31,1064.52 151.76,1066.07" fill="#2a9ae6"/><polygon points="151.78,1069.56 153.33,1068.01 154.88,1069.56 153.33,1071.11" fill="#2a9ae6"/><polygon points="155.96,1065.12 157.51,1063.57 159.06,1065.12 157.51,1066.67" fill="#2a9ae6"/><polygon points="156.42,1061.44 157.97,1059.89 159.52,1061.44 157.97,1062.99" fill="#2a9ae6"/><polygon points="159.09,1080.86 160.64,1079.31 162.19,1080.86 160.64,1082.41" fill="#2a9ae6"/><polygon points="163.1,1076.83 164.65,1075.28 166.2,1076.83 164.65,1078.38" fill="#2a9ae6"/><polygon points="163.77,1059.48 165.32,1057.93 166.87,1059.48 165.32,1061.03" fill="#2a9ae6"/><polygon points="167.73,1052.36 169.28,1050.81 170.83,1052.36 169.28,1053.91" fill="#2a9ae6"/><polygon points="170.11,1064.28 171.66,1062.73 173.21,1064.28 171.66,1065.83" fill="#2a9ae6"/><polygon points="171.23,1063.75 172.78,1062.2 174.33,1063.75 172.78,1065.3" fill="#2a9ae6"/><polygon points="174.65,1057.6 176.2,1056.05 177.75,1057.6 176.2,1059.15" fill="#2a9ae6"/><polygon points="176.52,1057.45 178.07,1055.9 179.62,1057.45 178.07,1059" fill="#2a9ae6"/><polygon points="178.32,1063.85 179.87,1062.3 181.42,1063.85 179.87,1065.4" fill="#2a9ae6"/><polygon points="180.32,1045.45 181.87,1043.9 183.42,1045.45 181.87,1047" fill="#2a9ae6"/><polygon points="184.23,1087.52 185.78,1085.97 187.33,1087.52 185.78,1089.07" fill="#2a9ae6"/><polygon points="185.49,1076.77 187.04,1075.22 188.59,1076.77 187.04,1078.32" fill="#2a9ae6"/><polygon points="188.9,1054.56 190.45,1053.01 192,1054.56 190.45,1056.11" fill="#2a9ae6"/><polygon points="190.22,1008.39 191.77,1006.84 193.32,1008.39 191.77,1009.94" fill="#2a9ae6"/><polygon points="193.42,1054.16 194.97,1052.61 196.52,1054.16 194.97,1055.71" fill="#2a9ae6"/><polygon points="196.28,1060.06 197.83,1058.51 199.38,1060.06 197.83,1061.61" fill="#2a9ae6"/><polygon points="198.1,1047.74 199.65,1046.19 201.2,1047.74 199.65,1049.29" fill="#2a9ae6"/><polygon points="200.92,1039.47 202.47,1037.92 204.02,1039.47 202.47,1041.02" fill="#2a9ae6"/><polygon points="201.64,1046.69 203.19,1045.14 204.74,1046.69 203.19,1048.24" fill="#2a9ae6"/><polygon points="204.19,1027.18 205.74,1025.63 207.29,1027.18 205.74,1028.73" fill="#2a9ae6"/><polygon points="207.23,1036.49 208.78,1034.94 210.33,1036.49 208.78,1038.04" fill="#2a9ae6"/><polygon points="208.95,1047.09 210.5,1045.54 212.05,1047.09 210.5,1048.64" fill="#2a9ae6"/><polygon points="211.63,1050.64 213.18,1049.09 214.73,1050.64 213.18,1052.19" fill="#2a9ae6"/><polygon points="214.51,1053.07 216.06,1051.52 217.61,1053.07 216.06,1054.62" fill="#2a9ae6"/><polygon points="217.78,1062.25 219.33,1060.7 220.88,1062.25 219.33,1063.8" fill="#2a9ae6"/><polygon points="219.06,1061.48 220.61,1059.93 222.16,1061.48 220.61,1063.03" fill="#2a9ae6"/><polygon points="221.5,1019.23 223.05,1017.68 224.6,1019.23 223.05,1020.78" fill="#2a9ae6"/><polygon points="224.91,1047.1 226.46,1045.55 228.01,1047.1 226.46,1048.65" fill="#2a9ae6"/><polygon points="225.44,1048.1 226.99,1046.55 228.54,1048.1 226.99,1049.65" fill="#2a9ae6"/><polygon points="227.62,1033.66 229.17,1032.11 230.72,1033.66 229.17,1035.21" fill="#2a9ae6"/><polygon points="230.47,1046.84 232.02,1045.29 233.57,1046.84 232.02,1048.39" fill="#2a9ae6"/><polygon points="234.39,1022.76 235.94,1021.21 237.49,1022.76 235.94,1024.31" fill="#2a9ae6"/><polygon points="235.68,1029.87 237.23,1028.32 238.78,1029.87 237.23,1031.42" fill="#2a9ae6"/><polygon points="238.24,1044.81 239.79,1043.26 241.34,1044.81 239.79,1046.36" fill="#2a9ae6"/><polygon points="239.83,1043.25 241.38,1041.7 242.93,1043.25 241.38,1044.8" fill="#2a9ae6"/><polygon points="241.88,1036.18 243.43,1034.63 244.98,1036.18 243.43,1037.73" fill="#2a9ae6"/><polygon points="246.18,1022.31 247.73,1020.76 249.28,1022.31 247.73,1023.86" fill="#2a9ae6"/><polygon points="247.27,1041.18 248.82,1039.63 250.37,1041.18 248.82,1042.73" fill="#2a9ae6"/><polygon points="249.65,1023.01 251.2,1021.46 252.75,1023.01 251.2,1024.56" fill="#2a9ae6"/><polygon points="251.74,1012.49 253.29,1010.94 254.84,1012.49 253.29,1014.04" fill="#2a9ae6"/><polygon points="255.17,1040.25 256.72,1038.7 258.27,1040.25 256.72,1041.8" fill="#2a9ae6"/><polygon points="257.02,1045.74 258.57,1044.19 260.12,1045.74 258.57,1047.29" fill="#2a9ae6"/><polygon points="259.31,1022.63 260.86,1021.08 262.41,1022.63 260.86,1024.18" fill="#2a9ae6"/><polygon points="262.87,1032.34 264.42,1030.79 265.97,1032.34 264.42,1033.89" fill="#2a9ae6"/><polygon points="263.99,1044.57 265.54,1043.02 267.09,1044.57 265.54,1046.12" fill="#2a9ae6"/><polygon points="267.35,1028.1 268.9,1026.55 270.45,1028.1 268.9,1029.65" fill="#2a9ae6"/><polygon points="269.69,1020.73 271.24,1019.18 272.79,1020.73 271.24,1022.28" fill="#2a9ae6"/><polygon points="271.75,1028.77 273.3,1027.22 274.85,1028.77 273.3,1030.32" fill="#2a9ae6"/><polygon points="272.82,1014.97 274.37,1013.42 275.92,1014.97 274.37,1016.52" fill="#2a9ae6"/><polygon points="276.72,1033.91 278.27,1032.36 279.82,1033.91 278.27,1035.46" fill="#2a9ae6"/><polygon points="279.05,1026.01 280.6,1024.46 282.15,1026.01 280.6,1027.56" fill="#2a9ae6"/><polygon points="280.18,1000.92 281.73,999.37 283.28,1000.92 281.73,1002.47" fill="#2a9ae6"/><polygon points="283.6,991.62 285.15,990.07 286.7,991.62 285.15,993.17" fill="#2a9ae6"/><polygon points="286.19,1013.68 287.74,1012.13 289.29,1013.68 287.74,1015.23" fill="#2a9ae6"/><polygon points="288.93,1025.01 290.48,1023.46 292.03,1025.01 290.48,1026.56" fill="#2a9ae6"/><polygon points="289.93,985.97 291.48,984.42 293.03,985.97 291.48,987.52" fill="#2a9ae6"/><polygon points="292.34,1021.52 293.89,1019.97 295.44,1021.52 293.89,1023.07" fill="#2a9ae6"/><polygon points="294.62,1003.4 296.17,1001.85 297.72,1003.4 296.17,1004.95" fill="#2a9ae6"/><polygon points="297.35,1002.31 298.9,1000.76 300.45,1002.31 298.9,1003.86" fill="#2a9ae6"/><polygon points="300.67,1013.82 302.22,1012.27 303.77,1013.82 302.22,1015.37" fill="#2a9ae6"/><polygon points="302.75,1014.77 304.3,1013.22 305.85,1014.77 304.3,1016.32" fill="#2a9ae6"/><polygon points="304.32,1017.07 305.87,1015.52 307.42,1017.07 305.87,1018.62" fill="#2a9ae6"/><polygon points="306.54,989.68 308.09,988.13 309.64,989.68 308.09,991.23" fill="#2a9ae6"/><polygon points="308.53,983.66 310.08,982.11 311.63,983.66 310.08,985.21" fill="#2a9ae6"/><polygon points="311.76,1007.62 313.31,1006.07 314.86,1007.62 313.31,1009.17" fill="#2a9ae6"/><polygon points="313.12,991.51 314.67,989.96 316.22,991.51 314.67,993.06" fill="#2a9ae6"/><polygon points="317.11,983.96 318.66,982.41 320.21,983.96 318.66,985.51" fill="#2a9ae6"/><polygon points="319.23,1010.48 320.78,1008.93 322.33,1010.48 320.78,1012.03" fill="#2a9ae6"/><polygon points="320.77,991.94 322.32,990.39 323.87,991.94 322.32,993.49" fill="#2a9ae6"/><polygon points="323.08,992.67 324.63,991.12 326.18,992.67 324.63,994.22" fill="#2a9ae6"/><polygon points="325.26,980.07 326.81,978.52 328.36,980.07 326.81,981.62" fill="#2a9ae6"/><polygon points="327.6,959.64 329.15,958.09 330.7,959.64 329.15,961.19" fill="#2a9ae6"/><polygon points="331.4,998.81 332.95,997.26 334.5,998.81 332.95,1000.36" fill="#2a9ae6"/><polygon points="333.78,981.67 335.33,980.12 336.88,981.67 335.33,983.22" fill="#2a9ae6"/><polygon points="335.47,977.06 337.02,975.51 338.57,977.06 337.02,978.61" fill="#2a9ae6"/><polygon points="337.15,974.2 338.7,972.65 340.25,974.2 338.7,975.75" fill="#2a9ae6"/><polygon points="339.47,970.82 341.02,969.27 342.57,970.82 341.02,972.37" fill="#2a9ae6"/><polygon points="341.9,970.03 343.45,968.48 345,970.03 343.45,971.58" fill="#2a9ae6"/><polygon points="344.38,959.66 345.93,958.11 347.48,959.66 345.93,961.21" fill="#2a9ae6"/><polygon points="347.11,973.26 348.66,971.71 350.21,973.26 348.66,974.81" fill="#2a9ae6"/><polygon points="348.76,966.2 350.31,964.65 351.86,966.2 350.31,967.75" fill="#2a9ae6"/><polygon points="351.38,984.08 352.93,982.53 354.48,984.08 352.93,985.63" fill="#2a9ae6"/><polygon points="354.11,964.46 355.66,962.91 357.21,964.46 355.66,966.01" fill="#2a9ae6"/><polygon points="355.83,976.44 357.38,974.89 358.93,976.44 357.38,977.99" fill="#2a9ae6"/><polygon points="359.63,975.2 361.18,973.65 362.73,975.2 361.18,976.75" fill="#2a9ae6"/><polygon points="360.67,962.89 362.22,961.34 363.77,962.89 362.22,964.44" fill="#2a9ae6"/><polygon points="363.37,937.39 364.92,935.84 366.47,937.39 364.92,938.94" fill="#2a9ae6"/><polygon points="365.47,956.73 367.02,955.18 368.57,956.73 367.02,958.28" fill="#2a9ae6"/><polygon points="368.27,943.52 369.82,941.97 371.37,943.52 369.82,945.07" fill="#2a9ae6"/><polygon points="370.47,942.01 372.02,940.46 373.57,942.01 372.02,943.56" fill="#2a9ae6"/><polygon points="372.26,947.63 373.81,946.08 375.36,947.63 373.81,949.18" fill="#2a9ae6"/><polygon points="376.1,932.82 377.65,931.27 379.2,932.82 377.65,934.37" fill="#2a9ae6"/><polygon points="377.52,883.32 379.07,881.77 380.62,883.32 379.07,884.87" fill="#2a9ae6"/><polygon points="381.26,939.52 382.81,937.97 384.36,939.52 382.81,941.07" fill="#2a9ae6"/><polygon points="381.93,949.47 383.48,947.92 385.03,949.47 383.48,951.02" fill="#2a9ae6"/><polygon points="384.29,926.72 385.84,925.17 387.39,926.72 385.84,928.27" fill="#2a9ae6"/><polygon points="388.49,936.26 390.04,934.71 391.59,936.26 390.04,937.81" fill="#2a9ae6"/><polygon points="390.56,940.08 392.11,938.53 393.66,940.08 392.11,941.63" fill="#2a9ae6"/><polygon points="392.79,937.15 394.34,935.6 395.89,937.15 394.34,938.7" fill="#2a9ae6"/><polygon points="395.56,946.33 397.11,944.78 398.66,946.33 397.11,947.88" fill="#2a9ae6"/><polygon points="396.98,942.88 398.53,941.33 400.08,942.88 398.53,944.43" fill="#2a9ae6"/><polygon points="398.93,936.28 400.48,934.73 402.03,936.28 400.48,937.83" fill="#2a9ae6"/><polygon points="401.22,926.55 402.77,925 404.32,926.55 402.77,928.1" fill="#2a9ae6"/><polygon points="403.87,919.3 405.42,917.75 406.97,919.3 405.42,920.85" fill="#2a9ae6"/><polygon points="406.85,912.86 408.4,911.31 409.95,912.86 408.4,914.41" fill="#2a9ae6"/><polygon points="409.69,900.27 411.24,898.72 412.79,900.27 411.24,901.82" fill="#2a9ae6"/><polygon points="411.88,910.01 413.43,908.46 414.98,910.01 413.43,911.56" fill="#2a9ae6"/><polygon points="413.03,906.73 414.58,905.18 416.13,906.73 414.58,908.28" fill="#2a9ae6"/><polygon points="416.11,912.5 417.66,910.95 419.21,912.5 417.66,914.05" fill="#2a9ae6"/><polygon points="418.61,882.44 420.16,880.89 421.71,882.44 420.16,883.99" fill="#2a9ae6"/><polygon points="420.81,902.96 422.36,901.41 423.91,902.96 422.36,904.51" fill="#2a9ae6"/><polygon points="422.98,910.09 424.53,908.54 426.08,910.09 424.53,911.64" fill="#2a9ae6"/><polygon points="425.39,921.72 426.94,920.17 428.49,921.72 426.94,923.27" fill="#2a9ae6"/><polygon points="428.78,891.29 430.33,889.74 431.88,891.29 430.33,892.84" fill="#2a9ae6"/><polygon points="430.57,900.32 432.12,898.77 433.67,900.32 432.12,901.87" fill="#2a9ae6"/><polygon points="432.89,886.89 434.44,885.34 435.99,886.89 434.44,888.44" fill="#2a9ae6"/><polygon points="434.38,882.91 435.93,881.36 437.48,882.91 435.93,884.46" fill="#2a9ae6"/><polygon points="437.17,890.46 438.72,888.91 440.27,890.46 438.72,892.01" fill="#2a9ae6"/><polygon points="439.92,889.86 441.47,888.31 443.02,889.86 441.47,891.41" fill="#2a9ae6"/><polygon points="442.54,862.41 444.09,860.86 445.64,862.41 444.09,863.96" fill="#2a9ae6"/><polygon points="418.34,872.53 419.89,870.98 421.44,872.53 419.89,874.08" fill="#2a9ae6"/><polygon points="430.85,881.44 432.4,879.89 433.95,881.44 432.4,882.99" fill="#2a9ae6"/><polygon points="436.4,882.55 437.95,881 439.5,882.55 437.95,884.1" fill="#2a9ae6"/><polygon points="262.76,992.74 264.31,991.19 265.86,992.74 264.31,994.29" fill="#2a9ae6"/><polygon points="261.37,991.62 262.92,990.07 264.47,991.62 262.92,993.17" fill="#2a9ae6"/><polygon points="146.07,1036.14 147.62,1034.59 149.17,1036.14 147.62,1037.69" fill="#2a9ae6"/><polygon points="122.45,1046.16 124,1044.61 125.55,1046.16 124,1047.71" fill="#2a9ae6"/><polygon points="371.11,966.02 372.66,964.48 374.21,966.02 372.66,967.57" fill="#2a9ae6"/><polygon points="373.89,966.02 375.44,964.48 376.99,966.02 375.44,967.57" fill="#2a9ae6"/><polygon points="376.67,967.14 378.22,965.59 379.77,967.14 378.22,968.69" fill="#2a9ae6"/><polygon points="368.33,967.14 369.88,965.59 371.44,967.14 369.88,968.69" fill="#2a9ae6"/><polygon points="365.56,968.25 367.11,966.7 368.66,968.25 367.11,969.8" fill="#2a9ae6"/><polygon points="362.78,969.36 364.33,967.81 365.88,969.36 364.33,970.91" fill="#2a9ae6"/><polygon points="358.61,971.59 360.16,970.04 361.71,971.59 360.16,973.14" fill="#2a9ae6"/><polygon points="380.84,969.36 382.39,967.81 383.94,969.36 382.39,970.91" fill="#2a9ae6"/><polygon points="385,978.27 386.56,976.72 388.11,978.27 386.56,979.82" fill="#2a9ae6"/><polygon points="387.78,984.95 389.33,983.4 390.88,984.95 389.33,986.5" fill="#2a9ae6"/></g>
<path d="M115.67,1147.86 L121.25,1147.22 L126.83,1146.57 L132.41,1145.92 L137.99,1145.27 L143.57,1144.61 L149.15,1143.94 L154.73,1143.27 L160.31,1142.58 L165.89,1141.88 L171.47,1141.17 L177.05,1140.44 L182.63,1139.69 L188.21,1138.93 L193.79,1138.15 L199.37,1137.35 L204.95,1136.53 L210.53,1135.69 L216.11,1134.83 L221.69,1133.94 L227.27,1133.03 L232.85,1132.09 L238.43,1131.13 L244.01,1130.14 L249.59,1129.12 L255.17,1128.08 L260.75,1127.01 L266.33,1125.91 L271.91,1124.78 L277.49,1123.62 L283.07,1122.43 L288.65,1121.21 L294.23,1119.97 L299.81,1118.69 L305.39,1117.38 L310.97,1116.04 L316.56,1114.67 L322.14,1113.27 L327.72,1111.84 L333.3,1110.38 L338.88,1108.89 L344.46,1107.37 L350.04,1105.81 L355.62,1104.24 L361.2,1102.63 L366.78,1100.99 L372.36,1099.33 L377.94,1097.64 L383.52,1095.92 L389.1,1094.18 L394.68,1092.41 L400.26,1090.61 L405.84,1088.8 L411.42,1086.96 L417,1085.1 L422.58,1083.22 L428.16,1081.31 L433.74,1079.39 L439.32,1077.46 L444.9,1075.5" fill="none" stroke="#66d042" stroke-width="2.4" stroke-linecap="round"/>
<path d="M111.5,1124.58 L117.15,1123.98 L122.8,1123.41 L128.45,1122.87 L134.1,1122.36 L139.75,1121.86 L145.41,1121.37 L151.06,1120.9 L156.71,1120.44 L162.36,1119.97 L168.01,1119.51 L173.66,1119.04 L179.31,1118.57 L184.96,1118.08 L190.61,1117.58 L196.26,1117.06 L201.91,1116.53 L207.56,1115.97 L213.22,1115.38 L218.87,1114.76 L224.52,1114.12 L230.17,1113.44 L235.82,1112.73 L241.47,1111.97 L247.12,1111.18 L252.77,1110.35 L258.42,1109.48 L264.07,1108.56 L269.72,1107.59 L275.37,1106.58 L281.03,1105.52 L286.68,1104.41 L292.33,1103.25 L297.98,1102.04 L303.63,1100.78 L309.28,1099.46 L314.93,1098.1 L320.58,1096.68 L326.23,1095.2 L331.88,1093.67 L337.53,1092.09 L343.18,1090.46 L348.84,1088.77 L354.49,1087.03 L360.14,1085.24 L365.79,1083.4 L371.44,1081.5 L377.09,1079.56 L382.74,1077.57 L388.39,1075.53 L394.04,1073.45 L399.69,1071.32 L405.34,1069.15 L410.99,1066.94 L416.65,1064.69 L422.3,1062.4 L427.95,1060.07 L433.6,1057.72 L439.25,1055.33 L444.9,1052.91" fill="none" stroke="#000" stroke-width="2.4" stroke-linecap="round"/>
<path d="M117.06,1150.84 L122.61,1149.94 L128.17,1149.09 L133.73,1148.3 L139.28,1147.54 L144.84,1146.8 L150.4,1146.06 L155.95,1145.31 L161.51,1144.54 L167.07,1143.74 L172.62,1142.88 L178.18,1141.97 L183.74,1140.99 L189.29,1139.93 L194.85,1138.78 L200.41,1137.53 L205.96,1136.18 L211.52,1134.71 L217.08,1133.12 L222.63,1131.4 L228.19,1129.54 L233.75,1127.55 L239.3,1125.41 L244.86,1123.13 L250.42,1120.69 L255.97,1118.09 L261.53,1115.34 L267.09,1112.42 L272.64,1109.34 L278.2,1106.1 L283.76,1102.7 L289.31,1099.14 L294.87,1095.41 L300.43,1091.52 L305.98,1087.48 L311.54,1083.28 L317.1,1078.93 L322.65,1074.43 L328.21,1069.79 L333.77,1065.01 L339.32,1060.1 L344.88,1055.06 L350.44,1049.9 L355.99,1044.63 L361.55,1039.26 L367.11,1033.79 L372.66,1028.24 L378.22,1022.61 L383.78,1016.91 L389.33,1011.16 L394.89,1005.37 L400.45,999.54 L406,993.7 L411.56,987.85 L417.12,982.01 L422.67,976.19 L428.23,970.41 L433.79,964.68 L439.34,959.03 L444.9,953.46" fill="none" stroke="#ff0000" stroke-width="2.4" stroke-linecap="round"/>
<path d="M114.28,1094.17 L119.88,1093.38 L125.49,1092.61 L131.09,1091.85 L136.69,1091.1 L142.3,1090.34 L147.9,1089.57 L153.5,1088.79 L159.11,1088 L164.71,1087.2 L170.32,1086.36 L175.92,1085.5 L181.52,1084.62 L187.13,1083.69 L192.73,1082.74 L198.33,1081.74 L203.94,1080.69 L209.54,1079.61 L215.15,1078.47 L220.75,1077.28 L226.35,1076.04 L231.96,1074.75 L237.56,1073.39 L243.16,1071.98 L248.77,1070.51 L254.37,1068.98 L259.98,1067.38 L265.58,1065.71 L271.18,1063.98 L276.79,1062.19 L282.39,1060.32 L287.99,1058.39 L293.6,1056.39 L299.2,1054.33 L304.81,1052.19 L310.41,1049.99 L316.01,1047.71 L321.62,1045.37 L327.22,1042.97 L332.82,1040.49 L338.43,1037.95 L344.03,1035.35 L349.64,1032.69 L355.24,1029.96 L360.84,1027.17 L366.45,1024.33 L372.05,1021.43 L377.65,1018.47 L383.26,1015.47 L388.86,1012.41 L394.47,1009.31 L400.07,1006.16 L405.67,1002.97 L411.28,999.75 L416.88,996.49 L422.48,993.2 L428.09,989.88 L433.69,986.53 L439.3,983.17 L444.9,979.79" fill="none" stroke="#ffc000" stroke-width="2.4" stroke-linecap="round"/>
<path d="M111.5,1077 L117.15,1075.41 L122.8,1073.89 L128.45,1072.44 L134.1,1071.03 L139.75,1069.66 L145.41,1068.32 L151.06,1066.99 L156.71,1065.66 L162.36,1064.31 L168.01,1062.95 L173.66,1061.56 L179.31,1060.13 L184.96,1058.66 L190.61,1057.12 L196.26,1055.52 L201.91,1053.85 L207.56,1052.1 L213.22,1050.26 L218.87,1048.33 L224.52,1046.31 L230.17,1044.18 L235.82,1041.94 L241.47,1039.59 L247.12,1037.12 L252.77,1034.53 L258.42,1031.82 L264.07,1028.99 L269.72,1026.02 L275.37,1022.93 L281.03,1019.71 L286.68,1016.36 L292.33,1012.87 L297.98,1009.26 L303.63,1005.51 L309.28,1001.64 L314.93,997.64 L320.58,993.51 L326.23,989.26 L331.88,984.89 L337.53,980.41 L343.18,975.81 L348.84,971.1 L354.49,966.29 L360.14,961.38 L365.79,956.38 L371.44,951.3 L377.09,946.13 L382.74,940.89 L388.39,935.59 L394.04,930.23 L399.69,924.82 L405.34,919.37 L410.99,913.89 L416.65,908.4 L422.3,902.89 L427.95,897.38 L433.6,891.89 L439.25,886.42 L444.9,880.99" fill="none" stroke="#0a72cc" stroke-width="2.4" stroke-linecap="round"/>
</g>
<rect x="111.5" y="826.9" width="333.4" height="333.9" fill="none" stroke="#262626" stroke-width="1.6" stroke-linejoin="round"/>
<line x1="111.5" y1="1138.54" x2="116.1" y2="1138.54" stroke="#262626" stroke-width="1.4"/><line x1="111.5" y1="1116.28" x2="116.1" y2="1116.28" stroke="#262626" stroke-width="1.4"/><line x1="111.5" y1="1094.02" x2="117.5" y2="1094.02" stroke="#262626" stroke-width="1.4"/><line x1="111.5" y1="1071.76" x2="116.1" y2="1071.76" stroke="#262626" stroke-width="1.4"/><line x1="111.5" y1="1049.5" x2="116.1" y2="1049.5" stroke="#262626" stroke-width="1.4"/><line x1="111.5" y1="1027.24" x2="117.5" y2="1027.24" stroke="#262626" stroke-width="1.4"/><line x1="111.5" y1="1004.98" x2="116.1" y2="1004.98" stroke="#262626" stroke-width="1.4"/><line x1="111.5" y1="982.72" x2="116.1" y2="982.72" stroke="#262626" stroke-width="1.4"/><line x1="111.5" y1="960.46" x2="117.5" y2="960.46" stroke="#262626" stroke-width="1.4"/><line x1="111.5" y1="938.2" x2="116.1" y2="938.2" stroke="#262626" stroke-width="1.4"/><line x1="111.5" y1="915.94" x2="116.1" y2="915.94" stroke="#262626" stroke-width="1.4"/><line x1="111.5" y1="893.68" x2="117.5" y2="893.68" stroke="#262626" stroke-width="1.4"/><line x1="111.5" y1="871.42" x2="116.1" y2="871.42" stroke="#262626" stroke-width="1.4"/><line x1="111.5" y1="849.16" x2="116.1" y2="849.16" stroke="#262626" stroke-width="1.4"/>
<line x1="139.28" y1="1160.8" x2="139.28" y2="1156.2" stroke="#262626" stroke-width="1.4"/><line x1="167.07" y1="1160.8" x2="167.07" y2="1154.6" stroke="#262626" stroke-width="1.4"/><line x1="194.85" y1="1160.8" x2="194.85" y2="1156.2" stroke="#262626" stroke-width="1.4"/><line x1="222.63" y1="1160.8" x2="222.63" y2="1154.6" stroke="#262626" stroke-width="1.4"/><line x1="250.42" y1="1160.8" x2="250.42" y2="1156.2" stroke="#262626" stroke-width="1.4"/><line x1="278.2" y1="1160.8" x2="278.2" y2="1154.6" stroke="#262626" stroke-width="1.4"/><line x1="305.98" y1="1160.8" x2="305.98" y2="1156.2" stroke="#262626" stroke-width="1.4"/><line x1="333.77" y1="1160.8" x2="333.77" y2="1154.6" stroke="#262626" stroke-width="1.4"/><line x1="361.55" y1="1160.8" x2="361.55" y2="1156.2" stroke="#262626" stroke-width="1.4"/><line x1="389.33" y1="1160.8" x2="389.33" y2="1154.6" stroke="#262626" stroke-width="1.4"/><line x1="417.12" y1="1160.8" x2="417.12" y2="1156.2" stroke="#262626" stroke-width="1.4"/>
<text x="90.1" y="1167.7" font-size="20" text-anchor="end" font-weight="normal" font-style="normal" fill="#1a1a1a"  stroke="#1a1a1a" stroke-width="0.35">0.0</text>
<text x="90.1" y="1100.92" font-size="20" text-anchor="end" font-weight="normal" font-style="normal" fill="#1a1a1a"  stroke="#1a1a1a" stroke-width="0.35">0.3</text>
<text x="90.1" y="1034.14" font-size="20" text-anchor="end" font-weight="normal" font-style="normal" fill="#1a1a1a"  stroke="#1a1a1a" stroke-width="0.35">0.6</text>
<text x="90.1" y="967.36" font-size="20" text-anchor="end" font-weight="normal" font-style="normal" fill="#1a1a1a"  stroke="#1a1a1a" stroke-width="0.35">0.9</text>
<text x="90.1" y="900.58" font-size="20" text-anchor="end" font-weight="normal" font-style="normal" fill="#1a1a1a"  stroke="#1a1a1a" stroke-width="0.35">1.2</text>
<text x="90.1" y="833.8" font-size="20" text-anchor="end" font-weight="normal" font-style="normal" fill="#1a1a1a"  stroke="#1a1a1a" stroke-width="0.35">1.5</text>
<text x="109.1" y="1191" font-size="20" text-anchor="middle" font-weight="normal" font-style="normal" fill="#1a1a1a"  stroke="#1a1a1a" stroke-width="0.35">0</text>
<text x="164.67" y="1191" font-size="20" text-anchor="middle" font-weight="normal" font-style="normal" fill="#1a1a1a"  stroke="#1a1a1a" stroke-width="0.35">2</text>
<text x="220.23" y="1191" font-size="20" text-anchor="middle" font-weight="normal" font-style="normal" fill="#1a1a1a"  stroke="#1a1a1a" stroke-width="0.35">4</text>
<text x="275.8" y="1191" font-size="20" text-anchor="middle" font-weight="normal" font-style="normal" fill="#1a1a1a"  stroke="#1a1a1a" stroke-width="0.35">6</text>
<text x="331.37" y="1191" font-size="20" text-anchor="middle" font-weight="normal" font-style="normal" fill="#1a1a1a"  stroke="#1a1a1a" stroke-width="0.35">8</text>
<text x="386.93" y="1191" font-size="20" text-anchor="middle" font-weight="normal" font-style="normal" fill="#1a1a1a"  stroke="#1a1a1a" stroke-width="0.35">10</text>
<text x="442.5" y="1191" font-size="20" text-anchor="middle" font-weight="normal" font-style="normal" fill="#1a1a1a"  stroke="#1a1a1a" stroke-width="0.35">12</text>
<text x="278.6" y="1216.2" font-size="19.6" text-anchor="middle" font-weight="bold" font-style="normal" fill="#111" >Displacement (µm)</text>
<text transform="translate(49.2,991.45) rotate(-90)" font-size="19.6" font-weight="bold" text-anchor="middle" fill="#111">Force (mN)</text>
<text x="147.2" y="846.2" font-size="18" font-weight="bold" fill="#ff0000"><tspan font-style="italic">R</tspan><tspan font-size="12.5" dy="4">PVA/BA</tspan></text>
<rect x="132.8" y="857.1" width="104.3" height="103.9" fill="#000" opacity="0.55" filter="url(#shadow)"/>
<rect x="130.2" y="854.3" width="104.3" height="103.9" fill="#fff" stroke="#1a1a1a" stroke-width="1.3"/>
<circle cx="152.9" cy="865.3" r="1.6" fill="none" stroke="#7ad65a" stroke-width="0.9"/>
<text x="168" y="870.4" font-size="15" text-anchor="start" font-weight="normal" font-style="normal" fill="#1a1a1a"  stroke="#1a1a1a" stroke-width="0.35">85.1</text>
<circle cx="152.9" cy="885.45" r="1.8" fill="#000"/>
<text x="168" y="890.55" font-size="15" text-anchor="start" font-weight="normal" font-style="normal" fill="#1a1a1a"  stroke="#1a1a1a" stroke-width="0.35">113.5</text>
<rect x="151.1" y="903.8" width="3.6" height="3.6" fill="#ff1010"/>
<text x="168" y="910.7" font-size="15" text-anchor="start" font-weight="normal" font-style="normal" fill="#1a1a1a"  stroke="#1a1a1a" stroke-width="0.35">146.9</text>
<polygon points="151,927.37 154.8,927.37 152.9,923.95" fill="#ffc000"/>
<text x="168" y="930.85" font-size="15" text-anchor="start" font-weight="normal" font-style="normal" fill="#1a1a1a"  stroke="#1a1a1a" stroke-width="0.35">170.2</text>
<polygon points="151.2,945.9 152.9,944.2 154.6,945.9 152.9,947.6" fill="#2a9ae6"/>
<text x="168" y="951" font-size="15" text-anchor="start" font-weight="normal" font-style="normal" fill="#1a1a1a"  stroke="#1a1a1a" stroke-width="0.35">198.6</text>
<rect x="557.6" y="408.5" width="338.2" height="334.6" fill="none" stroke="#262626" stroke-width="1.6" stroke-linejoin="round"/>
<line x1="557.6" y1="709.64" x2="561.9" y2="709.64" stroke="#262626" stroke-width="1.4"/><line x1="557.6" y1="676.18" x2="563.4" y2="676.18" stroke="#262626" stroke-width="1.4"/><line x1="557.6" y1="642.72" x2="561.9" y2="642.72" stroke="#262626" stroke-width="1.4"/><line x1="557.6" y1="609.26" x2="563.4" y2="609.26" stroke="#262626" stroke-width="1.4"/><line x1="557.6" y1="575.8" x2="561.9" y2="575.8" stroke="#262626" stroke-width="1.4"/><line x1="557.6" y1="542.34" x2="563.4" y2="542.34" stroke="#262626" stroke-width="1.4"/><line x1="557.6" y1="508.88" x2="561.9" y2="508.88" stroke="#262626" stroke-width="1.4"/><line x1="557.6" y1="475.42" x2="563.4" y2="475.42" stroke="#262626" stroke-width="1.4"/><line x1="557.6" y1="441.96" x2="561.9" y2="441.96" stroke="#262626" stroke-width="1.4"/>
<text x="541" y="749.3" font-size="20" text-anchor="end" font-weight="normal" font-style="normal" fill="#1a1a1a"  stroke="#1a1a1a" stroke-width="0.35">0</text>
<text x="541" y="682.38" font-size="20" text-anchor="end" font-weight="normal" font-style="normal" fill="#1a1a1a"  stroke="#1a1a1a" stroke-width="0.35">0.1</text>
<text x="541" y="615.46" font-size="20" text-anchor="end" font-weight="normal" font-style="normal" fill="#1a1a1a"  stroke="#1a1a1a" stroke-width="0.35">0.2</text>
<text x="541" y="548.54" font-size="20" text-anchor="end" font-weight="normal" font-style="normal" fill="#1a1a1a"  stroke="#1a1a1a" stroke-width="0.35">0.3</text>
<text x="541" y="481.62" font-size="20" text-anchor="end" font-weight="normal" font-style="normal" fill="#1a1a1a"  stroke="#1a1a1a" stroke-width="0.35">0.4</text>
<text x="541" y="414.7" font-size="20" text-anchor="end" font-weight="normal" font-style="normal" fill="#1a1a1a"  stroke="#1a1a1a" stroke-width="0.35">0.5</text>
<line x1="599.88" y1="743.1" x2="599.88" y2="738.8" stroke="#262626" stroke-width="1.4"/><line x1="642.15" y1="743.1" x2="642.15" y2="737.3" stroke="#262626" stroke-width="1.4"/><line x1="684.42" y1="743.1" x2="684.42" y2="738.8" stroke="#262626" stroke-width="1.4"/><line x1="726.7" y1="743.1" x2="726.7" y2="737.3" stroke="#262626" stroke-width="1.4"/><line x1="768.98" y1="743.1" x2="768.98" y2="738.8" stroke="#262626" stroke-width="1.4"/><line x1="811.25" y1="743.1" x2="811.25" y2="737.3" stroke="#262626" stroke-width="1.4"/><line x1="853.52" y1="743.1" x2="853.52" y2="738.8" stroke="#262626" stroke-width="1.4"/>
<text x="557.6" y="773.2" font-size="20" text-anchor="middle" font-weight="normal" font-style="normal" fill="#1a1a1a"  stroke="#1a1a1a" stroke-width="0.35">0</text>
<text x="642.15" y="773.2" font-size="20" text-anchor="middle" font-weight="normal" font-style="normal" fill="#1a1a1a"  stroke="#1a1a1a" stroke-width="0.35">0.004</text>
<text x="726.7" y="773.2" font-size="20" text-anchor="middle" font-weight="normal" font-style="normal" fill="#1a1a1a"  stroke="#1a1a1a" stroke-width="0.35">0.008</text>
<text x="811.25" y="773.2" font-size="20" text-anchor="middle" font-weight="normal" font-style="normal" fill="#1a1a1a"  stroke="#1a1a1a" stroke-width="0.35">0.012</text>
<text x="895.8" y="773.2" font-size="20" text-anchor="middle" font-weight="normal" font-style="normal" fill="#1a1a1a"  stroke="#1a1a1a" stroke-width="0.35">0.016</text>
<line x1="587.19" y1="453.67" x2="857.75" y2="665.47" stroke="#111" stroke-width="1.5"/>
<path d="M587.19,421.88 V508.88 M584.99,421.88 h4.4 M584.99,508.88 h4.4" stroke="#111" stroke-width="1.25" fill="none"/>
<polygon points="582.49,472.33 591.89,472.33 587.19,464.13" fill="#000"/>
<path d="M631.58,462.04 V515.57 M629.38,462.04 h4.4 M629.38,515.57 h4.4" stroke="#111" stroke-width="1.25" fill="none"/>
<polygon points="626.88,492.4 636.28,492.4 631.58,484.2" fill="#000"/>
<path d="M705.56,468.73 V542.34 M703.36,468.73 h4.4 M703.36,542.34 h4.4" stroke="#111" stroke-width="1.25" fill="none"/>
<polygon points="700.86,512.48 710.26,512.48 705.56,504.28" fill="#000"/>
<path d="M783.77,595.88 V636.03 M781.57,595.88 h4.4 M781.57,636.03 h4.4" stroke="#111" stroke-width="1.25" fill="none"/>
<polygon points="779.07,626.24 788.47,626.24 783.77,618.04" fill="#000"/>
<path d="M857.75,656.1 V682.87 M855.55,656.1 h4.4 M855.55,682.87 h4.4" stroke="#111" stroke-width="1.25" fill="none"/>
<polygon points="853.05,673.09 862.45,673.09 857.75,664.89" fill="#000"/>
<text transform="translate(501.7,582.2) rotate(-90)" font-size="20" font-weight="bold" text-anchor="middle" fill="#111"><tspan font-style="italic">E</tspan> (MPa)</text>
<text x="694" y="806.2" font-size="20" font-weight="bold" fill="#111"><tspan font-style="italic">R</tspan><tspan font-size="13" dy="4">BA/PVA</tspan></text>
<rect x="560.3" y="826.9" width="337.8" height="334.4" fill="none" stroke="#262626" stroke-width="1.6" stroke-linejoin="round"/>
<line x1="560.3" y1="1137.41" x2="564.6" y2="1137.41" stroke="#262626" stroke-width="1.4"/><line x1="560.3" y1="1113.53" x2="566.1" y2="1113.53" stroke="#262626" stroke-width="1.4"/><line x1="560.3" y1="1089.64" x2="564.6" y2="1089.64" stroke="#262626" stroke-width="1.4"/><line x1="560.3" y1="1065.76" x2="566.1" y2="1065.76" stroke="#262626" stroke-width="1.4"/><line x1="560.3" y1="1041.87" x2="564.6" y2="1041.87" stroke="#262626" stroke-width="1.4"/><line x1="560.3" y1="1017.99" x2="566.1" y2="1017.99" stroke="#262626" stroke-width="1.4"/><line x1="560.3" y1="994.1" x2="564.6" y2="994.1" stroke="#262626" stroke-width="1.4"/><line x1="560.3" y1="970.21" x2="566.1" y2="970.21" stroke="#262626" stroke-width="1.4"/><line x1="560.3" y1="946.33" x2="564.6" y2="946.33" stroke="#262626" stroke-width="1.4"/><line x1="560.3" y1="922.44" x2="566.1" y2="922.44" stroke="#262626" stroke-width="1.4"/><line x1="560.3" y1="898.56" x2="564.6" y2="898.56" stroke="#262626" stroke-width="1.4"/><line x1="560.3" y1="874.67" x2="566.1" y2="874.67" stroke="#262626" stroke-width="1.4"/><line x1="560.3" y1="850.79" x2="564.6" y2="850.79" stroke="#262626" stroke-width="1.4"/>
<text x="543.5" y="1168.2" font-size="20" text-anchor="end" font-weight="normal" font-style="normal" fill="#1a1a1a"  stroke="#1a1a1a" stroke-width="0.35">0</text>
<text x="543.5" y="1120.43" font-size="20" text-anchor="end" font-weight="normal" font-style="normal" fill="#1a1a1a"  stroke="#1a1a1a" stroke-width="0.35">0.1</text>
<text x="543.5" y="1072.66" font-size="20" text-anchor="end" font-weight="normal" font-style="normal" fill="#1a1a1a"  stroke="#1a1a1a" stroke-width="0.35">0.2</text>
<text x="543.5" y="1024.89" font-size="20" text-anchor="end" font-weight="normal" font-style="normal" fill="#1a1a1a"  stroke="#1a1a1a" stroke-width="0.35">0.3</text>
<text x="543.5" y="977.11" font-size="20" text-anchor="end" font-weight="normal" font-style="normal" fill="#1a1a1a"  stroke="#1a1a1a" stroke-width="0.35">0.4</text>
<text x="543.5" y="929.34" font-size="20" text-anchor="end" font-weight="normal" font-style="normal" fill="#1a1a1a"  stroke="#1a1a1a" stroke-width="0.35">0.5</text>
<text x="543.5" y="881.57" font-size="20" text-anchor="end" font-weight="normal" font-style="normal" fill="#1a1a1a"  stroke="#1a1a1a" stroke-width="0.35">0.6</text>
<text x="543.5" y="833.8" font-size="20" text-anchor="end" font-weight="normal" font-style="normal" fill="#1a1a1a"  stroke="#1a1a1a" stroke-width="0.35">0.7</text>
<line x1="602.52" y1="1161.3" x2="602.52" y2="1157" stroke="#262626" stroke-width="1.4"/><line x1="644.75" y1="1161.3" x2="644.75" y2="1155.5" stroke="#262626" stroke-width="1.4"/><line x1="686.98" y1="1161.3" x2="686.98" y2="1157" stroke="#262626" stroke-width="1.4"/><line x1="729.2" y1="1161.3" x2="729.2" y2="1155.5" stroke="#262626" stroke-width="1.4"/><line x1="771.42" y1="1161.3" x2="771.42" y2="1157" stroke="#262626" stroke-width="1.4"/><line x1="813.65" y1="1161.3" x2="813.65" y2="1155.5" stroke="#262626" stroke-width="1.4"/><line x1="855.88" y1="1161.3" x2="855.88" y2="1157" stroke="#262626" stroke-width="1.4"/>
<text x="560.3" y="1191.6" font-size="20" text-anchor="middle" font-weight="normal" font-style="normal" fill="#1a1a1a"  stroke="#1a1a1a" stroke-width="0.35">50</text>
<text x="644.75" y="1191.6" font-size="20" text-anchor="middle" font-weight="normal" font-style="normal" fill="#1a1a1a"  stroke="#1a1a1a" stroke-width="0.35">100</text>
<text x="729.2" y="1191.6" font-size="20" text-anchor="middle" font-weight="normal" font-style="normal" fill="#1a1a1a"  stroke="#1a1a1a" stroke-width="0.35">150</text>
<text x="813.65" y="1191.6" font-size="20" text-anchor="middle" font-weight="normal" font-style="normal" fill="#1a1a1a"  stroke="#1a1a1a" stroke-width="0.35">200</text>
<text x="898.1" y="1191.6" font-size="20" text-anchor="middle" font-weight="normal" font-style="normal" fill="#1a1a1a"  stroke="#1a1a1a" stroke-width="0.35">250</text>
<line x1="619.58" y1="1078.66" x2="811.29" y2="899.51" stroke="#111" stroke-width="1.5"/>
<path d="M619.58,1061.46 V1090.12 M617.38,1061.46 h4.4 M617.38,1090.12 h4.4" stroke="#111" stroke-width="1.25" fill="none"/>
<rect x="615.98" y="1072.19" width="7.2" height="7.2" fill="#000"/>
<path d="M667.55,1032.79 V1047.13 M665.35,1032.79 h4.4 M665.35,1047.13 h4.4" stroke="#111" stroke-width="1.25" fill="none"/>
<rect x="663.95" y="1033.97" width="7.2" height="7.2" fill="#000"/>
<path d="M715.35,955.88 V1013.69 M713.15,955.88 h4.4 M713.15,1013.69 h4.4" stroke="#111" stroke-width="1.25" fill="none"/>
<rect x="711.75" y="986.2" width="7.2" height="7.2" fill="#000"/>
<path d="M763.32,932 V965.44 M761.12,932 h4.4 M761.12,965.44 h4.4" stroke="#111" stroke-width="1.25" fill="none"/>
<rect x="759.72" y="947.98" width="7.2" height="7.2" fill="#000"/>
<path d="M811.29,865.12 V912.89 M809.09,865.12 h4.4 M809.09,912.89 h4.4" stroke="#111" stroke-width="1.25" fill="none"/>
<rect x="807.69" y="890.66" width="7.2" height="7.2" fill="#000"/>
<text transform="translate(504,1001.1) rotate(-90)" font-size="20" font-weight="bold" text-anchor="middle" fill="#111"><tspan font-style="italic">E</tspan> (MPa)</text>
<text x="698.5" y="1216.8" font-size="20" font-weight="bold" fill="#111"><tspan font-style="italic">R</tspan><tspan font-size="13" dy="4">PVA/BA</tspan></text>
</g>
</svg></body></html>
